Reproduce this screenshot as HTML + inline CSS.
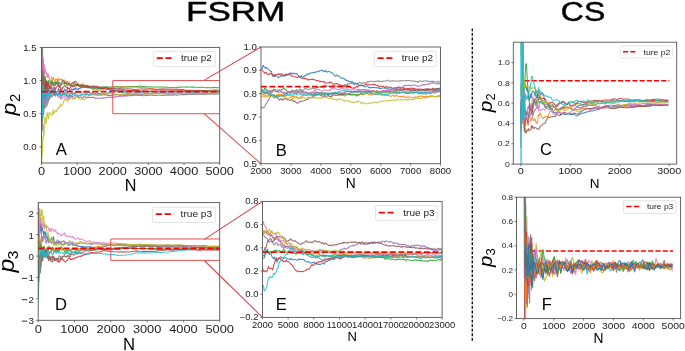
<!DOCTYPE html>
<html><head><meta charset="utf-8"><style>
html,body{margin:0;padding:0;background:#fff;width:685px;height:351px;overflow:hidden}
svg{display:block;will-change:transform}
</style></head><body>
<svg width="685" height="351" viewBox="0 0 685 351" font-family='"Liberation Sans", sans-serif'>
<rect width="685" height="351" fill="#fff"/>
<text transform="translate(235.60,21.00) scale(1.26,1)" font-size="27.8" text-anchor="middle" fill="#000" stroke="#000" stroke-width="0.45">FSRM</text>
<text transform="translate(583.00,21.00) scale(1.15,1)" font-size="27.8" text-anchor="middle" fill="#000" stroke="#000" stroke-width="0.45">CS</text>
<line x1="472.3" y1="28.5" x2="472.3" y2="341.8" stroke="#111" stroke-width="1.4" stroke-dasharray="2.8,1.75"/>
<clipPath id="cA"><rect x="41.5" y="47.4" width="178.2" height="115.6"/></clipPath>
<g clip-path="url(#cA)">
<polyline points="41.5,107.1 41.6,131.0 41.7,103.3 41.9,107.8 42.0,103.8 42.1,99.0 42.2,101.0 42.3,100.3 42.4,94.2 42.5,93.3 42.6,90.2 42.7,89.0 42.8,89.2 42.9,92.0 43.1,90.1 43.4,92.8 43.6,88.7 43.8,88.5 44.0,89.2 44.2,83.3 44.4,89.6 44.6,97.9 44.9,94.8 45.1,95.2 45.3,96.8 45.5,95.0 45.7,90.7 45.9,94.0 46.1,93.5 46.3,93.0 46.6,91.4 46.8,92.2 47.0,95.0 47.2,91.8 47.4,90.1 47.6,93.0 47.8,92.9 48.1,92.1 48.3,94.0 48.5,93.8 48.6,94.6 49.1,91.0 49.6,92.1 50.1,94.4 50.6,92.7 51.1,90.2 51.6,89.9 52.1,93.2 52.6,93.3 53.1,91.1 53.6,90.8 54.1,93.6 54.6,94.1 55.1,92.7 55.6,93.4 56.1,92.3 56.6,91.4 57.1,91.6 57.6,91.3 58.1,90.7 58.6,88.5 59.1,89.0 59.6,89.9 60.1,90.1 60.6,91.0 61.1,90.7 61.6,90.9 62.1,92.3 62.6,93.4 63.1,92.8 63.6,90.7 64.1,90.4 64.6,89.1 65.1,89.9 65.6,90.9 66.1,91.6 66.6,89.6 67.1,90.0 67.6,88.3 68.1,88.5 68.6,88.6 69.1,88.5 69.6,90.8 70.1,90.8 70.6,90.2 71.1,89.7 71.6,88.9 72.1,89.6 72.6,89.5 73.1,89.9 73.6,88.9 74.1,88.2 74.6,89.8 75.1,89.4 75.6,88.1 76.1,88.0 76.6,88.4 77.1,89.4 77.6,89.4 78.1,89.2 78.6,88.5 79.1,88.8 79.6,88.8 80.1,87.8 80.6,87.4 81.1,88.2 81.6,87.6 82.1,87.0 82.6,87.1 83.1,87.3 83.6,87.2 84.1,86.6 84.6,87.1 85.1,87.3 85.6,87.6 86.0,87.4 86.5,87.1 87.0,87.2 87.5,87.8 88.0,88.0 88.5,87.8 89.0,87.4 89.5,87.8 90.0,87.4 90.5,87.4 91.0,87.6 91.5,87.8 92.0,88.0 92.5,87.3 93.0,87.1 93.5,87.1 94.0,87.1 94.5,87.0 95.0,87.3 95.5,87.2 96.0,87.1 96.5,87.4 97.0,87.7 97.5,88.1 98.0,88.3 98.5,88.7 99.0,88.7 99.5,88.6 100.0,88.7 100.5,88.3 101.0,88.6 101.5,88.6 102.0,88.7 102.5,88.5 103.0,88.7 103.5,89.0 104.0,88.8 104.5,88.9 105.0,89.0 105.5,89.0 106.0,89.1 106.5,89.4 107.0,89.3 107.5,89.4 108.0,89.6 108.5,89.4 109.0,89.4 109.5,89.7 110.0,89.9 110.5,90.2 111.0,90.4 111.5,90.4 112.0,90.5 112.5,90.6 112.8,90.7 113.7,90.6 114.6,90.8 115.5,90.4 116.3,90.7 117.2,90.9 118.1,91.2 119.0,90.9 119.9,91.0 120.8,90.9 121.7,90.8 122.6,91.0 123.5,91.0 124.4,91.1 125.3,91.1 126.1,91.6 127.0,91.7 127.9,91.3 128.8,91.1 129.7,91.1 130.6,91.3 131.5,91.1 132.4,91.3 133.3,91.6 134.2,91.7 135.1,91.6 135.9,91.5 136.8,91.4 137.7,91.6 138.6,91.6 139.5,91.4 140.4,91.5 141.3,91.6 142.2,91.5 143.1,91.3 144.0,91.5 144.9,91.4 145.7,91.4 146.6,91.4 147.5,91.5 148.4,91.3 149.3,91.5 150.2,91.3 151.1,91.4 152.0,91.3 152.9,91.4 153.8,91.5 154.7,91.4 155.5,91.5 156.4,91.6 157.3,91.9 158.2,92.0 159.1,92.1 160.0,92.0 160.9,91.9 161.8,92.1 162.7,92.1 163.6,92.1 164.5,92.0 165.3,91.9 166.2,91.9 167.1,91.7 168.0,91.8 168.9,91.8 169.8,91.8 170.7,91.6 171.6,91.7 172.5,91.6 173.4,91.6 174.3,91.6 175.1,91.8 176.0,91.6 176.9,91.6 177.8,91.7 178.7,91.7 179.6,91.7 180.5,91.6 181.4,91.6 182.3,91.6 183.2,91.7 184.1,91.5 185.0,91.4 185.8,91.5 186.7,91.7 187.6,91.7 188.5,91.7 189.4,91.5 190.3,91.7 191.2,91.7 192.1,91.8 193.0,91.6 193.9,91.6 194.8,91.6 195.6,91.7 196.5,91.7 197.4,91.6 198.3,91.7 199.2,91.8 200.1,91.8 201.0,91.9 201.9,91.8 202.8,91.6 203.7,91.5 204.6,91.6 205.4,91.5 206.3,91.6 207.2,91.6 208.1,91.6 209.0,91.5 209.9,91.6 210.8,91.7 211.7,91.6 212.6,91.6 213.5,91.6 214.4,91.6 215.2,91.7 216.1,91.6 217.0,91.6 217.9,91.7 218.8,91.5 219.7,91.6" fill="none" stroke="#1f77b4" stroke-width="1.05" stroke-linejoin="round" stroke-opacity="0.85" />
<polyline points="41.5,87.2 41.6,83.2 41.7,85.7 41.9,57.9 42.0,80.5 42.1,72.2 42.2,64.0 42.3,78.8 42.4,79.1 42.5,66.5 42.6,61.5 42.7,65.7 42.8,82.4 42.9,71.9 43.1,69.7 43.4,76.0 43.6,78.5 43.8,82.7 44.0,86.8 44.2,81.4 44.4,83.1 44.6,87.6 44.9,88.3 45.1,89.3 45.3,87.7 45.5,88.9 45.7,85.7 45.9,82.6 46.1,79.9 46.3,82.6 46.6,88.1 46.8,87.8 47.0,89.9 47.2,87.5 47.4,82.5 47.6,82.3 47.8,83.1 48.1,84.8 48.3,85.9 48.5,84.3 48.6,85.1 49.1,83.4 49.6,83.9 50.1,81.4 50.6,83.2 51.1,80.0 51.6,76.9 52.1,79.2 52.6,78.7 53.1,79.1 53.6,77.4 54.1,79.9 54.6,81.2 55.1,81.0 55.6,79.1 56.1,79.1 56.6,80.1 57.1,79.0 57.6,80.0 58.1,80.1 58.6,78.3 59.1,80.3 59.6,79.3 60.1,79.4 60.6,79.1 61.1,79.6 61.6,79.6 62.1,79.4 62.6,81.4 63.1,80.8 63.6,81.2 64.1,80.9 64.6,79.9 65.1,82.2 65.6,81.4 66.1,81.7 66.6,81.9 67.1,81.5 67.6,81.7 68.1,82.4 68.6,82.5 69.1,81.8 69.6,83.5 70.1,84.2 70.6,85.1 71.1,85.6 71.6,84.0 72.1,83.6 72.6,83.7 73.1,84.6 73.6,83.3 74.1,83.4 74.6,83.0 75.1,83.4 75.6,84.2 76.1,84.4 76.6,84.4 77.1,83.7 77.6,84.2 78.1,84.4 78.6,85.7 79.1,85.9 79.6,86.3 80.1,86.1 80.6,86.0 81.1,85.8 81.6,85.6 82.1,84.1 82.6,83.8 83.1,84.3 83.6,84.9 84.1,85.1 84.6,85.4 85.1,85.3 85.6,85.3 86.0,85.8 86.5,85.6 87.0,86.0 87.5,86.1 88.0,85.7 88.5,86.4 89.0,86.7 89.5,86.2 90.0,86.8 90.5,87.5 91.0,88.1 91.5,88.0 92.0,88.6 92.5,89.3 93.0,89.5 93.5,89.5 94.0,88.9 94.5,88.7 95.0,89.0 95.5,88.9 96.0,89.5 96.5,89.4 97.0,89.4 97.5,90.0 98.0,90.1 98.5,90.5 99.0,90.1 99.5,89.8 100.0,90.2 100.5,90.2 101.0,89.5 101.5,89.3 102.0,89.1 102.5,89.2 103.0,89.2 103.5,88.8 104.0,89.0 104.5,88.8 105.0,88.8 105.5,88.8 106.0,88.5 106.5,88.4 107.0,88.7 107.5,88.3 108.0,88.3 108.5,88.5 109.0,88.3 109.5,88.2 110.0,88.2 110.5,88.1 111.0,87.9 111.5,87.7 112.0,87.3 112.5,87.4 112.8,87.2 113.7,87.1 114.6,87.0 115.5,87.0 116.3,87.1 117.2,87.0 118.1,86.8 119.0,86.9 119.9,86.8 120.8,86.5 121.7,86.6 122.6,86.9 123.5,86.7 124.4,86.7 125.3,86.8 126.1,86.8 127.0,86.8 127.9,86.7 128.8,86.8 129.7,87.0 130.6,86.9 131.5,86.7 132.4,86.8 133.3,86.7 134.2,86.8 135.1,86.7 135.9,86.9 136.8,87.0 137.7,87.1 138.6,87.4 139.5,87.5 140.4,87.5 141.3,87.6 142.2,87.7 143.1,87.6 144.0,87.7 144.9,87.8 145.7,87.9 146.6,88.0 147.5,88.1 148.4,88.3 149.3,88.4 150.2,88.4 151.1,88.6 152.0,88.6 152.9,88.8 153.8,88.9 154.7,88.9 155.5,89.3 156.4,89.3 157.3,89.4 158.2,89.5 159.1,89.5 160.0,89.5 160.9,89.4 161.8,89.3 162.7,89.4 163.6,89.5 164.5,89.4 165.3,89.5 166.2,89.6 167.1,89.7 168.0,89.8 168.9,89.7 169.8,89.7 170.7,89.9 171.6,89.8 172.5,89.9 173.4,89.8 174.3,89.8 175.1,89.9 176.0,89.9 176.9,90.0 177.8,89.9 178.7,89.9 179.6,90.1 180.5,90.3 181.4,90.4 182.3,90.2 183.2,90.3 184.1,90.3 185.0,90.5 185.8,90.4 186.7,90.5 187.6,90.5 188.5,90.4 189.4,90.4 190.3,90.3 191.2,90.3 192.1,90.4 193.0,90.3 193.9,90.4 194.8,90.3 195.6,90.4 196.5,90.3 197.4,90.3 198.3,90.4 199.2,90.2 200.1,90.2 201.0,90.3 201.9,90.4 202.8,90.6 203.7,90.5 204.6,90.6 205.4,90.6 206.3,90.7 207.2,90.8 208.1,90.9 209.0,91.0 209.9,91.0 210.8,91.0 211.7,91.1 212.6,91.2 213.5,91.2 214.4,91.0 215.2,91.0 216.1,90.9 217.0,90.9 217.9,91.0 218.8,91.1 219.7,91.2" fill="none" stroke="#ff7f0e" stroke-width="1.05" stroke-linejoin="round" stroke-opacity="0.85" />
<polyline points="41.5,47.4 41.6,38.1 41.7,77.0 41.9,27.2 42.0,51.1 42.1,38.2 42.2,45.4 42.3,40.6 42.4,53.0 42.5,54.4 42.6,49.3 42.7,61.3 42.8,57.2 42.9,57.3 43.1,57.6 43.4,63.3 43.6,73.4 43.8,70.7 44.0,72.5 44.2,73.0 44.4,77.2 44.6,80.4 44.9,81.3 45.1,80.5 45.3,81.7 45.5,77.0 45.7,80.3 45.9,82.8 46.1,87.7 46.3,87.0 46.6,80.8 46.8,86.0 47.0,85.9 47.2,85.6 47.4,85.5 47.6,83.5 47.8,82.0 48.1,83.7 48.3,82.8 48.5,81.2 48.6,80.3 49.1,85.0 49.6,88.1 50.1,86.6 50.6,81.7 51.1,86.8 51.6,80.8 52.1,80.4 52.6,81.1 53.1,84.4 53.6,82.6 54.1,85.3 54.6,82.7 55.1,81.9 55.6,84.3 56.1,81.9 56.6,84.0 57.1,83.3 57.6,80.6 58.1,82.4 58.6,82.0 59.1,83.8 59.6,82.4 60.1,84.0 60.6,84.5 61.1,84.4 61.6,84.7 62.1,84.2 62.6,84.1 63.1,82.8 63.6,83.8 64.1,83.4 64.6,84.2 65.1,83.6 65.6,82.7 66.1,83.8 66.6,85.0 67.1,85.4 67.6,84.4 68.1,84.7 68.6,84.5 69.1,84.9 69.6,85.6 70.1,85.4 70.6,85.4 71.1,85.5 71.6,85.8 72.1,85.2 72.6,85.4 73.1,85.4 73.6,85.3 74.1,85.2 74.6,84.0 75.1,85.0 75.6,84.3 76.1,85.1 76.6,86.0 77.1,84.6 77.6,83.9 78.1,84.6 78.6,85.2 79.1,85.6 79.6,85.9 80.1,86.7 80.6,86.5 81.1,86.5 81.6,86.7 82.1,87.0 82.6,87.2 83.1,86.8 83.6,86.4 84.1,86.7 84.6,87.0 85.1,86.6 85.6,87.0 86.0,87.5 86.5,86.8 87.0,86.4 87.5,86.9 88.0,87.4 88.5,87.1 89.0,86.9 89.5,87.1 90.0,87.5 90.5,88.0 91.0,88.4 91.5,88.2 92.0,88.2 92.5,88.1 93.0,87.8 93.5,88.1 94.0,88.6 94.5,88.8 95.0,88.6 95.5,88.1 96.0,88.1 96.5,88.1 97.0,88.3 97.5,88.1 98.0,88.4 98.5,88.2 99.0,88.0 99.5,88.0 100.0,88.0 100.5,87.8 101.0,87.3 101.5,86.9 102.0,87.1 102.5,87.3 103.0,86.7 103.5,86.7 104.0,86.7 104.5,86.8 105.0,86.9 105.5,87.1 106.0,87.0 106.5,86.8 107.0,87.0 107.5,87.0 108.0,87.1 108.5,86.9 109.0,87.0 109.5,87.1 110.0,87.0 110.5,87.0 111.0,86.9 111.5,86.8 112.0,86.8 112.5,86.7 112.8,86.7 113.7,86.9 114.6,87.0 115.5,87.0 116.3,86.9 117.2,86.6 118.1,86.6 119.0,86.9 119.9,87.2 120.8,87.1 121.7,87.3 122.6,87.3 123.5,87.3 124.4,87.1 125.3,87.0 126.1,86.9 127.0,86.9 127.9,86.7 128.8,86.7 129.7,86.7 130.6,86.8 131.5,86.8 132.4,87.0 133.3,86.8 134.2,86.8 135.1,86.7 135.9,86.6 136.8,86.6 137.7,86.4 138.6,86.3 139.5,86.1 140.4,86.1 141.3,86.2 142.2,86.3 143.1,86.5 144.0,86.6 144.9,86.7 145.7,86.6 146.6,86.7 147.5,86.9 148.4,87.0 149.3,86.9 150.2,86.8 151.1,86.9 152.0,87.0 152.9,87.0 153.8,87.1 154.7,87.2 155.5,87.0 156.4,87.1 157.3,86.9 158.2,86.9 159.1,86.9 160.0,87.0 160.9,87.1 161.8,86.8 162.7,87.1 163.6,87.2 164.5,87.1 165.3,87.1 166.2,87.2 167.1,87.2 168.0,87.2 168.9,87.3 169.8,87.4 170.7,87.4 171.6,87.4 172.5,87.4 173.4,87.5 174.3,87.7 175.1,87.6 176.0,87.4 176.9,87.4 177.8,87.4 178.7,87.1 179.6,87.1 180.5,87.1 181.4,87.2 182.3,87.1 183.2,87.0 184.1,87.1 185.0,87.0 185.8,87.1 186.7,87.1 187.6,87.1 188.5,87.0 189.4,87.1 190.3,87.2 191.2,87.2 192.1,87.1 193.0,87.1 193.9,87.1 194.8,87.2 195.6,87.3 196.5,87.3 197.4,87.3 198.3,87.3 199.2,87.4 200.1,87.4 201.0,87.3 201.9,87.3 202.8,87.3 203.7,87.4 204.6,87.6 205.4,87.7 206.3,87.7 207.2,87.6 208.1,87.6 209.0,87.7 209.9,87.7 210.8,87.7 211.7,87.7 212.6,87.6 213.5,87.6 214.4,87.6 215.2,87.5 216.1,87.6 217.0,87.6 217.9,87.7 218.8,87.7 219.7,87.6" fill="none" stroke="#2ca02c" stroke-width="1.05" stroke-linejoin="round" stroke-opacity="0.85" />
<polyline points="41.5,67.3 41.6,43.1 41.7,93.3 41.9,79.4 42.0,75.7 42.1,80.5 42.2,81.6 42.3,91.3 42.4,95.9 42.5,97.6 42.6,92.7 42.7,104.8 42.8,96.3 42.9,100.5 43.1,98.7 43.4,98.0 43.6,96.6 43.8,91.8 44.0,90.7 44.2,86.0 44.4,87.8 44.6,89.8 44.9,89.5 45.1,83.2 45.3,82.4 45.5,82.9 45.7,82.2 45.9,81.2 46.1,89.4 46.3,88.9 46.6,85.7 46.8,82.5 47.0,81.1 47.2,83.0 47.4,87.0 47.6,86.9 47.8,87.2 48.1,85.2 48.3,84.6 48.5,84.4 48.6,86.8 49.1,87.1 49.6,87.3 50.1,88.7 50.6,87.6 51.1,88.0 51.6,86.3 52.1,90.6 52.6,90.2 53.1,88.2 53.6,89.5 54.1,89.6 54.6,87.3 55.1,90.2 55.6,89.8 56.1,87.0 56.6,87.0 57.1,86.3 57.6,85.4 58.1,84.2 58.6,85.8 59.1,86.7 59.6,85.9 60.1,86.6 60.6,88.7 61.1,90.3 61.6,90.4 62.1,87.9 62.6,88.7 63.1,87.4 63.6,86.8 64.1,86.3 64.6,86.1 65.1,85.5 65.6,86.7 66.1,87.1 66.6,87.6 67.1,87.8 67.6,86.9 68.1,87.9 68.6,88.6 69.1,88.5 69.6,88.2 70.1,88.0 70.6,87.3 71.1,85.8 71.6,86.2 72.1,86.4 72.6,86.6 73.1,85.8 73.6,86.2 74.1,86.5 74.6,86.5 75.1,86.0 75.6,85.8 76.1,85.6 76.6,85.1 77.1,85.5 77.6,84.9 78.1,85.4 78.6,86.2 79.1,85.7 79.6,85.2 80.1,85.1 80.6,85.3 81.1,85.2 81.6,84.9 82.1,85.6 82.6,86.0 83.1,86.6 83.6,86.6 84.1,86.4 84.6,86.4 85.1,86.1 85.6,86.5 86.0,86.2 86.5,86.0 87.0,86.0 87.5,86.0 88.0,86.4 88.5,86.6 89.0,86.9 89.5,86.5 90.0,86.3 90.5,86.3 91.0,86.3 91.5,86.4 92.0,86.2 92.5,85.9 93.0,86.1 93.5,86.2 94.0,85.9 94.5,86.1 95.0,86.2 95.5,86.1 96.0,86.1 96.5,86.3 97.0,86.6 97.5,86.8 98.0,86.6 98.5,86.7 99.0,86.7 99.5,86.9 100.0,87.2 100.5,87.3 101.0,87.6 101.5,88.0 102.0,88.4 102.5,88.4 103.0,88.6 103.5,88.4 104.0,88.2 104.5,88.2 105.0,88.0 105.5,88.0 106.0,87.9 106.5,87.7 107.0,88.1 107.5,88.1 108.0,88.5 108.5,88.5 109.0,88.9 109.5,88.8 110.0,89.0 110.5,89.2 111.0,89.3 111.5,89.7 112.0,89.7 112.5,89.9 112.8,89.9 113.7,89.8 114.6,89.8 115.5,89.9 116.3,90.1 117.2,90.1 118.1,89.8 119.0,89.8 119.9,89.8 120.8,90.0 121.7,90.0 122.6,89.8 123.5,89.7 124.4,89.9 125.3,89.9 126.1,90.1 127.0,90.2 127.9,90.3 128.8,90.6 129.7,90.4 130.6,90.4 131.5,90.5 132.4,90.4 133.3,90.3 134.2,90.4 135.1,90.5 135.9,90.5 136.8,90.5 137.7,90.4 138.6,90.5 139.5,90.9 140.4,90.9 141.3,90.9 142.2,90.8 143.1,90.8 144.0,91.0 144.9,91.0 145.7,91.1 146.6,90.9 147.5,91.1 148.4,91.2 149.3,91.3 150.2,91.2 151.1,91.4 152.0,91.3 152.9,91.2 153.8,91.2 154.7,91.2 155.5,91.3 156.4,91.1 157.3,91.0 158.2,90.9 159.1,91.0 160.0,91.0 160.9,91.1 161.8,91.1 162.7,91.0 163.6,91.0 164.5,91.0 165.3,91.0 166.2,91.0 167.1,91.0 168.0,91.0 168.9,91.0 169.8,91.0 170.7,91.0 171.6,90.9 172.5,90.9 173.4,90.9 174.3,90.9 175.1,90.9 176.0,90.9 176.9,90.8 177.8,90.9 178.7,91.0 179.6,90.9 180.5,90.9 181.4,91.0 182.3,91.0 183.2,91.1 184.1,91.0 185.0,91.0 185.8,91.0 186.7,91.1 187.6,91.1 188.5,91.1 189.4,91.3 190.3,91.3 191.2,91.4 192.1,91.3 193.0,91.2 193.9,91.3 194.8,91.2 195.6,91.1 196.5,91.1 197.4,91.3 198.3,91.3 199.2,91.4 200.1,91.4 201.0,91.3 201.9,91.3 202.8,91.2 203.7,91.2 204.6,91.3 205.4,91.5 206.3,91.5 207.2,91.4 208.1,91.6 209.0,91.6 209.9,91.5 210.8,91.5 211.7,91.7 212.6,91.5 213.5,91.6 214.4,91.5 215.2,91.5 216.1,91.5 217.0,91.6 217.9,91.5 218.8,91.6 219.7,91.6" fill="none" stroke="#d62728" stroke-width="1.05" stroke-linejoin="round" stroke-opacity="0.85" />
<polyline points="41.5,140.3 41.6,83.3 41.7,123.4 41.9,128.7 42.0,123.4 42.1,116.7 42.2,129.9 42.3,119.1 42.4,114.1 42.5,105.0 42.6,102.9 42.7,106.4 42.8,110.2 42.9,100.1 43.1,106.8 43.4,108.0 43.6,107.2 43.8,103.7 44.0,96.2 44.2,105.7 44.4,95.4 44.6,95.7 44.9,103.0 45.1,103.6 45.3,96.2 45.5,97.8 45.7,99.7 45.9,100.5 46.1,94.8 46.3,92.3 46.6,94.8 46.8,95.4 47.0,97.4 47.2,96.1 47.4,93.3 47.6,93.8 47.8,96.8 48.1,92.9 48.3,93.6 48.5,92.5 48.6,92.7 49.1,98.3 49.6,95.5 50.1,96.7 50.6,96.2 51.1,91.8 51.6,92.8 52.1,92.6 52.6,93.2 53.1,93.3 53.6,94.3 54.1,95.8 54.6,93.5 55.1,95.5 55.6,94.7 56.1,92.5 56.6,92.2 57.1,94.2 57.6,95.4 58.1,94.9 58.6,94.1 59.1,93.1 59.6,94.9 60.1,95.3 60.6,98.4 61.1,97.1 61.6,96.7 62.1,94.9 62.6,95.1 63.1,94.8 63.6,94.6 64.1,94.3 64.6,93.4 65.1,95.9 65.6,95.9 66.1,96.3 66.6,95.4 67.1,95.9 67.6,97.2 68.1,95.4 68.6,96.5 69.1,97.7 69.6,95.6 70.1,95.1 70.6,95.5 71.1,96.6 71.6,95.9 72.1,96.0 72.6,96.8 73.1,96.6 73.6,96.0 74.1,96.0 74.6,95.0 75.1,94.6 75.6,95.6 76.1,96.0 76.6,96.1 77.1,96.8 77.6,96.4 78.1,96.7 78.6,97.4 79.1,97.5 79.6,97.3 80.1,97.1 80.6,97.2 81.1,97.2 81.6,97.3 82.1,97.6 82.6,97.9 83.1,98.2 83.6,97.4 84.1,96.3 84.6,95.9 85.1,96.2 85.6,97.3 86.0,97.4 86.5,98.2 87.0,97.6 87.5,97.6 88.0,97.6 88.5,97.4 89.0,97.7 89.5,97.4 90.0,97.6 90.5,97.5 91.0,97.2 91.5,97.7 92.0,97.5 92.5,97.5 93.0,97.1 93.5,97.2 94.0,97.7 94.5,97.4 95.0,98.2 95.5,98.5 96.0,98.3 96.5,98.2 97.0,98.3 97.5,98.0 98.0,98.4 98.5,98.2 99.0,98.3 99.5,98.3 100.0,98.3 100.5,98.6 101.0,98.4 101.5,98.2 102.0,98.1 102.5,98.0 103.0,97.6 103.5,98.1 104.0,97.9 104.5,98.0 105.0,98.0 105.5,97.9 106.0,97.8 106.5,97.5 107.0,97.4 107.5,97.1 108.0,97.3 108.5,97.4 109.0,97.4 109.5,97.3 110.0,97.3 110.5,97.4 111.0,97.3 111.5,97.4 112.0,97.8 112.5,98.0 112.8,97.6 113.7,97.3 114.6,97.2 115.5,97.1 116.3,96.8 117.2,96.6 118.1,96.1 119.0,96.1 119.9,96.1 120.8,95.8 121.7,96.0 122.6,95.9 123.5,95.7 124.4,95.5 125.3,95.7 126.1,95.4 127.0,95.6 127.9,95.6 128.8,95.8 129.7,95.6 130.6,95.6 131.5,95.6 132.4,95.3 133.3,95.2 134.2,95.2 135.1,95.1 135.9,95.0 136.8,95.1 137.7,95.1 138.6,94.9 139.5,94.8 140.4,94.7 141.3,94.6 142.2,94.5 143.1,94.3 144.0,94.2 144.9,94.0 145.7,94.0 146.6,93.9 147.5,94.0 148.4,93.7 149.3,93.6 150.2,93.6 151.1,93.8 152.0,93.8 152.9,93.7 153.8,93.8 154.7,93.7 155.5,93.5 156.4,93.7 157.3,93.6 158.2,93.5 159.1,93.5 160.0,93.5 160.9,93.5 161.8,93.6 162.7,93.5 163.6,93.8 164.5,93.9 165.3,94.0 166.2,93.8 167.1,94.0 168.0,94.1 168.9,94.1 169.8,94.1 170.7,94.0 171.6,94.0 172.5,94.0 173.4,94.0 174.3,93.9 175.1,93.9 176.0,93.8 176.9,93.7 177.8,93.7 178.7,93.7 179.6,93.8 180.5,93.8 181.4,94.0 182.3,94.0 183.2,94.0 184.1,94.0 185.0,93.9 185.8,93.9 186.7,94.1 187.6,94.1 188.5,94.0 189.4,93.8 190.3,94.0 191.2,93.9 192.1,94.0 193.0,94.0 193.9,93.8 194.8,93.9 195.6,94.0 196.5,94.1 197.4,93.9 198.3,93.7 199.2,93.8 200.1,93.7 201.0,93.6 201.9,93.6 202.8,93.4 203.7,93.4 204.6,93.3 205.4,93.3 206.3,93.3 207.2,93.4 208.1,93.3 209.0,93.3 209.9,93.3 210.8,93.4 211.7,93.3 212.6,93.4 213.5,93.4 214.4,93.4 215.2,93.5 216.1,93.4 217.0,93.3 217.9,93.2 218.8,93.1 219.7,93.0" fill="none" stroke="#9467bd" stroke-width="1.05" stroke-linejoin="round" stroke-opacity="0.85" />
<polyline points="41.5,113.7 41.6,87.9 41.7,121.5 41.9,108.1 42.0,100.8 42.1,92.1 42.2,106.6 42.3,82.2 42.4,73.6 42.5,78.9 42.6,77.3 42.7,63.9 42.8,75.5 42.9,77.1 43.1,71.2 43.4,84.5 43.6,81.3 43.8,79.1 44.0,86.8 44.2,78.6 44.4,85.5 44.6,87.5 44.9,89.6 45.1,91.6 45.3,85.0 45.5,93.6 45.7,92.0 45.9,92.8 46.1,91.9 46.3,90.9 46.6,81.2 46.8,83.9 47.0,87.7 47.2,91.8 47.4,88.7 47.6,86.6 47.8,88.6 48.1,88.9 48.3,87.9 48.5,89.3 48.6,91.0 49.1,91.4 49.6,86.4 50.1,88.5 50.6,86.5 51.1,88.0 51.6,84.4 52.1,82.4 52.6,83.3 53.1,85.7 53.6,85.9 54.1,85.6 54.6,85.9 55.1,85.4 55.6,84.9 56.1,82.2 56.6,83.2 57.1,82.9 57.6,83.9 58.1,84.2 58.6,83.8 59.1,87.8 59.6,87.0 60.1,86.1 60.6,84.8 61.1,83.1 61.6,83.2 62.1,81.7 62.6,79.8 63.1,81.0 63.6,80.7 64.1,81.6 64.6,83.5 65.1,82.7 65.6,82.7 66.1,82.8 66.6,82.7 67.1,83.7 67.6,83.4 68.1,83.0 68.6,84.0 69.1,83.7 69.6,84.1 70.1,84.1 70.6,84.1 71.1,84.0 71.6,83.4 72.1,83.5 72.6,83.0 73.1,81.9 73.6,82.6 74.1,82.8 74.6,82.0 75.1,81.2 75.6,81.2 76.1,82.1 76.6,82.2 77.1,82.8 77.6,83.9 78.1,84.7 78.6,84.3 79.1,84.8 79.6,85.1 80.1,85.6 80.6,85.1 81.1,85.1 81.6,85.6 82.1,86.0 82.6,85.7 83.1,84.8 83.6,85.1 84.1,85.5 84.6,85.8 85.1,85.7 85.6,85.8 86.0,85.7 86.5,85.6 87.0,85.8 87.5,85.6 88.0,86.0 88.5,86.1 89.0,86.7 89.5,86.7 90.0,86.9 90.5,86.8 91.0,86.9 91.5,86.6 92.0,86.4 92.5,86.7 93.0,86.8 93.5,87.1 94.0,87.0 94.5,87.1 95.0,87.3 95.5,87.5 96.0,87.3 96.5,87.5 97.0,87.7 97.5,88.0 98.0,87.7 98.5,87.6 99.0,87.5 99.5,87.7 100.0,87.7 100.5,88.1 101.0,88.3 101.5,87.7 102.0,87.8 102.5,87.9 103.0,87.9 103.5,87.7 104.0,87.5 104.5,87.5 105.0,87.3 105.5,87.6 106.0,87.7 106.5,87.7 107.0,87.6 107.5,87.9 108.0,88.0 108.5,87.9 109.0,88.0 109.5,88.1 110.0,88.5 110.5,88.4 111.0,88.3 111.5,88.5 112.0,88.4 112.5,88.4 112.8,88.5 113.7,88.4 114.6,88.4 115.5,88.5 116.3,88.8 117.2,88.8 118.1,88.8 119.0,88.5 119.9,88.4 120.8,88.6 121.7,88.9 122.6,88.8 123.5,88.7 124.4,88.9 125.3,89.0 126.1,88.9 127.0,88.8 127.9,88.8 128.8,88.7 129.7,89.1 130.6,88.9 131.5,89.2 132.4,89.1 133.3,89.3 134.2,89.5 135.1,89.4 135.9,89.2 136.8,89.2 137.7,89.4 138.6,89.2 139.5,89.1 140.4,89.0 141.3,88.9 142.2,88.9 143.1,88.9 144.0,89.0 144.9,89.2 145.7,89.1 146.6,89.2 147.5,89.1 148.4,89.0 149.3,88.9 150.2,89.1 151.1,89.2 152.0,89.1 152.9,89.1 153.8,89.3 154.7,89.4 155.5,89.5 156.4,89.6 157.3,89.5 158.2,89.2 159.1,89.1 160.0,89.1 160.9,89.1 161.8,89.0 162.7,88.8 163.6,89.0 164.5,89.0 165.3,88.9 166.2,88.9 167.1,89.0 168.0,89.0 168.9,89.1 169.8,89.0 170.7,88.9 171.6,89.0 172.5,89.2 173.4,89.2 174.3,89.2 175.1,89.2 176.0,89.1 176.9,89.1 177.8,89.2 178.7,89.3 179.6,89.4 180.5,89.4 181.4,89.5 182.3,89.6 183.2,89.8 184.1,89.8 185.0,90.2 185.8,90.2 186.7,90.2 187.6,90.2 188.5,90.2 189.4,90.2 190.3,90.4 191.2,90.4 192.1,90.4 193.0,90.4 193.9,90.5 194.8,90.6 195.6,90.5 196.5,90.7 197.4,90.6 198.3,90.4 199.2,90.4 200.1,90.5 201.0,90.5 201.9,90.6 202.8,90.6 203.7,90.5 204.6,90.5 205.4,90.6 206.3,90.6 207.2,90.6 208.1,90.5 209.0,90.5 209.9,90.4 210.8,90.3 211.7,90.2 212.6,90.2 213.5,90.2 214.4,90.1 215.2,90.1 216.1,90.1 217.0,90.1 217.9,90.2 218.8,90.3 219.7,90.3" fill="none" stroke="#8c564b" stroke-width="1.05" stroke-linejoin="round" stroke-opacity="0.85" />
<polyline points="41.5,54.0 41.6,80.0 41.7,45.8 41.9,60.6 42.0,61.7 42.1,61.0 42.2,61.2 42.3,58.8 42.4,55.1 42.5,68.0 42.6,57.9 42.7,69.3 42.8,67.1 42.9,62.8 43.1,66.5 43.4,66.9 43.6,63.7 43.8,72.7 44.0,74.3 44.2,68.0 44.4,64.5 44.6,68.8 44.9,68.0 45.1,71.3 45.3,73.4 45.5,69.2 45.7,71.7 45.9,72.3 46.1,71.3 46.3,71.9 46.6,76.8 46.8,73.9 47.0,75.0 47.2,77.4 47.4,73.8 47.6,77.0 47.8,76.4 48.1,73.2 48.3,74.5 48.5,76.3 48.6,77.8 49.1,76.6 49.6,81.2 50.1,85.8 50.6,83.6 51.1,85.6 51.6,86.7 52.1,88.4 52.6,88.5 53.1,87.6 53.6,87.5 54.1,90.4 54.6,90.6 55.1,91.3 55.6,91.0 56.1,92.7 56.6,92.1 57.1,93.8 57.6,94.5 58.1,96.9 58.6,97.7 59.1,97.1 59.6,95.2 60.1,95.8 60.6,95.0 61.1,96.9 61.6,98.9 62.1,99.3 62.6,98.3 63.1,97.3 63.6,97.3 64.1,96.4 64.6,96.8 65.1,98.1 65.6,98.7 66.1,98.2 66.6,98.5 67.1,98.4 67.6,99.0 68.1,98.0 68.6,97.5 69.1,97.5 69.6,98.1 70.1,98.4 70.6,97.4 71.1,97.5 71.6,96.8 72.1,97.2 72.6,98.5 73.1,98.6 73.6,99.1 74.1,98.8 74.6,98.3 75.1,98.6 75.6,98.2 76.1,96.5 76.6,96.4 77.1,95.8 77.6,95.6 78.1,95.2 78.6,95.3 79.1,95.8 79.6,95.5 80.1,95.9 80.6,96.1 81.1,95.7 81.6,95.6 82.1,96.0 82.6,95.6 83.1,94.7 83.6,94.4 84.1,94.7 84.6,94.8 85.1,94.9 85.6,95.3 86.0,94.6 86.5,94.9 87.0,95.0 87.5,94.5 88.0,94.6 88.5,94.6 89.0,94.7 89.5,94.7 90.0,94.6 90.5,94.4 91.0,94.3 91.5,94.4 92.0,94.5 92.5,94.2 93.0,93.9 93.5,94.0 94.0,94.2 94.5,94.3 95.0,94.8 95.5,94.7 96.0,94.9 96.5,94.2 97.0,94.7 97.5,94.4 98.0,94.1 98.5,94.0 99.0,93.7 99.5,93.4 100.0,93.7 100.5,93.8 101.0,94.0 101.5,94.2 102.0,94.5 102.5,94.7 103.0,94.8 103.5,94.7 104.0,94.7 104.5,94.7 105.0,94.7 105.5,94.9 106.0,95.0 106.5,95.1 107.0,95.4 107.5,95.1 108.0,95.3 108.5,95.1 109.0,95.2 109.5,95.2 110.0,95.5 110.5,95.9 111.0,95.8 111.5,95.7 112.0,95.5 112.5,95.8 112.8,95.8 113.7,96.0 114.6,96.1 115.5,96.0 116.3,96.4 117.2,96.5 118.1,96.5 119.0,96.6 119.9,96.4 120.8,96.2 121.7,96.2 122.6,96.2 123.5,96.1 124.4,96.4 125.3,96.1 126.1,96.1 127.0,96.0 127.9,95.5 128.8,95.4 129.7,95.4 130.6,95.2 131.5,95.1 132.4,94.9 133.3,94.7 134.2,94.3 135.1,94.1 135.9,94.1 136.8,94.0 137.7,94.2 138.6,94.1 139.5,94.0 140.4,94.1 141.3,94.0 142.2,94.0 143.1,93.9 144.0,93.8 144.9,93.8 145.7,93.6 146.6,93.6 147.5,93.7 148.4,93.6 149.3,93.6 150.2,93.5 151.1,93.3 152.0,93.2 152.9,93.3 153.8,93.3 154.7,93.4 155.5,93.2 156.4,93.4 157.3,93.3 158.2,93.3 159.1,93.4 160.0,93.5 160.9,93.4 161.8,93.4 162.7,93.3 163.6,93.4 164.5,93.3 165.3,93.2 166.2,93.2 167.1,93.2 168.0,93.4 168.9,93.4 169.8,93.4 170.7,93.5 171.6,93.4 172.5,93.3 173.4,93.3 174.3,93.3 175.1,93.2 176.0,93.3 176.9,93.2 177.8,93.1 178.7,93.0 179.6,92.9 180.5,93.0 181.4,93.1 182.3,93.0 183.2,93.2 184.1,93.2 185.0,93.3 185.8,93.4 186.7,93.4 187.6,93.2 188.5,93.1 189.4,93.3 190.3,93.3 191.2,93.2 192.1,93.3 193.0,93.3 193.9,93.3 194.8,93.3 195.6,93.1 196.5,93.0 197.4,93.0 198.3,93.0 199.2,92.8 200.1,93.0 201.0,93.0 201.9,93.0 202.8,93.1 203.7,93.0 204.6,93.0 205.4,93.1 206.3,93.2 207.2,93.1 208.1,93.0 209.0,93.0 209.9,93.1 210.8,93.1 211.7,93.1 212.6,93.1 213.5,93.2 214.4,93.1 215.2,93.2 216.1,93.2 217.0,93.2 217.9,93.3 218.8,93.3 219.7,93.4" fill="none" stroke="#e377c2" stroke-width="1.05" stroke-linejoin="round" stroke-opacity="0.85" />
<polyline points="41.5,133.6 41.6,122.9 41.7,133.1 41.9,130.3 42.0,123.4 42.1,118.9 42.2,122.1 42.3,120.0 42.4,122.4 42.5,119.4 42.6,121.3 42.7,98.2 42.8,101.7 42.9,118.9 43.1,103.5 43.4,110.2 43.6,106.3 43.8,114.8 44.0,105.5 44.2,106.5 44.4,108.2 44.6,105.2 44.9,106.0 45.1,108.1 45.3,108.1 45.5,103.7 45.7,99.9 45.9,98.5 46.1,95.5 46.3,100.8 46.6,101.7 46.8,106.8 47.0,105.3 47.2,105.8 47.4,103.7 47.6,99.5 47.8,97.7 48.1,101.3 48.3,102.4 48.5,101.0 48.6,99.2 49.1,97.5 49.6,99.5 50.1,96.2 50.6,93.9 51.1,96.5 51.6,97.1 52.1,96.5 52.6,95.6 53.1,94.5 53.6,94.2 54.1,94.0 54.6,92.9 55.1,95.6 55.6,94.8 56.1,93.3 56.6,94.9 57.1,94.5 57.6,93.6 58.1,94.2 58.6,93.8 59.1,93.5 59.6,93.8 60.1,93.8 60.6,92.2 61.1,94.5 61.6,94.5 62.1,95.0 62.6,94.8 63.1,94.6 63.6,93.3 64.1,92.6 64.6,92.9 65.1,93.5 65.6,92.8 66.1,94.7 66.6,93.2 67.1,92.7 67.6,92.7 68.1,93.0 68.6,93.2 69.1,93.7 69.6,94.9 70.1,94.4 70.6,93.8 71.1,93.9 71.6,92.7 72.1,92.9 72.6,93.7 73.1,94.1 73.6,93.8 74.1,93.2 74.6,92.7 75.1,92.4 75.6,92.3 76.1,92.9 76.6,92.5 77.1,92.4 77.6,92.3 78.1,91.8 78.6,92.6 79.1,92.6 79.6,93.4 80.1,93.1 80.6,93.2 81.1,92.4 81.6,92.9 82.1,92.7 82.6,92.4 83.1,91.6 83.6,91.6 84.1,92.1 84.6,92.5 85.1,92.6 85.6,93.5 86.0,94.0 86.5,93.4 87.0,93.2 87.5,93.1 88.0,92.6 88.5,92.2 89.0,92.6 89.5,92.8 90.0,93.1 90.5,93.3 91.0,92.9 91.5,93.1 92.0,92.7 92.5,92.6 93.0,93.4 93.5,93.7 94.0,94.2 94.5,94.2 95.0,94.3 95.5,94.2 96.0,94.1 96.5,94.1 97.0,94.0 97.5,93.8 98.0,94.1 98.5,93.9 99.0,94.1 99.5,94.4 100.0,94.9 100.5,94.8 101.0,94.8 101.5,95.0 102.0,94.9 102.5,94.6 103.0,94.5 103.5,94.1 104.0,94.3 104.5,94.7 105.0,94.7 105.5,94.8 106.0,94.8 106.5,94.7 107.0,94.8 107.5,95.0 108.0,95.3 108.5,95.4 109.0,95.3 109.5,95.4 110.0,95.5 110.5,95.3 111.0,95.6 111.5,95.3 112.0,95.1 112.5,95.1 112.8,94.9 113.7,94.6 114.6,94.4 115.5,94.6 116.3,94.6 117.2,94.7 118.1,94.8 119.0,94.8 119.9,94.9 120.8,95.0 121.7,94.9 122.6,94.8 123.5,94.8 124.4,94.5 125.3,94.8 126.1,94.5 127.0,94.4 127.9,94.3 128.8,94.5 129.7,94.6 130.6,94.8 131.5,94.8 132.4,94.8 133.3,94.9 134.2,94.8 135.1,94.9 135.9,95.0 136.8,95.0 137.7,95.2 138.6,95.3 139.5,95.4 140.4,95.4 141.3,95.5 142.2,95.6 143.1,95.8 144.0,95.7 144.9,95.5 145.7,95.6 146.6,95.6 147.5,95.5 148.4,95.5 149.3,95.3 150.2,95.2 151.1,95.3 152.0,95.3 152.9,95.5 153.8,95.4 154.7,95.4 155.5,95.4 156.4,95.4 157.3,95.3 158.2,95.3 159.1,95.2 160.0,95.2 160.9,95.4 161.8,95.6 162.7,95.4 163.6,95.4 164.5,95.2 165.3,95.2 166.2,95.1 167.1,95.2 168.0,95.3 168.9,95.3 169.8,95.3 170.7,95.3 171.6,95.2 172.5,95.1 173.4,95.2 174.3,95.0 175.1,94.9 176.0,95.1 176.9,95.1 177.8,95.1 178.7,94.9 179.6,94.8 180.5,94.7 181.4,94.7 182.3,94.6 183.2,94.6 184.1,94.7 185.0,94.8 185.8,94.6 186.7,94.6 187.6,94.4 188.5,94.3 189.4,94.3 190.3,94.2 191.2,94.4 192.1,94.4 193.0,94.4 193.9,94.3 194.8,94.3 195.6,94.3 196.5,94.3 197.4,94.3 198.3,94.2 199.2,94.2 200.1,94.2 201.0,94.3 201.9,94.2 202.8,94.4 203.7,94.4 204.6,94.5 205.4,94.4 206.3,94.3 207.2,94.2 208.1,94.2 209.0,94.2 209.9,94.2 210.8,94.3 211.7,94.3 212.6,94.2 213.5,94.2 214.4,94.1 215.2,94.1 216.1,93.9 217.0,93.9 217.9,93.9 218.8,93.9 219.7,93.8" fill="none" stroke="#7f7f7f" stroke-width="1.05" stroke-linejoin="round" stroke-opacity="0.85" />
<polyline points="41.5,166.8 41.6,193.0 41.7,163.5 41.9,156.8 42.0,153.5 42.1,141.4 42.2,155.1 42.3,139.0 42.4,153.1 42.5,140.7 42.6,150.4 42.7,142.8 42.8,139.9 42.9,140.7 43.1,135.9 43.4,137.7 43.6,124.0 43.8,130.8 44.0,136.3 44.2,128.0 44.4,122.2 44.6,122.6 44.9,116.7 45.1,118.8 45.3,121.1 45.5,120.2 45.7,119.1 45.9,123.0 46.1,124.0 46.3,122.8 46.6,120.7 46.8,116.7 47.0,113.0 47.2,112.6 47.4,113.9 47.6,115.4 47.8,114.6 48.1,117.2 48.3,118.7 48.5,117.6 48.6,118.5 49.1,112.5 49.6,112.7 50.1,112.9 50.6,114.5 51.1,114.2 51.6,114.6 52.1,115.5 52.6,112.4 53.1,109.7 53.6,113.6 54.1,113.4 54.6,112.7 55.1,111.1 55.6,110.4 56.1,110.7 56.6,111.7 57.1,109.6 57.6,108.6 58.1,108.1 58.6,108.3 59.1,106.7 59.6,107.4 60.1,105.9 60.6,104.0 61.1,106.1 61.6,105.7 62.1,105.4 62.6,104.8 63.1,103.2 63.6,102.0 64.1,100.0 64.6,100.2 65.1,99.5 65.6,99.6 66.1,99.8 66.6,100.0 67.1,101.4 67.6,100.2 68.1,98.7 68.6,99.0 69.1,99.9 69.6,98.5 70.1,97.9 70.6,97.5 71.1,97.5 71.6,97.6 72.1,97.6 72.6,98.5 73.1,98.8 73.6,98.9 74.1,98.4 74.6,97.8 75.1,97.7 75.6,97.0 76.1,96.1 76.6,96.2 77.1,96.9 77.6,97.0 78.1,98.0 78.6,98.8 79.1,98.6 79.6,98.9 80.1,99.0 80.6,99.4 81.1,99.5 81.6,99.1 82.1,99.2 82.6,98.8 83.1,99.1 83.6,99.4 84.1,99.5 84.6,99.2 85.1,98.6 85.6,98.3 86.0,98.0 86.5,97.5 87.0,97.2 87.5,96.9 88.0,96.5 88.5,95.9 89.0,95.7 89.5,95.7 90.0,95.3 90.5,95.7 91.0,95.7 91.5,95.0 92.0,94.7 92.5,94.6 93.0,95.0 93.5,95.0 94.0,94.9 94.5,94.9 95.0,95.0 95.5,95.1 96.0,95.1 96.5,95.3 97.0,95.5 97.5,95.4 98.0,95.6 98.5,95.6 99.0,95.3 99.5,95.5 100.0,95.6 100.5,95.3 101.0,95.3 101.5,95.2 102.0,94.8 102.5,94.8 103.0,94.6 103.5,94.7 104.0,94.8 104.5,94.7 105.0,94.5 105.5,94.2 106.0,94.0 106.5,94.2 107.0,94.2 107.5,94.2 108.0,93.8 108.5,94.0 109.0,93.4 109.5,93.3 110.0,93.3 110.5,93.2 111.0,93.2 111.5,93.4 112.0,93.7 112.5,93.5 112.8,94.1 113.7,94.0 114.6,94.0 115.5,94.1 116.3,94.2 117.2,94.2 118.1,94.4 119.0,94.5 119.9,94.4 120.8,94.4 121.7,94.3 122.6,94.0 123.5,94.1 124.4,94.2 125.3,94.3 126.1,94.0 127.0,93.8 127.9,93.9 128.8,94.1 129.7,94.1 130.6,94.1 131.5,94.0 132.4,93.7 133.3,93.9 134.2,93.7 135.1,93.8 135.9,93.7 136.8,93.8 137.7,93.8 138.6,94.0 139.5,93.8 140.4,93.7 141.3,93.7 142.2,93.9 143.1,94.1 144.0,94.2 144.9,94.1 145.7,94.2 146.6,94.1 147.5,93.9 148.4,94.0 149.3,94.1 150.2,94.1 151.1,93.9 152.0,94.0 152.9,93.9 153.8,93.9 154.7,93.8 155.5,93.5 156.4,93.7 157.3,93.7 158.2,93.7 159.1,93.9 160.0,93.8 160.9,93.8 161.8,93.9 162.7,93.7 163.6,93.7 164.5,93.7 165.3,93.8 166.2,93.8 167.1,93.6 168.0,93.6 168.9,93.6 169.8,93.5 170.7,93.4 171.6,93.6 172.5,93.6 173.4,93.6 174.3,93.5 175.1,93.5 176.0,93.7 176.9,93.5 177.8,93.4 178.7,93.5 179.6,93.6 180.5,93.6 181.4,93.4 182.3,93.6 183.2,93.4 184.1,93.5 185.0,93.4 185.8,93.4 186.7,93.3 187.6,93.2 188.5,93.2 189.4,93.2 190.3,93.1 191.2,93.1 192.1,93.1 193.0,93.1 193.9,93.1 194.8,93.2 195.6,93.0 196.5,92.9 197.4,93.0 198.3,93.2 199.2,93.3 200.1,93.1 201.0,93.2 201.9,93.1 202.8,93.2 203.7,93.1 204.6,93.0 205.4,93.0 206.3,93.0 207.2,92.9 208.1,92.8 209.0,92.9 209.9,93.0 210.8,92.9 211.7,93.0 212.6,93.1 213.5,93.1 214.4,93.1 215.2,93.0 216.1,93.0 217.0,92.9 217.9,92.9 218.8,93.1 219.7,93.0" fill="none" stroke="#bcbd22" stroke-width="1.05" stroke-linejoin="round" stroke-opacity="0.85" />
<polyline points="41.5,80.6 41.6,50.5 41.7,99.2 41.9,86.5 42.0,88.8 42.1,102.5 42.2,110.5 42.3,116.5 42.4,100.2 42.5,115.3 42.6,97.7 42.7,103.9 42.8,98.3 42.9,86.6 43.1,103.2 43.4,94.7 43.6,90.5 43.8,94.8 44.0,91.2 44.2,91.8 44.4,89.7 44.6,94.0 44.9,89.9 45.1,94.4 45.3,92.7 45.5,90.1 45.7,93.1 45.9,93.5 46.1,98.0 46.3,95.4 46.6,95.1 46.8,94.0 47.0,97.2 47.2,100.3 47.4,95.1 47.6,92.8 47.8,93.3 48.1,95.7 48.3,95.4 48.5,95.4 48.6,94.2 49.1,91.9 49.6,91.7 50.1,92.5 50.6,95.4 51.1,97.4 51.6,94.6 52.1,92.2 52.6,88.9 53.1,91.7 53.6,89.3 54.1,91.8 54.6,93.8 55.1,94.8 55.6,96.3 56.1,94.0 56.6,93.0 57.1,94.9 57.6,95.8 58.1,95.3 58.6,93.9 59.1,92.3 59.6,94.7 60.1,94.2 60.6,94.2 61.1,94.8 61.6,95.0 62.1,96.1 62.6,95.0 63.1,94.8 63.6,94.5 64.1,95.0 64.6,93.7 65.1,94.1 65.6,92.9 66.1,94.5 66.6,95.2 67.1,94.0 67.6,95.1 68.1,95.8 68.6,95.5 69.1,95.8 69.6,96.1 70.1,95.4 70.6,95.1 71.1,96.7 71.6,95.6 72.1,95.4 72.6,93.3 73.1,94.4 73.6,94.0 74.1,94.1 74.6,93.5 75.1,93.7 75.6,93.8 76.1,93.7 76.6,93.7 77.1,94.5 77.6,95.8 78.1,96.1 78.6,96.2 79.1,95.7 79.6,95.4 80.1,95.4 80.6,94.7 81.1,94.4 81.6,94.4 82.1,94.4 82.6,94.5 83.1,94.1 83.6,94.1 84.1,94.3 84.6,94.3 85.1,94.0 85.6,94.4 86.0,94.6 86.5,94.1 87.0,94.0 87.5,94.7 88.0,94.7 88.5,95.1 89.0,95.1 89.5,94.5 90.0,94.7 90.5,94.2 91.0,94.1 91.5,94.1 92.0,94.1 92.5,94.0 93.0,93.6 93.5,94.0 94.0,93.5 94.5,93.4 95.0,93.4 95.5,93.3 96.0,93.1 96.5,92.7 97.0,92.7 97.5,93.0 98.0,92.7 98.5,93.1 99.0,93.1 99.5,93.4 100.0,93.4 100.5,93.6 101.0,93.9 101.5,93.7 102.0,93.7 102.5,93.6 103.0,93.4 103.5,93.3 104.0,93.3 104.5,93.5 105.0,93.5 105.5,93.6 106.0,93.4 106.5,93.0 107.0,93.0 107.5,92.7 108.0,92.6 108.5,92.5 109.0,92.4 109.5,92.1 110.0,91.8 110.5,91.6 111.0,91.5 111.5,91.3 112.0,91.0 112.5,91.0 112.8,91.8 113.7,91.8 114.6,91.9 115.5,92.0 116.3,91.8 117.2,91.7 118.1,91.8 119.0,92.0 119.9,92.2 120.8,92.1 121.7,92.5 122.6,92.6 123.5,92.7 124.4,92.6 125.3,92.7 126.1,92.9 127.0,92.9 127.9,93.1 128.8,93.2 129.7,93.1 130.6,93.0 131.5,92.9 132.4,93.0 133.3,92.9 134.2,93.0 135.1,92.9 135.9,92.7 136.8,92.7 137.7,92.6 138.6,92.7 139.5,92.6 140.4,92.4 141.3,92.3 142.2,92.3 143.1,92.1 144.0,92.1 144.9,92.1 145.7,92.0 146.6,91.9 147.5,91.9 148.4,91.9 149.3,92.0 150.2,91.9 151.1,91.8 152.0,91.8 152.9,91.6 153.8,91.7 154.7,91.8 155.5,92.0 156.4,91.8 157.3,91.8 158.2,91.7 159.1,91.8 160.0,91.8 160.9,91.9 161.8,91.9 162.7,91.9 163.6,91.9 164.5,91.9 165.3,91.9 166.2,91.8 167.1,92.0 168.0,92.1 168.9,91.9 169.8,91.8 170.7,91.9 171.6,91.9 172.5,91.8 173.4,91.9 174.3,92.0 175.1,91.9 176.0,92.0 176.9,92.1 177.8,92.2 178.7,92.0 179.6,92.1 180.5,91.9 181.4,92.0 182.3,92.0 183.2,92.0 184.1,91.8 185.0,91.9 185.8,91.9 186.7,92.0 187.6,92.1 188.5,92.1 189.4,92.2 190.3,92.1 191.2,92.1 192.1,92.2 193.0,92.1 193.9,92.2 194.8,92.0 195.6,92.1 196.5,92.1 197.4,92.1 198.3,92.0 199.2,92.0 200.1,91.8 201.0,91.7 201.9,91.8 202.8,91.8 203.7,91.8 204.6,91.9 205.4,91.8 206.3,91.7 207.2,91.7 208.1,91.7 209.0,91.5 209.9,91.6 210.8,91.5 211.7,91.5 212.6,91.6 213.5,91.7 214.4,91.7 215.2,91.7 216.1,91.8 217.0,91.8 217.9,91.8 218.8,91.9 219.7,91.9" fill="none" stroke="#17becf" stroke-width="1.05" stroke-linejoin="round" stroke-opacity="0.85" />
</g>
<polyline points="41.5,91.6 219.7,91.6" fill="none" stroke="#f00" stroke-width="1.8" stroke-linejoin="round" stroke-dasharray="5.85,2.61"/>
<path d="M219.70,80.57 H112.78 V113.73 H219.70" fill="none" stroke="#e5484b" stroke-width="0.95"/>
<rect x="41.5" y="47.4" width="178.2" height="115.6" fill="none" stroke="#555" stroke-width="0.9"/>
<line x1="41.50" y1="163.0" x2="41.50" y2="165.0" stroke="#555" stroke-width="0.8"/>
<text transform="translate(41.50,174.90) scale(1.13,1)" font-size="11.3" text-anchor="middle" fill="#222" >0</text>
<line x1="77.14" y1="163.0" x2="77.14" y2="165.0" stroke="#555" stroke-width="0.8"/>
<text transform="translate(77.14,174.90) scale(1.13,1)" font-size="11.3" text-anchor="middle" fill="#222" >1000</text>
<line x1="112.78" y1="163.0" x2="112.78" y2="165.0" stroke="#555" stroke-width="0.8"/>
<text transform="translate(112.78,174.90) scale(1.13,1)" font-size="11.3" text-anchor="middle" fill="#222" >2000</text>
<line x1="148.42" y1="163.0" x2="148.42" y2="165.0" stroke="#555" stroke-width="0.8"/>
<text transform="translate(148.42,174.90) scale(1.13,1)" font-size="11.3" text-anchor="middle" fill="#222" >3000</text>
<line x1="184.06" y1="163.0" x2="184.06" y2="165.0" stroke="#555" stroke-width="0.8"/>
<text transform="translate(184.06,174.90) scale(1.13,1)" font-size="11.3" text-anchor="middle" fill="#222" >4000</text>
<line x1="219.70" y1="163.0" x2="219.70" y2="165.0" stroke="#555" stroke-width="0.8"/>
<text transform="translate(219.70,174.90) scale(1.13,1)" font-size="11.3" text-anchor="middle" fill="#222" >5000</text>
<line x1="39.5" y1="146.90" x2="41.5" y2="146.90" stroke="#555" stroke-width="0.8"/>
<text transform="translate(36.60,150.10) scale(0.98,1)" font-size="9.8" text-anchor="end" fill="#222" >0.0</text>
<line x1="39.5" y1="113.73" x2="41.5" y2="113.73" stroke="#555" stroke-width="0.8"/>
<text transform="translate(36.60,116.93) scale(0.98,1)" font-size="9.8" text-anchor="end" fill="#222" >0.5</text>
<line x1="39.5" y1="80.57" x2="41.5" y2="80.57" stroke="#555" stroke-width="0.8"/>
<text transform="translate(36.60,83.77) scale(0.98,1)" font-size="9.8" text-anchor="end" fill="#222" >1.0</text>
<line x1="39.5" y1="47.40" x2="41.5" y2="47.40" stroke="#555" stroke-width="0.8"/>
<text transform="translate(36.60,50.60) scale(0.98,1)" font-size="9.8" text-anchor="end" fill="#222" >1.5</text>
<rect x="153.4" y="51.4" width="62.0" height="15.199999999999996" rx="1.5" fill="#fff" fill-opacity="0.85" stroke="#ddd" stroke-width="0.8"/>
<line x1="156.7" y1="58.2" x2="171.6" y2="58.2" stroke="#f00" stroke-width="1.8" stroke-dasharray="6.11,2.68"/>
<text transform="translate(181.00,61.40) scale(1.15,1)" font-size="8.6" text-anchor="start" fill="#222" >true p2</text>
<text transform="translate(61.20,154.80) scale(1.05,1)" font-size="15.8" text-anchor="middle" fill="#000" >A</text>
<text transform="translate(130.60,191.30) scale(1.0,1)" font-size="16.2" text-anchor="middle" fill="#000" >N</text>
<text transform="translate(15.5,115.6) rotate(-90) scale(1.1,1)" font-size="21" fill="#000" font-style="italic">p</text>
<text transform="translate(19.6,102.1) rotate(-90)" font-size="14.8" fill="#000">2</text>
<clipPath id="cB"><rect x="261.0" y="47.0" width="179.5" height="116.69999999999999"/></clipPath>
<g clip-path="url(#cB)">
<polyline points="261.0,69.3 261.7,68.5 262.5,68.0 263.2,65.4 264.0,66.6 264.7,67.0 265.5,68.5 266.2,67.4 267.0,68.5 267.7,68.6 268.5,69.0 269.2,70.1 270.0,70.8 270.7,71.4 271.5,71.6 272.2,75.2 273.0,76.7 273.7,75.8 274.5,75.2 275.2,75.0 276.0,76.1 276.7,75.9 277.5,76.2 278.2,77.7 278.9,77.4 279.7,77.0 280.4,76.4 281.2,75.3 281.9,76.1 282.7,76.1 283.4,75.4 284.2,75.1 284.9,76.2 285.7,75.1 286.4,74.1 287.2,74.8 287.9,74.1 288.7,73.6 289.4,73.5 290.2,73.9 290.9,72.6 291.7,74.0 292.4,73.6 293.2,73.9 293.9,73.0 294.7,73.3 295.4,73.9 296.2,73.6 296.9,73.6 297.6,74.8 298.4,75.7 299.1,76.5 299.9,76.6 300.6,76.8 301.4,75.5 302.1,76.9 302.9,77.0 303.6,76.7 304.4,75.7 305.1,76.1 305.9,75.4 306.6,74.0 307.4,74.1 308.1,74.1 308.9,74.4 309.6,73.2 310.4,72.9 311.1,72.8 311.9,72.9 312.6,72.6 313.4,73.0 314.1,72.1 314.9,72.5 315.6,72.0 316.3,72.1 317.1,71.7 317.8,71.3 318.6,71.7 319.3,70.8 320.1,70.9 320.8,70.4 321.6,70.0 322.3,70.2 323.1,71.2 323.8,71.7 324.6,71.4 325.3,70.4 326.1,71.7 326.8,71.6 327.6,72.2 328.3,71.6 329.1,71.4 329.8,71.9 330.6,72.0 331.3,72.9 332.1,73.0 332.8,73.1 333.5,74.6 334.3,75.2 335.0,76.2 335.8,75.8 336.5,75.0 337.3,75.1 338.0,76.1 338.8,75.9 339.5,76.8 340.3,77.0 341.0,77.8 341.8,78.3 342.5,78.3 343.3,78.1 344.0,78.8 344.8,79.3 345.5,80.2 346.3,79.9 347.0,80.8 347.8,80.4 348.5,81.4 349.3,81.6 350.0,81.6 350.8,81.5 351.5,82.4 352.2,81.4 353.0,82.8 353.7,82.8 354.5,84.1 355.2,83.3 356.0,83.1 356.7,83.5 357.5,84.2 358.2,84.9 359.0,84.7 359.7,85.1 360.5,85.5 361.2,85.5 362.0,85.7 362.7,85.7 363.5,86.4 364.2,86.8 365.0,86.9 365.7,86.7 366.5,85.8 367.2,86.1 368.0,86.6 368.7,87.6 369.4,87.7 370.2,87.4 370.9,87.9 371.7,87.4 372.4,87.4 373.2,87.8 373.9,87.4 374.7,87.4 375.4,87.8 376.2,87.8 376.9,87.6 377.7,88.0 378.4,87.6 379.2,88.5 379.9,88.2 380.7,88.7 381.4,88.3 382.2,88.0 382.9,87.9 383.7,87.9 384.4,88.2 385.2,87.3 385.9,88.4 386.6,88.2 387.4,88.8 388.1,89.2 388.9,89.1 389.6,88.9 390.4,89.0 391.1,89.1 391.9,89.1 392.6,89.2 393.4,88.7 394.1,89.5 394.9,89.1 395.6,89.2 396.4,89.7 397.1,88.6 397.9,89.3 398.6,89.3 399.4,89.6 400.1,89.3 400.9,89.8 401.6,90.3 402.4,90.0 403.1,89.5 403.9,89.9 404.6,89.3 405.3,89.5 406.1,89.3 406.8,89.5 407.6,89.0 408.3,89.2 409.1,89.2 409.8,90.1 410.6,90.7 411.3,90.7 412.1,90.1 412.8,90.2 413.6,90.3 414.3,89.3 415.1,89.9 415.8,89.8 416.6,90.2 417.3,90.1 418.1,90.0 418.8,90.1 419.6,90.0 420.3,90.1 421.1,89.7 421.8,89.8 422.6,89.7 423.3,90.0 424.0,89.7 424.8,90.2 425.5,89.2 426.3,89.3 427.0,89.2 427.8,89.6 428.5,89.9 429.3,89.4 430.0,89.4 430.8,89.5 431.5,89.4 432.3,89.1 433.0,89.1 433.8,89.0 434.5,89.3 435.3,88.9 436.0,89.1 436.8,88.4 437.5,89.0 438.3,88.5 439.0,88.2 439.8,88.3 440.5,87.6" fill="none" stroke="#1f77b4" stroke-width="1.05" stroke-linejoin="round" stroke-opacity="0.85" />
<polyline points="261.0,97.2 261.7,96.7 262.5,96.0 263.2,95.6 264.0,96.6 264.7,96.2 265.5,95.6 266.2,96.2 267.0,95.6 267.7,94.7 268.5,94.8 269.2,96.4 270.0,95.4 270.7,95.3 271.5,95.3 272.2,95.5 273.0,96.0 273.7,95.1 274.5,95.2 275.2,96.4 276.0,95.8 276.7,94.6 277.5,95.3 278.2,94.3 278.9,94.6 279.7,94.4 280.4,94.8 281.2,94.8 281.9,94.3 282.7,95.5 283.4,95.5 284.2,96.4 284.9,96.1 285.7,96.1 286.4,95.3 287.2,95.2 287.9,95.7 288.7,95.7 289.4,95.3 290.2,95.8 290.9,96.0 291.7,96.5 292.4,96.1 293.2,96.9 293.9,96.1 294.7,96.8 295.4,96.9 296.2,97.2 296.9,98.1 297.6,97.7 298.4,97.9 299.1,98.2 299.9,97.8 300.6,96.8 301.4,96.9 302.1,95.7 302.9,95.5 303.6,95.8 304.4,95.3 305.1,95.5 305.9,95.5 306.6,95.1 307.4,95.5 308.1,94.8 308.9,94.5 309.6,95.4 310.4,95.0 311.1,95.5 311.9,94.9 312.6,94.3 313.4,94.6 314.1,94.4 314.9,94.9 315.6,93.9 316.3,93.4 317.1,94.2 317.8,94.9 318.6,94.7 319.3,94.5 320.1,94.4 320.8,94.2 321.6,94.4 322.3,94.8 323.1,94.5 323.8,94.3 324.6,94.6 325.3,93.6 326.1,93.7 326.8,93.7 327.6,94.0 328.3,93.5 329.1,94.1 329.8,93.3 330.6,93.6 331.3,93.6 332.1,93.1 332.8,93.4 333.5,92.5 334.3,92.2 335.0,92.6 335.8,92.8 336.5,93.6 337.3,93.6 338.0,94.1 338.8,94.2 339.5,94.5 340.3,94.8 341.0,95.3 341.8,94.9 342.5,95.2 343.3,94.8 344.0,95.0 344.8,96.2 345.5,95.3 346.3,94.7 347.0,95.1 347.8,94.3 348.5,94.0 349.3,94.5 350.0,94.7 350.8,95.3 351.5,95.3 352.2,95.4 353.0,94.3 353.7,95.1 354.5,95.3 355.2,94.9 356.0,94.4 356.7,95.0 357.5,95.5 358.2,94.7 359.0,94.9 359.7,94.2 360.5,94.1 361.2,93.7 362.0,94.0 362.7,94.4 363.5,94.3 364.2,94.2 365.0,94.1 365.7,94.0 366.5,93.8 367.2,93.2 368.0,94.0 368.7,94.8 369.4,94.5 370.2,94.7 370.9,94.6 371.7,94.8 372.4,94.3 373.2,94.2 373.9,94.9 374.7,93.7 375.4,93.7 376.2,94.3 376.9,94.2 377.7,94.2 378.4,94.7 379.2,93.9 379.9,94.3 380.7,94.4 381.4,95.1 382.2,95.7 382.9,94.8 383.7,94.9 384.4,95.4 385.2,95.5 385.9,95.1 386.6,95.2 387.4,95.7 388.1,95.3 388.9,95.2 389.6,95.9 390.4,96.3 391.1,96.4 391.9,95.6 392.6,95.5 393.4,95.6 394.1,96.5 394.9,95.7 395.6,96.0 396.4,95.1 397.1,96.1 397.9,96.2 398.6,96.2 399.4,96.6 400.1,96.9 400.9,96.2 401.6,96.4 402.4,96.7 403.1,96.4 403.9,96.1 404.6,97.3 405.3,96.9 406.1,97.1 406.8,97.8 407.6,96.8 408.3,97.0 409.1,96.8 409.8,97.2 410.6,97.6 411.3,97.9 412.1,97.4 412.8,97.6 413.6,98.2 414.3,97.2 415.1,96.8 415.8,97.2 416.6,97.5 417.3,96.8 418.1,96.3 418.8,96.7 419.6,96.2 420.3,96.0 421.1,96.0 421.8,96.4 422.6,96.2 423.3,96.5 424.0,96.3 424.8,96.7 425.5,96.1 426.3,97.1 427.0,96.6 427.8,96.3 428.5,96.7 429.3,96.0 430.0,96.6 430.8,95.8 431.5,96.0 432.3,95.7 433.0,96.0 433.8,96.3 434.5,96.3 435.3,96.6 436.0,96.6 436.8,96.4 437.5,96.1 438.3,95.5 439.0,96.2 439.8,95.3 440.5,95.3" fill="none" stroke="#ff7f0e" stroke-width="1.05" stroke-linejoin="round" stroke-opacity="0.85" />
<polyline points="261.0,88.9 261.7,89.7 262.5,90.0 263.2,90.0 264.0,90.0 264.7,88.2 265.5,88.2 266.2,89.3 267.0,90.9 267.7,90.6 268.5,91.6 269.2,91.6 270.0,91.6 270.7,90.9 271.5,90.4 272.2,90.3 273.0,90.0 273.7,89.1 274.5,89.8 275.2,89.6 276.0,90.0 276.7,90.0 277.5,90.8 278.2,90.1 278.9,90.4 279.7,90.3 280.4,90.1 281.2,90.1 281.9,89.3 282.7,89.4 283.4,87.8 284.2,88.4 284.9,89.4 285.7,89.4 286.4,90.5 287.2,91.1 287.9,91.9 288.7,91.4 289.4,91.9 290.2,93.2 290.9,92.6 291.7,92.8 292.4,92.2 293.2,92.9 293.9,93.4 294.7,92.9 295.4,93.2 296.2,93.9 296.9,92.7 297.6,92.4 298.4,92.2 299.1,92.2 299.9,91.9 300.6,92.6 301.4,92.6 302.1,91.4 302.9,91.7 303.6,92.4 304.4,92.2 305.1,92.1 305.9,92.6 306.6,92.7 307.4,92.6 308.1,93.2 308.9,94.1 309.6,93.6 310.4,93.5 311.1,94.1 311.9,94.5 312.6,95.9 313.4,94.7 314.1,93.8 314.9,93.6 315.6,94.2 316.3,92.7 317.1,93.0 317.8,93.0 318.6,92.8 319.3,92.7 320.1,92.6 320.8,93.3 321.6,92.9 322.3,93.0 323.1,92.9 323.8,93.6 324.6,92.8 325.3,93.1 326.1,93.2 326.8,93.6 327.6,92.9 328.3,93.4 329.1,93.1 329.8,93.8 330.6,93.1 331.3,93.1 332.1,92.8 332.8,93.7 333.5,93.5 334.3,93.5 335.0,92.9 335.8,92.8 336.5,93.4 337.3,92.9 338.0,94.3 338.8,95.1 339.5,94.5 340.3,94.0 341.0,94.6 341.8,94.6 342.5,95.1 343.3,94.6 344.0,94.8 344.8,94.6 345.5,93.9 346.3,94.0 347.0,94.1 347.8,94.4 348.5,94.5 349.3,94.6 350.0,94.3 350.8,94.7 351.5,94.0 352.2,94.5 353.0,94.6 353.7,94.4 354.5,94.3 355.2,95.0 356.0,95.0 356.7,96.3 357.5,94.5 358.2,94.7 359.0,95.0 359.7,94.7 360.5,93.7 361.2,93.1 362.0,93.9 362.7,94.7 363.5,94.3 364.2,93.6 365.0,92.9 365.7,92.3 366.5,92.4 367.2,93.3 368.0,92.2 368.7,92.7 369.4,92.7 370.2,92.4 370.9,91.9 371.7,92.0 372.4,91.7 373.2,91.4 373.9,91.7 374.7,91.7 375.4,91.9 376.2,91.6 376.9,92.6 377.7,92.2 378.4,92.5 379.2,93.0 379.9,92.6 380.7,93.2 381.4,93.2 382.2,92.6 382.9,92.7 383.7,92.4 384.4,92.8 385.2,93.1 385.9,91.9 386.6,91.3 387.4,92.1 388.1,92.0 388.9,91.6 389.6,92.3 390.4,92.0 391.1,92.2 391.9,91.7 392.6,92.4 393.4,92.0 394.1,92.4 394.9,92.3 395.6,91.8 396.4,92.7 397.1,92.0 397.9,92.3 398.6,92.9 399.4,92.0 400.1,92.5 400.9,92.3 401.6,92.3 402.4,92.7 403.1,91.8 403.9,92.0 404.6,91.6 405.3,92.6 406.1,92.6 406.8,92.6 407.6,92.8 408.3,92.1 409.1,92.2 409.8,92.3 410.6,92.0 411.3,92.4 412.1,92.6 412.8,92.0 413.6,92.7 414.3,92.6 415.1,92.9 415.8,92.2 416.6,92.5 417.3,92.5 418.1,93.0 418.8,93.8 419.6,93.4 420.3,93.3 421.1,93.1 421.8,93.2 422.6,94.3 423.3,93.5 424.0,93.1 424.8,93.4 425.5,94.1 426.3,94.0 427.0,93.7 427.8,93.4 428.5,92.8 429.3,92.6 430.0,93.6 430.8,93.8 431.5,92.9 432.3,92.7 433.0,92.5 433.8,92.9 434.5,93.0 435.3,92.8 436.0,91.8 436.8,92.0 437.5,92.0 438.3,91.3 439.0,91.4 439.8,91.5 440.5,91.7" fill="none" stroke="#2ca02c" stroke-width="1.05" stroke-linejoin="round" stroke-opacity="0.85" />
<polyline points="261.0,69.4 261.7,69.8 262.5,70.1 263.2,71.5 264.0,72.4 264.7,73.4 265.5,72.2 266.2,72.7 267.0,73.6 267.7,74.6 268.5,74.5 269.2,74.3 270.0,73.3 270.7,73.7 271.5,74.1 272.2,74.3 273.0,75.0 273.7,74.6 274.5,76.6 275.2,74.8 276.0,75.3 276.7,74.9 277.5,74.2 278.2,74.5 278.9,73.5 279.7,74.8 280.4,74.1 281.2,74.2 281.9,73.8 282.7,73.9 283.4,75.6 284.2,75.4 284.9,75.9 285.7,74.2 286.4,74.3 287.2,75.0 287.9,75.2 288.7,75.0 289.4,74.3 290.2,74.9 290.9,75.4 291.7,76.2 292.4,75.8 293.2,76.4 293.9,76.9 294.7,76.7 295.4,76.7 296.2,77.0 296.9,77.8 297.6,77.4 298.4,77.0 299.1,76.3 299.9,77.6 300.6,77.8 301.4,78.0 302.1,78.4 302.9,78.0 303.6,78.5 304.4,78.1 305.1,79.1 305.9,78.4 306.6,78.8 307.4,79.3 308.1,80.1 308.9,79.5 309.6,79.7 310.4,79.5 311.1,79.5 311.9,79.5 312.6,79.0 313.4,79.8 314.1,79.3 314.9,79.9 315.6,80.3 316.3,80.9 317.1,80.4 317.8,80.6 318.6,80.6 319.3,81.1 320.1,82.0 320.8,81.2 321.6,81.5 322.3,81.4 323.1,82.1 323.8,81.5 324.6,82.0 325.3,83.1 326.1,83.0 326.8,83.0 327.6,83.0 328.3,82.7 329.1,83.1 329.8,82.5 330.6,81.9 331.3,82.5 332.1,83.2 332.8,83.8 333.5,84.5 334.3,84.1 335.0,83.6 335.8,83.9 336.5,83.6 337.3,83.7 338.0,84.3 338.8,84.8 339.5,85.0 340.3,84.9 341.0,85.6 341.8,86.0 342.5,85.8 343.3,85.6 344.0,86.7 344.8,85.8 345.5,86.8 346.3,86.0 347.0,85.9 347.8,85.6 348.5,86.8 349.3,86.2 350.0,87.2 350.8,87.6 351.5,87.6 352.2,88.4 353.0,87.9 353.7,87.8 354.5,88.2 355.2,87.3 356.0,87.0 356.7,85.9 357.5,87.3 358.2,86.3 359.0,85.8 359.7,85.5 360.5,85.5 361.2,84.9 362.0,85.6 362.7,85.5 363.5,85.6 364.2,85.1 365.0,84.8 365.7,84.5 366.5,84.4 367.2,84.1 368.0,84.2 368.7,84.6 369.4,84.9 370.2,85.0 370.9,84.8 371.7,84.5 372.4,84.2 373.2,84.8 373.9,84.2 374.7,84.8 375.4,84.5 376.2,85.1 376.9,85.5 377.7,85.3 378.4,86.2 379.2,87.0 379.9,86.4 380.7,86.0 381.4,86.0 382.2,86.6 382.9,86.2 383.7,86.5 384.4,87.2 385.2,87.2 385.9,86.9 386.6,86.3 387.4,86.8 388.1,87.5 388.9,87.8 389.6,87.0 390.4,87.3 391.1,87.3 391.9,87.8 392.6,87.9 393.4,88.1 394.1,88.1 394.9,88.0 395.6,87.7 396.4,88.0 397.1,87.7 397.9,88.1 398.6,86.9 399.4,87.8 400.1,88.4 400.9,87.7 401.6,88.2 402.4,88.3 403.1,87.6 403.9,88.5 404.6,88.3 405.3,88.2 406.1,88.3 406.8,88.3 407.6,88.4 408.3,88.9 409.1,88.3 409.8,88.2 410.6,88.8 411.3,88.5 412.1,87.9 412.8,88.6 413.6,88.6 414.3,88.2 415.1,88.8 415.8,89.4 416.6,89.0 417.3,89.1 418.1,89.1 418.8,89.4 419.6,89.0 420.3,89.2 421.1,89.1 421.8,89.2 422.6,89.8 423.3,89.6 424.0,89.2 424.8,89.3 425.5,89.1 426.3,89.3 427.0,88.8 427.8,89.0 428.5,89.2 429.3,88.8 430.0,89.1 430.8,89.6 431.5,89.1 432.3,88.7 433.0,88.0 433.8,89.1 434.5,89.2 435.3,89.0 436.0,89.5 436.8,89.3 437.5,89.3 438.3,89.5 439.0,88.8 439.8,89.5 440.5,89.6" fill="none" stroke="#d62728" stroke-width="1.05" stroke-linejoin="round" stroke-opacity="0.85" />
<polyline points="261.0,108.9 261.7,107.1 262.5,108.0 263.2,107.9 264.0,107.1 264.7,107.2 265.5,104.3 266.2,103.7 267.0,103.1 267.7,100.5 268.5,100.4 269.2,98.6 270.0,97.1 270.7,95.5 271.5,95.9 272.2,95.3 273.0,96.8 273.7,97.0 274.5,98.0 275.2,97.5 276.0,97.4 276.7,97.5 277.5,96.5 278.2,96.1 278.9,95.8 279.7,96.1 280.4,95.6 281.2,95.8 281.9,95.9 282.7,95.6 283.4,95.2 284.2,94.2 284.9,94.8 285.7,94.5 286.4,93.4 287.2,93.1 287.9,92.4 288.7,92.8 289.4,92.2 290.2,92.9 290.9,91.8 291.7,91.3 292.4,91.4 293.2,92.0 293.9,91.6 294.7,91.3 295.4,92.4 296.2,91.1 296.9,90.7 297.6,91.7 298.4,91.5 299.1,91.0 299.9,90.7 300.6,90.3 301.4,91.1 302.1,91.1 302.9,91.6 303.6,92.0 304.4,92.8 305.1,93.0 305.9,92.3 306.6,93.2 307.4,93.4 308.1,93.6 308.9,93.1 309.6,93.4 310.4,93.1 311.1,93.1 311.9,93.1 312.6,92.6 313.4,92.7 314.1,92.9 314.9,91.7 315.6,92.0 316.3,92.3 317.1,91.9 317.8,92.4 318.6,93.5 319.3,93.3 320.1,93.4 320.8,93.2 321.6,92.6 322.3,93.2 323.1,94.1 323.8,94.1 324.6,93.6 325.3,92.8 326.1,94.0 326.8,93.8 327.6,94.4 328.3,94.3 329.1,93.6 329.8,93.6 330.6,94.0 331.3,95.3 332.1,94.7 332.8,93.9 333.5,94.1 334.3,94.0 335.0,93.5 335.8,93.7 336.5,92.7 337.3,92.5 338.0,92.9 338.8,92.2 339.5,92.7 340.3,93.3 341.0,92.9 341.8,93.9 342.5,93.6 343.3,93.7 344.0,93.6 344.8,93.8 345.5,93.6 346.3,94.1 347.0,94.3 347.8,94.1 348.5,93.3 349.3,93.7 350.0,93.3 350.8,92.7 351.5,91.8 352.2,92.5 353.0,92.2 353.7,91.1 354.5,91.3 355.2,91.5 356.0,91.7 356.7,91.3 357.5,90.4 358.2,90.5 359.0,90.0 359.7,90.3 360.5,90.5 361.2,89.6 362.0,89.7 362.7,90.0 363.5,89.9 364.2,89.5 365.0,89.8 365.7,90.1 366.5,90.2 367.2,89.9 368.0,90.5 368.7,90.4 369.4,90.6 370.2,90.8 370.9,90.8 371.7,91.6 372.4,91.5 373.2,90.9 373.9,91.5 374.7,91.8 375.4,91.7 376.2,91.0 376.9,91.5 377.7,91.1 378.4,91.4 379.2,91.8 379.9,91.5 380.7,91.4 381.4,91.7 382.2,91.7 382.9,90.6 383.7,90.9 384.4,91.0 385.2,90.4 385.9,90.6 386.6,90.8 387.4,90.7 388.1,90.4 388.9,90.1 389.6,90.1 390.4,90.2 391.1,89.7 391.9,89.1 392.6,88.8 393.4,88.5 394.1,88.3 394.9,87.9 395.6,88.0 396.4,88.0 397.1,87.4 397.9,86.9 398.6,87.0 399.4,87.6 400.1,87.5 400.9,87.3 401.6,87.5 402.4,87.1 403.1,86.5 403.9,86.3 404.6,85.2 405.3,85.8 406.1,85.4 406.8,85.6 407.6,85.3 408.3,85.1 409.1,85.3 409.8,85.8 410.6,85.8 411.3,85.5 412.1,85.3 412.8,85.0 413.6,85.0 414.3,84.9 415.1,85.4 415.8,85.6 416.6,86.0 417.3,85.7 418.1,86.1 418.8,86.4 419.6,85.9 420.3,85.8 421.1,85.5 421.8,85.6 422.6,84.3 423.3,84.6 424.0,85.0 424.8,85.2 425.5,84.5 426.3,84.7 427.0,84.0 427.8,83.7 428.5,84.4 429.3,84.2 430.0,83.8 430.8,82.9 431.5,83.1 432.3,83.2 433.0,82.4 433.8,83.2 434.5,83.1 435.3,83.9 436.0,84.0 436.8,83.8 437.5,83.8 438.3,83.3 439.0,84.2 439.8,83.1 440.5,83.2" fill="none" stroke="#9467bd" stroke-width="1.05" stroke-linejoin="round" stroke-opacity="0.85" />
<polyline points="261.0,91.6 261.7,90.8 262.5,90.9 263.2,92.3 264.0,93.0 264.7,93.3 265.5,93.9 266.2,92.1 267.0,92.0 267.7,92.7 268.5,94.0 269.2,94.1 270.0,93.2 270.7,94.8 271.5,95.0 272.2,94.8 273.0,95.2 273.7,95.0 274.5,94.9 275.2,96.7 276.0,96.2 276.7,97.6 277.5,97.8 278.2,98.6 278.9,99.8 279.7,100.1 280.4,98.7 281.2,99.1 281.9,100.3 282.7,99.3 283.4,99.6 284.2,98.2 284.9,98.6 285.7,98.9 286.4,98.8 287.2,99.7 287.9,99.8 288.7,99.7 289.4,100.4 290.2,100.3 290.9,100.1 291.7,99.5 292.4,100.6 293.2,100.4 293.9,101.4 294.7,101.3 295.4,101.7 296.2,102.5 296.9,103.1 297.6,102.9 298.4,103.0 299.1,102.0 299.9,101.4 300.6,101.8 301.4,101.6 302.1,101.3 302.9,101.3 303.6,100.9 304.4,100.4 305.1,100.2 305.9,99.8 306.6,99.6 307.4,99.5 308.1,99.0 308.9,98.3 309.6,97.6 310.4,97.5 311.1,97.7 311.9,97.1 312.6,97.3 313.4,96.8 314.1,95.6 314.9,95.7 315.6,95.4 316.3,95.0 317.1,94.9 317.8,94.6 318.6,94.6 319.3,94.2 320.1,95.3 320.8,94.7 321.6,96.3 322.3,95.9 323.1,96.1 323.8,96.6 324.6,95.2 325.3,95.9 326.1,96.2 326.8,96.3 327.6,95.7 328.3,95.1 329.1,96.5 329.8,96.3 330.6,96.4 331.3,97.2 332.1,96.2 332.8,95.3 333.5,95.0 334.3,94.8 335.0,94.9 335.8,95.5 336.5,95.5 337.3,95.0 338.0,94.5 338.8,94.7 339.5,95.0 340.3,94.2 341.0,93.9 341.8,94.4 342.5,93.1 343.3,92.9 344.0,92.8 344.8,92.2 345.5,92.0 346.3,91.0 347.0,91.9 347.8,91.1 348.5,91.3 349.3,91.5 350.0,91.7 350.8,91.8 351.5,91.6 352.2,91.9 353.0,91.7 353.7,91.4 354.5,91.5 355.2,91.6 356.0,91.6 356.7,91.8 357.5,92.2 358.2,91.5 359.0,91.8 359.7,91.6 360.5,91.6 361.2,91.8 362.0,92.7 362.7,92.0 363.5,91.2 364.2,92.2 365.0,91.5 365.7,91.2 366.5,91.8 367.2,91.5 368.0,91.6 368.7,91.0 369.4,91.2 370.2,91.8 370.9,92.5 371.7,91.6 372.4,91.7 373.2,91.0 373.9,91.0 374.7,91.4 375.4,92.1 376.2,91.1 376.9,91.8 377.7,91.5 378.4,91.4 379.2,91.4 379.9,91.5 380.7,91.5 381.4,91.8 382.2,91.5 382.9,91.3 383.7,91.1 384.4,90.9 385.2,91.3 385.9,91.8 386.6,91.7 387.4,91.7 388.1,92.1 388.9,91.3 389.6,91.9 390.4,91.8 391.1,91.1 391.9,91.0 392.6,91.3 393.4,91.0 394.1,91.4 394.9,90.4 395.6,90.3 396.4,90.3 397.1,91.1 397.9,90.3 398.6,89.7 399.4,90.4 400.1,90.3 400.9,90.3 401.6,90.6 402.4,89.9 403.1,89.4 403.9,89.8 404.6,89.2 405.3,89.5 406.1,89.9 406.8,90.2 407.6,89.7 408.3,89.1 409.1,90.1 409.8,90.5 410.6,89.6 411.3,90.2 412.1,89.8 412.8,90.1 413.6,90.4 414.3,90.4 415.1,90.4 415.8,90.5 416.6,90.8 417.3,91.0 418.1,91.2 418.8,90.4 419.6,90.7 420.3,90.8 421.1,91.1 421.8,90.9 422.6,90.5 423.3,90.8 424.0,90.9 424.8,90.5 425.5,91.1 426.3,90.9 427.0,90.2 427.8,90.7 428.5,90.3 429.3,90.3 430.0,90.0 430.8,90.0 431.5,90.1 432.3,90.3 433.0,90.7 433.8,90.4 434.5,91.0 435.3,89.7 436.0,90.9 436.8,90.3 437.5,91.1 438.3,90.9 439.0,90.7 439.8,90.5 440.5,91.0" fill="none" stroke="#8c564b" stroke-width="1.05" stroke-linejoin="round" stroke-opacity="0.85" />
<polyline points="261.0,90.2 261.7,90.7 262.5,91.1 263.2,90.6 264.0,92.0 264.7,92.0 265.5,92.2 266.2,92.2 267.0,91.7 267.7,90.0 268.5,90.1 269.2,90.4 270.0,90.1 270.7,90.9 271.5,90.7 272.2,92.0 273.0,91.3 273.7,89.9 274.5,89.9 275.2,90.8 276.0,91.4 276.7,91.2 277.5,91.0 278.2,90.7 278.9,89.8 279.7,89.7 280.4,90.7 281.2,90.5 281.9,92.4 282.7,92.4 283.4,92.0 284.2,92.9 284.9,92.2 285.7,92.8 286.4,92.6 287.2,92.4 287.9,91.9 288.7,92.0 289.4,92.3 290.2,92.7 290.9,92.6 291.7,93.1 292.4,91.9 293.2,91.5 293.9,91.4 294.7,91.6 295.4,92.1 296.2,92.7 296.9,91.2 297.6,92.0 298.4,92.0 299.1,92.5 299.9,92.8 300.6,92.9 301.4,93.1 302.1,92.9 302.9,92.8 303.6,93.7 304.4,91.9 305.1,92.0 305.9,92.2 306.6,92.1 307.4,93.2 308.1,93.0 308.9,92.9 309.6,93.0 310.4,92.3 311.1,92.1 311.9,91.7 312.6,92.1 313.4,91.7 314.1,90.9 314.9,90.4 315.6,90.7 316.3,89.9 317.1,89.6 317.8,89.2 318.6,89.8 319.3,89.3 320.1,90.5 320.8,90.7 321.6,90.7 322.3,91.7 323.1,91.0 323.8,89.8 324.6,89.9 325.3,89.9 326.1,90.6 326.8,90.1 327.6,90.5 328.3,90.5 329.1,90.1 329.8,90.6 330.6,89.0 331.3,89.8 332.1,88.4 332.8,88.9 333.5,88.3 334.3,88.9 335.0,88.7 335.8,88.7 336.5,89.5 337.3,89.1 338.0,89.4 338.8,89.4 339.5,89.9 340.3,88.7 341.0,89.0 341.8,88.7 342.5,88.5 343.3,88.6 344.0,88.8 344.8,89.1 345.5,89.6 346.3,88.9 347.0,89.3 347.8,89.1 348.5,89.3 349.3,89.5 350.0,89.7 350.8,90.5 351.5,89.8 352.2,89.5 353.0,89.1 353.7,88.4 354.5,89.8 355.2,88.9 356.0,89.8 356.7,89.9 357.5,89.6 358.2,90.2 359.0,88.9 359.7,90.2 360.5,89.9 361.2,89.7 362.0,89.6 362.7,89.8 363.5,89.9 364.2,89.8 365.0,89.9 365.7,90.2 366.5,90.3 367.2,90.2 368.0,89.9 368.7,90.2 369.4,90.0 370.2,90.8 370.9,90.8 371.7,91.1 372.4,90.9 373.2,91.2 373.9,91.0 374.7,91.3 375.4,91.7 376.2,91.6 376.9,91.0 377.7,90.8 378.4,91.5 379.2,91.5 379.9,91.1 380.7,90.9 381.4,91.3 382.2,91.5 382.9,90.8 383.7,90.4 384.4,90.6 385.2,91.3 385.9,91.1 386.6,90.4 387.4,90.8 388.1,90.9 388.9,91.3 389.6,90.5 390.4,90.9 391.1,91.3 391.9,91.4 392.6,90.7 393.4,91.4 394.1,91.7 394.9,91.4 395.6,91.4 396.4,91.4 397.1,92.1 397.9,92.1 398.6,91.8 399.4,92.1 400.1,92.3 400.9,92.2 401.6,92.6 402.4,92.4 403.1,92.9 403.9,92.3 404.6,90.6 405.3,91.8 406.1,91.8 406.8,92.0 407.6,91.6 408.3,91.3 409.1,91.3 409.8,92.0 410.6,91.7 411.3,91.6 412.1,92.1 412.8,92.0 413.6,91.6 414.3,91.8 415.1,91.8 415.8,92.2 416.6,91.9 417.3,92.3 418.1,92.2 418.8,92.0 419.6,92.2 420.3,92.8 421.1,92.2 421.8,93.1 422.6,93.2 423.3,92.5 424.0,92.9 424.8,92.2 425.5,92.7 426.3,93.0 427.0,92.5 427.8,92.1 428.5,92.8 429.3,92.8 430.0,92.4 430.8,92.2 431.5,92.3 432.3,92.2 433.0,91.9 433.8,91.6 434.5,92.3 435.3,92.0 436.0,92.5 436.8,92.3 437.5,91.4 438.3,91.8 439.0,92.1 439.8,91.9 440.5,92.4" fill="none" stroke="#e377c2" stroke-width="1.05" stroke-linejoin="round" stroke-opacity="0.85" />
<polyline points="261.0,94.2 261.7,92.9 262.5,91.8 263.2,92.7 264.0,92.2 264.7,92.9 265.5,92.8 266.2,92.9 267.0,93.6 267.7,93.5 268.5,93.5 269.2,93.6 270.0,92.6 270.7,91.6 271.5,92.9 272.2,92.1 273.0,91.1 273.7,90.4 274.5,91.1 275.2,91.3 276.0,91.9 276.7,92.0 277.5,91.5 278.2,92.5 278.9,91.7 279.7,92.2 280.4,92.0 281.2,91.7 281.9,92.2 282.7,93.0 283.4,93.4 284.2,93.0 284.9,93.0 285.7,93.1 286.4,93.7 287.2,93.4 287.9,91.6 288.7,92.6 289.4,92.3 290.2,91.7 290.9,91.3 291.7,90.7 292.4,90.2 293.2,90.7 293.9,90.2 294.7,91.3 295.4,91.0 296.2,89.8 296.9,91.0 297.6,90.3 298.4,89.9 299.1,89.9 299.9,89.9 300.6,89.0 301.4,90.2 302.1,91.1 302.9,90.4 303.6,90.0 304.4,88.9 305.1,88.6 305.9,88.8 306.6,89.0 307.4,89.4 308.1,89.6 308.9,89.3 309.6,89.2 310.4,88.8 311.1,89.2 311.9,88.6 312.6,88.2 313.4,87.9 314.1,88.8 314.9,89.1 315.6,88.5 316.3,87.4 317.1,87.9 317.8,87.1 318.6,87.7 319.3,87.1 320.1,86.4 320.8,87.0 321.6,87.4 322.3,87.0 323.1,86.7 323.8,85.8 324.6,85.6 325.3,85.6 326.1,85.4 326.8,86.1 327.6,86.2 328.3,86.3 329.1,86.3 329.8,86.2 330.6,86.4 331.3,86.5 332.1,86.2 332.8,85.5 333.5,85.6 334.3,86.0 335.0,85.6 335.8,86.0 336.5,86.2 337.3,86.8 338.0,86.5 338.8,86.4 339.5,85.8 340.3,84.7 341.0,85.4 341.8,85.6 342.5,85.5 343.3,85.4 344.0,85.6 344.8,84.4 345.5,85.4 346.3,84.5 347.0,84.6 347.8,83.3 348.5,83.7 349.3,84.0 350.0,83.4 350.8,83.1 351.5,83.4 352.2,83.7 353.0,83.5 353.7,84.7 354.5,83.9 355.2,84.0 356.0,83.9 356.7,83.5 357.5,83.7 358.2,83.2 359.0,82.4 359.7,82.4 360.5,83.2 361.2,83.2 362.0,82.9 362.7,83.7 363.5,82.6 364.2,82.7 365.0,82.7 365.7,83.4 366.5,82.3 367.2,82.1 368.0,81.1 368.7,81.9 369.4,82.0 370.2,81.0 370.9,81.2 371.7,81.4 372.4,81.5 373.2,81.1 373.9,81.6 374.7,81.7 375.4,81.2 376.2,81.3 376.9,81.1 377.7,81.4 378.4,80.6 379.2,81.3 379.9,81.7 380.7,81.3 381.4,81.2 382.2,81.7 382.9,81.2 383.7,81.0 384.4,81.0 385.2,81.0 385.9,81.1 386.6,80.8 387.4,80.2 388.1,80.2 388.9,80.9 389.6,81.1 390.4,81.6 391.1,81.0 391.9,80.6 392.6,80.9 393.4,80.7 394.1,80.9 394.9,81.3 395.6,81.0 396.4,80.9 397.1,81.2 397.9,81.2 398.6,81.0 399.4,80.7 400.1,80.9 400.9,80.3 401.6,80.9 402.4,80.8 403.1,80.8 403.9,80.8 404.6,80.8 405.3,80.7 406.1,81.1 406.8,80.5 407.6,80.6 408.3,80.5 409.1,80.6 409.8,80.4 410.6,80.7 411.3,80.8 412.1,81.1 412.8,81.3 413.6,81.1 414.3,81.1 415.1,81.2 415.8,81.5 416.6,81.6 417.3,81.6 418.1,82.5 418.8,81.4 419.6,80.8 420.3,81.0 421.1,81.1 421.8,81.2 422.6,81.6 423.3,81.0 424.0,81.2 424.8,80.9 425.5,80.6 426.3,81.0 427.0,81.4 427.8,80.8 428.5,81.3 429.3,81.7 430.0,81.5 430.8,81.3 431.5,81.5 432.3,81.4 433.0,81.0 433.8,81.8 434.5,81.9 435.3,81.7 436.0,81.7 436.8,82.0 437.5,82.2 438.3,81.1 439.0,81.7 439.8,82.0 440.5,82.1" fill="none" stroke="#7f7f7f" stroke-width="1.05" stroke-linejoin="round" stroke-opacity="0.85" />
<polyline points="261.0,94.6 261.7,94.1 262.5,94.4 263.2,94.2 264.0,94.5 264.7,95.5 265.5,95.9 266.2,97.2 267.0,96.3 267.7,97.0 268.5,95.7 269.2,94.9 270.0,96.2 270.7,96.8 271.5,96.7 272.2,96.1 273.0,95.1 273.7,95.1 274.5,96.4 275.2,96.7 276.0,96.7 276.7,96.6 277.5,95.3 278.2,96.0 278.9,95.3 279.7,95.9 280.4,95.3 281.2,95.8 281.9,95.9 282.7,97.2 283.4,96.6 284.2,95.8 284.9,96.0 285.7,97.9 286.4,98.0 287.2,98.8 287.9,98.2 288.7,98.4 289.4,97.9 290.2,97.6 290.9,97.2 291.7,98.1 292.4,98.8 293.2,97.6 293.9,97.7 294.7,97.9 295.4,97.4 296.2,97.0 296.9,96.6 297.6,97.1 298.4,97.2 299.1,98.1 299.9,98.0 300.6,97.7 301.4,97.4 302.1,98.4 302.9,98.0 303.6,97.3 304.4,97.8 305.1,98.3 305.9,98.2 306.6,97.7 307.4,97.6 308.1,97.5 308.9,97.0 309.6,97.4 310.4,97.6 311.1,97.7 311.9,98.0 312.6,97.7 313.4,97.4 314.1,98.2 314.9,97.6 315.6,97.5 316.3,97.5 317.1,98.5 317.8,98.1 318.6,98.1 319.3,98.1 320.1,97.9 320.8,98.4 321.6,98.1 322.3,97.9 323.1,97.8 323.8,97.7 324.6,97.9 325.3,97.4 326.1,97.2 326.8,97.5 327.6,97.7 328.3,98.2 329.1,98.2 329.8,98.6 330.6,97.9 331.3,97.6 332.1,98.1 332.8,99.4 333.5,99.4 334.3,98.8 335.0,99.2 335.8,99.4 336.5,100.3 337.3,99.5 338.0,98.9 338.8,99.2 339.5,99.4 340.3,99.5 341.0,98.9 341.8,99.1 342.5,99.9 343.3,100.4 344.0,100.5 344.8,101.3 345.5,100.8 346.3,100.9 347.0,100.8 347.8,100.7 348.5,100.6 349.3,101.1 350.0,102.3 350.8,101.7 351.5,101.9 352.2,102.2 353.0,101.9 353.7,102.2 354.5,102.5 355.2,102.1 356.0,101.8 356.7,101.4 357.5,102.2 358.2,101.2 359.0,101.3 359.7,101.5 360.5,101.9 361.2,103.8 362.0,103.7 362.7,102.8 363.5,102.8 364.2,103.1 365.0,103.3 365.7,103.8 366.5,104.0 367.2,103.6 368.0,103.5 368.7,103.2 369.4,103.0 370.2,102.8 370.9,103.5 371.7,103.2 372.4,102.9 373.2,102.6 373.9,102.1 374.7,102.2 375.4,102.3 376.2,102.9 376.9,102.7 377.7,102.2 378.4,101.9 379.2,102.1 379.9,102.0 380.7,101.1 381.4,101.1 382.2,101.7 382.9,100.9 383.7,101.2 384.4,101.0 385.2,101.1 385.9,101.3 386.6,101.1 387.4,100.5 388.1,100.7 388.9,100.3 389.6,100.3 390.4,100.6 391.1,100.5 391.9,100.2 392.6,100.4 393.4,100.0 394.1,99.8 394.9,100.2 395.6,100.1 396.4,100.3 397.1,99.9 397.9,99.5 398.6,99.9 399.4,99.9 400.1,100.0 400.9,100.0 401.6,99.2 402.4,99.9 403.1,99.9 403.9,99.7 404.6,99.4 405.3,99.1 406.1,99.8 406.8,100.2 407.6,99.9 408.3,98.8 409.1,99.9 409.8,99.7 410.6,99.7 411.3,99.5 412.1,99.4 412.8,99.7 413.6,99.3 414.3,99.0 415.1,99.0 415.8,98.6 416.6,98.5 417.3,97.8 418.1,97.9 418.8,98.7 419.6,98.3 420.3,98.4 421.1,98.4 421.8,98.1 422.6,98.0 423.3,97.6 424.0,98.0 424.8,97.7 425.5,98.1 426.3,97.2 427.0,97.6 427.8,97.4 428.5,97.2 429.3,96.3 430.0,96.1 430.8,97.2 431.5,96.0 432.3,96.7 433.0,96.4 433.8,96.6 434.5,97.0 435.3,96.3 436.0,96.3 436.8,97.0 437.5,96.9 438.3,96.8 439.0,96.6 439.8,97.0 440.5,96.1" fill="none" stroke="#bcbd22" stroke-width="1.05" stroke-linejoin="round" stroke-opacity="0.85" />
<polyline points="261.0,90.5 261.7,90.7 262.5,91.1 263.2,90.7 264.0,91.1 264.7,89.5 265.5,90.8 266.2,91.4 267.0,92.4 267.7,91.5 268.5,93.6 269.2,93.6 270.0,94.4 270.7,93.8 271.5,93.9 272.2,94.5 273.0,94.8 273.7,96.4 274.5,96.6 275.2,96.2 276.0,96.0 276.7,95.5 277.5,95.9 278.2,95.6 278.9,96.9 279.7,95.7 280.4,95.5 281.2,95.7 281.9,95.6 282.7,96.0 283.4,95.9 284.2,95.1 284.9,95.3 285.7,94.6 286.4,94.4 287.2,94.2 287.9,94.5 288.7,94.7 289.4,94.4 290.2,94.5 290.9,94.6 291.7,95.0 292.4,95.3 293.2,94.2 293.9,94.9 294.7,93.4 295.4,93.5 296.2,93.9 296.9,94.6 297.6,94.0 298.4,94.0 299.1,93.3 299.9,94.2 300.6,94.1 301.4,94.8 302.1,94.1 302.9,94.0 303.6,94.7 304.4,94.2 305.1,93.9 305.9,94.1 306.6,94.3 307.4,95.1 308.1,94.2 308.9,93.9 309.6,93.9 310.4,94.1 311.1,93.4 311.9,94.0 312.6,94.3 313.4,94.3 314.1,94.5 314.9,95.2 315.6,95.0 316.3,94.7 317.1,95.0 317.8,94.2 318.6,94.8 319.3,94.6 320.1,94.2 320.8,92.8 321.6,93.3 322.3,93.8 323.1,93.4 323.8,94.7 324.6,94.7 325.3,95.1 326.1,94.4 326.8,94.4 327.6,95.0 328.3,94.4 329.1,94.7 329.8,93.9 330.6,93.6 331.3,93.8 332.1,93.5 332.8,93.0 333.5,93.6 334.3,92.5 335.0,92.0 335.8,92.6 336.5,92.2 337.3,92.6 338.0,92.5 338.8,91.7 339.5,91.8 340.3,91.3 341.0,90.9 341.8,90.7 342.5,90.6 343.3,90.2 344.0,90.9 344.8,90.6 345.5,91.2 346.3,90.9 347.0,91.4 347.8,90.9 348.5,91.8 349.3,91.6 350.0,91.8 350.8,91.7 351.5,92.3 352.2,91.6 353.0,91.8 353.7,92.7 354.5,93.0 355.2,92.6 356.0,92.3 356.7,91.8 357.5,92.0 358.2,92.4 359.0,92.1 359.7,91.9 360.5,92.0 361.2,91.8 362.0,91.7 362.7,92.0 363.5,91.9 364.2,91.1 365.0,92.3 365.7,91.9 366.5,92.2 367.2,91.3 368.0,92.4 368.7,92.7 369.4,92.6 370.2,93.0 370.9,93.6 371.7,93.4 372.4,93.7 373.2,93.3 373.9,93.8 374.7,94.0 375.4,94.5 376.2,94.5 376.9,93.5 377.7,94.3 378.4,94.0 379.2,94.5 379.9,94.0 380.7,93.2 381.4,94.1 382.2,94.6 382.9,94.5 383.7,94.4 384.4,94.6 385.2,94.4 385.9,94.6 386.6,94.0 387.4,94.8 388.1,94.0 388.9,93.8 389.6,93.9 390.4,93.6 391.1,93.1 391.9,93.3 392.6,93.3 393.4,93.1 394.1,93.6 394.9,93.1 395.6,93.1 396.4,93.3 397.1,93.4 397.9,93.6 398.6,92.6 399.4,93.4 400.1,92.8 400.9,92.6 401.6,92.7 402.4,92.0 403.1,92.6 403.9,92.6 404.6,92.9 405.3,93.4 406.1,93.4 406.8,93.2 407.6,93.4 408.3,93.5 409.1,93.3 409.8,93.6 410.6,93.4 411.3,93.0 412.1,92.5 412.8,93.1 413.6,93.6 414.3,93.0 415.1,92.6 415.8,92.4 416.6,92.8 417.3,93.0 418.1,92.5 418.8,93.4 419.6,93.1 420.3,92.4 421.1,92.7 421.8,92.5 422.6,92.3 423.3,92.6 424.0,92.6 424.8,92.8 425.5,92.5 426.3,91.7 427.0,92.6 427.8,92.4 428.5,92.4 429.3,91.5 430.0,91.9 430.8,91.5 431.5,91.8 432.3,91.7 433.0,91.0 433.8,92.0 434.5,91.8 435.3,91.5 436.0,92.0 436.8,91.8 437.5,90.9 438.3,91.6 439.0,91.4 439.8,91.4 440.5,91.1" fill="none" stroke="#17becf" stroke-width="1.05" stroke-linejoin="round" stroke-opacity="0.85" />
</g>
<polyline points="261.0,86.7 350.8,86.7" fill="none" stroke="#f00" stroke-width="1.8" stroke-linejoin="round" stroke-dasharray="5.8,2.7"/>
<rect x="261.0" y="47.0" width="179.5" height="116.69999999999999" fill="none" stroke="#555" stroke-width="0.9"/>
<line x1="261.00" y1="163.7" x2="261.00" y2="165.7" stroke="#555" stroke-width="0.8"/>
<text transform="translate(261.00,173.80) scale(1.13,1)" font-size="8.5" text-anchor="middle" fill="#222" >2000</text>
<line x1="290.92" y1="163.7" x2="290.92" y2="165.7" stroke="#555" stroke-width="0.8"/>
<text transform="translate(290.92,173.80) scale(1.13,1)" font-size="8.5" text-anchor="middle" fill="#222" >3000</text>
<line x1="320.83" y1="163.7" x2="320.83" y2="165.7" stroke="#555" stroke-width="0.8"/>
<text transform="translate(320.83,173.80) scale(1.13,1)" font-size="8.5" text-anchor="middle" fill="#222" >4000</text>
<line x1="350.75" y1="163.7" x2="350.75" y2="165.7" stroke="#555" stroke-width="0.8"/>
<text transform="translate(350.75,173.80) scale(1.13,1)" font-size="8.5" text-anchor="middle" fill="#222" >5000</text>
<line x1="380.67" y1="163.7" x2="380.67" y2="165.7" stroke="#555" stroke-width="0.8"/>
<text transform="translate(380.67,173.80) scale(1.13,1)" font-size="8.5" text-anchor="middle" fill="#222" >6000</text>
<line x1="410.58" y1="163.7" x2="410.58" y2="165.7" stroke="#555" stroke-width="0.8"/>
<text transform="translate(410.58,173.80) scale(1.13,1)" font-size="8.5" text-anchor="middle" fill="#222" >7000</text>
<line x1="440.50" y1="163.7" x2="440.50" y2="165.7" stroke="#555" stroke-width="0.8"/>
<text transform="translate(440.50,173.80) scale(1.13,1)" font-size="8.5" text-anchor="middle" fill="#222" >8000</text>
<line x1="259.0" y1="163.70" x2="261.0" y2="163.70" stroke="#555" stroke-width="0.8"/>
<text transform="translate(256.90,166.80) scale(1.13,1)" font-size="8.6" text-anchor="end" fill="#222" >0.5</text>
<line x1="259.0" y1="140.36" x2="261.0" y2="140.36" stroke="#555" stroke-width="0.8"/>
<text transform="translate(256.90,143.46) scale(1.13,1)" font-size="8.6" text-anchor="end" fill="#222" >0.6</text>
<line x1="259.0" y1="117.02" x2="261.0" y2="117.02" stroke="#555" stroke-width="0.8"/>
<text transform="translate(256.90,120.12) scale(1.13,1)" font-size="8.6" text-anchor="end" fill="#222" >0.7</text>
<line x1="259.0" y1="93.68" x2="261.0" y2="93.68" stroke="#555" stroke-width="0.8"/>
<text transform="translate(256.90,96.78) scale(1.13,1)" font-size="8.6" text-anchor="end" fill="#222" >0.8</text>
<line x1="259.0" y1="70.34" x2="261.0" y2="70.34" stroke="#555" stroke-width="0.8"/>
<text transform="translate(256.90,73.44) scale(1.13,1)" font-size="8.6" text-anchor="end" fill="#222" >0.9</text>
<line x1="259.0" y1="47.00" x2="261.0" y2="47.00" stroke="#555" stroke-width="0.8"/>
<text transform="translate(256.90,50.10) scale(1.13,1)" font-size="8.6" text-anchor="end" fill="#222" >1.0</text>
<rect x="374.3" y="51.4" width="61.89999999999998" height="15.199999999999996" rx="1.5" fill="#fff" fill-opacity="0.85" stroke="#ddd" stroke-width="0.8"/>
<line x1="377.6" y1="58.2" x2="392.4" y2="58.2" stroke="#f00" stroke-width="1.8" stroke-dasharray="6.07,2.66"/>
<text transform="translate(401.80,61.40) scale(1.17,1)" font-size="8.6" text-anchor="start" fill="#222" >true p2</text>
<text transform="translate(281.20,156.40) scale(1.05,1)" font-size="15.8" text-anchor="middle" fill="#000" >B</text>
<text transform="translate(350.70,187.80) scale(1.0,1)" font-size="13.8" text-anchor="middle" fill="#000" >N</text>
<line x1="204.1" y1="80.4" x2="260.9" y2="47.0" stroke="#e0464b" stroke-width="1.1"/>
<line x1="204.1" y1="113.6" x2="260.9" y2="163.7" stroke="#e0464b" stroke-width="1.1"/>
<clipPath id="cC"><rect x="513.3" y="42.2" width="163.4000000000001" height="121.89999999999999"/></clipPath>
<polyline points="524.4,80.8 669.3,80.8" fill="none" stroke="#f00" stroke-width="1.5" stroke-linejoin="round" stroke-dasharray="5.1,2.1"/>
<g clip-path="url(#cC)">
<polyline points="520.8,32.0 520.9,32.0 521.1,32.0 521.2,32.0 521.4,32.0 521.5,32.0 521.7,32.0 521.8,32.0 522.0,32.0 522.1,32.0 522.3,32.0 522.4,32.0 522.6,32.0 522.7,32.0 522.9,32.0 523.0,88.1 523.2,83.8 523.3,84.7 523.5,83.2 523.6,84.6 523.7,84.7 523.9,84.5 524.0,86.3 524.2,88.8 524.3,85.8 524.5,87.5 524.6,87.7 524.8,85.8 524.9,83.1 525.1,84.7 525.2,85.3 525.4,85.2 525.5,87.2 525.7,86.0 526.3,86.5 526.9,91.0 527.5,88.0 528.1,94.0 528.6,97.0 529.2,100.5 529.8,98.0 530.4,93.9 531.0,98.2 531.6,95.4 532.2,91.4 532.8,91.2 533.4,91.4 534.0,92.0 534.6,94.3 535.2,96.2 535.8,90.0 536.4,91.2 537.0,93.3 537.6,96.1 538.2,93.2 538.8,91.5 539.3,92.0 539.9,93.6 540.5,94.6 542.0,92.6 543.5,94.6 545.0,102.0 546.5,103.1 548.0,103.4 549.4,105.4 550.9,108.5 552.4,109.4 553.9,112.9 555.4,112.4 556.9,112.4 558.4,112.1 559.8,112.9 561.3,115.0 562.8,113.0 564.3,114.4 565.8,114.4 567.3,114.0 568.8,113.9 570.2,114.5 571.7,114.5 573.2,113.9 574.7,114.5 576.2,116.0 577.7,115.7 579.2,114.5 580.6,114.0 582.1,112.9 583.6,113.3 585.1,112.6 586.6,112.0 588.1,111.7 589.6,111.6 591.0,111.0 592.5,110.9 594.0,110.6 595.5,110.1 597.0,109.7 598.5,109.6 600.0,108.8 601.4,108.0 602.9,107.7 604.4,107.6 605.9,107.9 607.4,107.0 608.9,106.6 610.3,107.2 611.8,106.9 613.3,106.4 614.8,106.7 616.3,107.1 617.8,106.6 619.3,106.1 620.7,106.2 622.2,105.7 623.7,105.3 625.2,105.0 626.7,104.9 628.2,104.7 629.7,104.8 631.1,105.5 632.6,104.7 634.1,105.1 635.6,105.3 637.1,105.3 638.6,105.2 640.1,105.2 641.5,105.7 643.0,105.7 644.5,105.7 646.0,105.6 647.5,105.2 649.0,105.2 650.5,105.1 651.9,105.1 653.4,104.9 654.9,105.2 656.4,105.2 657.9,105.3 659.4,104.9 660.9,105.3 662.3,104.9 663.8,104.8 665.3,104.7 666.8,104.4 668.3,104.3" fill="none" stroke="#1f77b4" stroke-width="1.05" stroke-linejoin="round" stroke-opacity="0.85" />
<polyline points="520.8,84.1 520.9,96.4 521.1,88.2 521.2,86.0 521.4,87.4 521.5,89.4 521.7,80.0 521.8,79.7 522.0,84.4 522.1,96.8 522.3,95.8 522.4,100.8 522.6,99.2 522.7,105.4 522.9,111.7 523.0,115.6 523.2,112.9 523.3,112.8 523.5,116.2 523.6,119.5 523.7,119.6 523.9,121.9 524.0,127.7 524.2,127.9 524.3,131.6 524.5,129.9 524.6,121.4 524.8,121.3 524.9,124.9 525.1,123.0 525.2,123.8 525.4,121.3 525.5,126.5 525.7,125.6 526.3,118.4 526.9,114.1 527.5,113.0 528.1,114.6 528.6,115.5 529.2,116.9 529.8,116.4 530.4,119.1 531.0,121.5 531.6,119.0 532.2,116.8 532.8,117.9 533.4,120.3 534.0,120.7 534.6,119.6 535.2,119.0 535.8,122.1 536.4,122.1 537.0,123.7 537.6,121.7 538.2,115.4 538.8,114.5 539.3,115.6 539.9,112.8 540.5,113.7 542.0,117.1 543.5,118.5 545.0,116.6 546.5,116.5 548.0,116.8 549.4,112.3 550.9,110.9 552.4,112.1 553.9,110.8 555.4,108.9 556.9,110.0 558.4,109.5 559.8,109.3 561.3,107.2 562.8,106.6 564.3,108.9 565.8,108.0 567.3,107.7 568.8,107.0 570.2,106.1 571.7,107.9 573.2,110.4 574.7,110.1 576.2,109.5 577.7,109.3 579.2,108.9 580.6,108.0 582.1,107.6 583.6,108.1 585.1,108.5 586.6,108.0 588.1,108.9 589.6,109.1 591.0,109.1 592.5,108.2 594.0,107.4 595.5,107.6 597.0,107.2 598.5,107.4 600.0,108.2 601.4,108.1 602.9,107.6 604.4,107.5 605.9,107.8 607.4,107.7 608.9,108.0 610.3,108.6 611.8,108.3 613.3,108.5 614.8,108.5 616.3,108.0 617.8,107.8 619.3,107.4 620.7,107.0 622.2,106.7 623.7,106.4 625.2,106.4 626.7,106.3 628.2,106.1 629.7,105.8 631.1,106.4 632.6,106.3 634.1,107.0 635.6,106.8 637.1,106.4 638.6,106.8 640.1,106.2 641.5,106.5 643.0,106.6 644.5,106.4 646.0,105.8 647.5,105.0 649.0,105.4 650.5,104.8 651.9,105.2 653.4,104.9 654.9,105.3 656.4,105.3 657.9,104.8 659.4,104.9 660.9,104.7 662.3,104.6 663.8,104.4 665.3,104.7 666.8,105.2 668.3,105.6" fill="none" stroke="#ff7f0e" stroke-width="1.05" stroke-linejoin="round" stroke-opacity="0.85" />
<polyline points="520.8,123.7 520.9,107.4 521.1,115.0 521.2,123.6 521.4,121.5 521.5,107.9 521.7,112.8 521.8,109.6 522.0,110.8 522.1,102.7 522.3,99.8 522.4,101.3 522.6,103.0 522.7,106.2 522.9,105.3 523.0,99.7 523.2,101.0 523.3,97.8 523.5,96.8 523.6,90.3 523.7,96.2 523.9,97.8 524.0,94.6 524.2,89.9 524.3,88.4 524.5,85.7 524.6,85.0 524.8,83.7 524.9,79.7 525.1,79.5 525.2,73.1 525.4,71.5 525.5,68.4 525.7,64.6 526.3,63.6 526.9,71.5 527.5,83.3 528.1,90.8 528.6,95.0 529.2,101.9 529.8,104.1 530.4,109.8 531.0,110.1 531.6,111.8 532.2,114.5 532.8,110.2 533.4,106.0 534.0,103.7 534.6,101.8 535.2,102.2 535.8,101.6 536.4,103.8 537.0,99.0 537.6,99.1 538.2,99.7 538.8,97.2 539.3,99.0 539.9,99.0 540.5,99.3 542.0,101.8 543.5,103.5 545.0,106.6 546.5,107.9 548.0,104.6 549.4,107.8 550.9,106.2 552.4,104.7 553.9,106.3 555.4,107.5 556.9,109.8 558.4,110.2 559.8,109.8 561.3,108.0 562.8,107.8 564.3,106.3 565.8,104.6 567.3,104.0 568.8,102.0 570.2,101.9 571.7,102.1 573.2,101.8 574.7,103.3 576.2,103.9 577.7,103.6 579.2,104.0 580.6,103.8 582.1,104.6 583.6,104.6 585.1,104.1 586.6,103.9 588.1,102.6 589.6,101.1 591.0,102.4 592.5,102.8 594.0,102.7 595.5,102.0 597.0,101.8 598.5,101.8 600.0,101.5 601.4,101.2 602.9,101.6 604.4,101.8 605.9,101.3 607.4,101.2 608.9,101.9 610.3,101.8 611.8,100.8 613.3,101.3 614.8,101.1 616.3,101.0 617.8,100.9 619.3,100.9 620.7,100.7 622.2,100.5 623.7,101.1 625.2,101.1 626.7,101.1 628.2,101.3 629.7,101.7 631.1,101.8 632.6,101.8 634.1,101.8 635.6,101.2 637.1,100.8 638.6,100.6 640.1,100.2 641.5,100.5 643.0,100.8 644.5,100.6 646.0,100.4 647.5,100.3 649.0,99.9 650.5,99.8 651.9,99.4 653.4,99.2 654.9,99.4 656.4,98.8 657.9,99.4 659.4,99.1 660.9,99.5 662.3,99.6 663.8,99.9 665.3,100.1 666.8,100.0 668.3,100.3" fill="none" stroke="#2ca02c" stroke-width="1.05" stroke-linejoin="round" stroke-opacity="0.85" />
<polyline points="520.8,118.7 520.9,100.3 521.1,99.5 521.2,124.1 521.4,109.5 521.5,110.1 521.7,107.6 521.8,107.1 522.0,108.6 522.1,104.6 522.3,111.7 522.4,104.9 522.6,104.9 522.7,105.5 522.9,104.6 523.0,99.2 523.2,98.0 523.3,101.4 523.5,99.8 523.6,97.3 523.7,101.4 523.9,105.9 524.0,106.0 524.2,113.3 524.3,116.7 524.5,119.7 524.6,118.5 524.8,120.1 524.9,122.5 525.1,124.3 525.2,120.8 525.4,121.8 525.5,118.7 525.7,118.6 526.3,114.7 526.9,117.8 527.5,120.7 528.1,125.1 528.6,117.0 529.2,113.5 529.8,103.8 530.4,110.2 531.0,109.7 531.6,112.8 532.2,110.9 532.8,104.2 533.4,103.5 534.0,101.3 534.6,100.0 535.2,98.7 535.8,98.7 536.4,97.9 537.0,95.4 537.6,97.5 538.2,94.3 538.8,95.4 539.3,96.2 539.9,99.0 540.5,97.0 542.0,98.6 543.5,98.2 545.0,98.7 546.5,101.3 548.0,103.0 549.4,103.7 550.9,102.3 552.4,102.2 553.9,103.7 555.4,105.2 556.9,106.9 558.4,103.6 559.8,102.4 561.3,103.2 562.8,102.2 564.3,101.7 565.8,104.3 567.3,104.6 568.8,103.1 570.2,105.3 571.7,105.9 573.2,105.0 574.7,104.7 576.2,103.6 577.7,101.9 579.2,101.2 580.6,101.2 582.1,101.5 583.6,102.6 585.1,103.1 586.6,102.4 588.1,102.0 589.6,101.7 591.0,101.0 592.5,101.1 594.0,100.5 595.5,100.2 597.0,100.8 598.5,100.4 600.0,101.2 601.4,100.7 602.9,100.2 604.4,100.0 605.9,100.0 607.4,99.9 608.9,100.3 610.3,99.8 611.8,99.7 613.3,98.8 614.8,98.9 616.3,99.3 617.8,99.6 619.3,98.4 620.7,98.6 622.2,98.9 623.7,99.2 625.2,99.1 626.7,99.0 628.2,99.1 629.7,99.5 631.1,99.9 632.6,99.9 634.1,100.3 635.6,99.8 637.1,99.9 638.6,99.7 640.1,100.1 641.5,100.6 643.0,100.6 644.5,100.3 646.0,100.0 647.5,99.8 649.0,100.2 650.5,100.5 651.9,100.2 653.4,100.5 654.9,100.6 656.4,100.7 657.9,100.5 659.4,100.6 660.9,100.7 662.3,100.7 663.8,100.7 665.3,100.5 666.8,100.4 668.3,100.4" fill="none" stroke="#d62728" stroke-width="1.05" stroke-linejoin="round" stroke-opacity="0.85" />
<polyline points="520.8,32.0 520.9,32.0 521.1,32.0 521.2,32.0 521.4,32.0 521.5,32.0 521.7,32.0 521.8,32.0 522.0,32.0 522.1,32.0 522.3,32.0 522.4,32.0 522.6,32.0 522.7,32.0 522.9,32.0 523.0,72.2 523.2,74.8 523.3,81.1 523.5,84.1 523.6,88.1 523.7,89.4 523.9,91.5 524.0,93.2 524.2,93.8 524.3,93.1 524.5,97.4 524.6,98.5 524.8,97.4 524.9,103.6 525.1,104.8 525.2,107.9 525.4,110.5 525.5,112.2 525.7,110.3 526.3,118.4 526.9,112.1 527.5,110.7 528.1,106.6 528.6,108.5 529.2,104.7 529.8,107.0 530.4,107.5 531.0,110.3 531.6,112.1 532.2,115.3 532.8,116.0 533.4,114.3 534.0,110.3 534.6,110.9 535.2,109.9 535.8,108.7 536.4,107.9 537.0,108.5 537.6,106.6 538.2,107.6 538.8,109.4 539.3,104.5 539.9,101.7 540.5,102.4 542.0,103.7 543.5,103.5 545.0,104.6 546.5,104.9 548.0,103.9 549.4,104.8 550.9,107.0 552.4,104.9 553.9,107.0 555.4,108.5 556.9,109.5 558.4,109.1 559.8,109.3 561.3,108.4 562.8,108.8 564.3,107.5 565.8,107.3 567.3,107.1 568.8,108.3 570.2,108.2 571.7,109.0 573.2,109.9 574.7,108.5 576.2,107.8 577.7,107.0 579.2,107.2 580.6,108.3 582.1,106.9 583.6,106.5 585.1,106.4 586.6,105.6 588.1,105.1 589.6,105.2 591.0,105.5 592.5,105.4 594.0,105.6 595.5,105.8 597.0,106.3 598.5,106.3 600.0,106.9 601.4,107.2 602.9,106.8 604.4,106.7 605.9,105.8 607.4,105.6 608.9,105.3 610.3,105.2 611.8,105.3 613.3,105.4 614.8,105.6 616.3,105.5 617.8,104.8 619.3,104.8 620.7,105.5 622.2,105.7 623.7,105.6 625.2,105.4 626.7,105.7 628.2,105.9 629.7,106.3 631.1,106.5 632.6,106.6 634.1,106.1 635.6,106.2 637.1,106.0 638.6,106.0 640.1,106.1 641.5,105.5 643.0,105.3 644.5,104.9 646.0,104.7 647.5,104.6 649.0,104.6 650.5,104.7 651.9,104.6 653.4,104.7 654.9,104.9 656.4,104.8 657.9,104.7 659.4,104.4 660.9,104.7 662.3,104.9 663.8,105.0 665.3,105.1 666.8,105.2 668.3,105.0" fill="none" stroke="#9467bd" stroke-width="1.05" stroke-linejoin="round" stroke-opacity="0.85" />
<polyline points="520.8,110.2 520.9,130.7 521.1,102.5 521.2,108.9 521.4,109.9 521.5,108.2 521.7,107.2 521.8,116.8 522.0,106.2 522.1,114.4 522.3,111.4 522.4,105.7 522.6,104.6 522.7,110.8 522.9,117.3 523.0,115.9 523.2,116.9 523.3,115.3 523.5,121.0 523.6,120.7 523.7,122.2 523.9,124.1 524.0,124.6 524.2,126.0 524.3,128.1 524.5,130.8 524.6,126.3 524.8,127.9 524.9,131.9 525.1,130.0 525.2,128.6 525.4,132.3 525.5,133.0 525.7,132.9 526.3,132.7 526.9,129.9 527.5,130.3 528.1,131.1 528.6,128.6 529.2,129.9 529.8,130.3 530.4,130.3 531.0,129.1 531.6,125.3 532.2,128.3 532.8,126.3 533.4,128.2 534.0,127.9 534.6,128.2 535.2,127.5 535.8,127.4 536.4,128.5 537.0,128.4 537.6,128.8 538.2,129.0 538.8,129.5 539.3,128.5 539.9,127.0 540.5,125.9 542.0,125.2 543.5,123.5 545.0,123.2 546.5,119.9 548.0,117.2 549.4,117.8 550.9,116.7 552.4,116.7 553.9,116.3 555.4,116.7 556.9,113.4 558.4,115.0 559.8,115.7 561.3,113.4 562.8,113.0 564.3,112.3 565.8,112.9 567.3,113.5 568.8,113.0 570.2,113.3 571.7,114.4 573.2,113.3 574.7,112.9 576.2,113.9 577.7,114.1 579.2,113.2 580.6,111.8 582.1,111.1 583.6,110.1 585.1,109.4 586.6,108.9 588.1,108.6 589.6,108.4 591.0,108.6 592.5,108.4 594.0,108.1 595.5,108.1 597.0,108.5 598.5,108.2 600.0,107.9 601.4,107.9 602.9,107.0 604.4,106.4 605.9,106.0 607.4,106.7 608.9,107.1 610.3,107.9 611.8,108.3 613.3,108.5 614.8,108.6 616.3,108.0 617.8,107.7 619.3,106.9 620.7,106.9 622.2,107.4 623.7,107.4 625.2,107.8 626.7,107.6 628.2,107.8 629.7,107.4 631.1,107.5 632.6,107.5 634.1,107.0 635.6,107.0 637.1,106.5 638.6,106.3 640.1,106.3 641.5,106.6 643.0,106.4 644.5,106.5 646.0,106.4 647.5,106.4 649.0,106.1 650.5,106.2 651.9,105.2 653.4,104.8 654.9,104.8 656.4,105.0 657.9,105.5 659.4,105.8 660.9,105.4 662.3,105.3 663.8,105.2 665.3,105.1 666.8,104.7 668.3,104.7" fill="none" stroke="#8c564b" stroke-width="1.05" stroke-linejoin="round" stroke-opacity="0.85" />
<polyline points="520.8,32.0 520.9,32.0 521.1,32.0 521.2,32.0 521.4,32.0 521.5,32.0 521.7,32.0 521.8,32.0 522.0,32.0 522.1,32.0 522.3,32.0 522.4,32.0 522.6,32.0 522.7,32.0 522.9,32.0 523.0,113.3 523.2,115.5 523.3,113.0 523.5,112.9 523.6,117.0 523.7,116.5 523.9,122.3 524.0,123.1 524.2,118.9 524.3,117.4 524.5,114.7 524.6,114.4 524.8,116.2 524.9,112.9 525.1,109.3 525.2,108.6 525.4,111.8 525.5,114.7 525.7,115.7 526.3,117.9 526.9,116.2 527.5,117.5 528.1,117.5 528.6,120.2 529.2,113.1 529.8,115.8 530.4,115.7 531.0,108.1 531.6,103.7 532.2,101.3 532.8,96.1 533.4,98.9 534.0,100.3 534.6,99.1 535.2,99.4 535.8,104.6 536.4,106.6 537.0,106.4 537.6,104.8 538.2,106.7 538.8,111.0 539.3,110.5 539.9,110.5 540.5,110.5 542.0,109.2 543.5,109.0 545.0,110.1 546.5,107.2 548.0,109.8 549.4,109.5 550.9,109.9 552.4,112.7 553.9,113.9 555.4,114.5 556.9,111.4 558.4,112.2 559.8,111.3 561.3,113.8 562.8,113.9 564.3,113.3 565.8,113.4 567.3,113.7 568.8,113.7 570.2,112.8 571.7,111.1 573.2,109.8 574.7,109.4 576.2,110.1 577.7,109.9 579.2,109.3 580.6,108.8 582.1,108.8 583.6,109.3 585.1,109.0 586.6,108.4 588.1,108.7 589.6,110.4 591.0,110.0 592.5,109.3 594.0,109.0 595.5,108.6 597.0,107.9 598.5,108.1 600.0,107.8 601.4,108.0 602.9,108.3 604.4,108.1 605.9,107.1 607.4,107.4 608.9,108.0 610.3,107.9 611.8,107.8 613.3,107.8 614.8,107.3 616.3,106.6 617.8,105.7 619.3,105.9 620.7,105.4 622.2,105.2 623.7,105.1 625.2,104.7 626.7,104.9 628.2,104.2 629.7,104.1 631.1,104.5 632.6,104.5 634.1,104.6 635.6,104.2 637.1,104.4 638.6,104.3 640.1,104.5 641.5,103.9 643.0,103.6 644.5,103.5 646.0,103.4 647.5,103.5 649.0,103.6 650.5,103.5 651.9,103.8 653.4,104.2 654.9,103.8 656.4,103.9 657.9,103.8 659.4,104.1 660.9,104.1 662.3,104.0 663.8,104.0 665.3,104.1 666.8,104.4 668.3,104.0" fill="none" stroke="#e377c2" stroke-width="1.05" stroke-linejoin="round" stroke-opacity="0.85" />
<polyline points="520.8,109.6 520.9,147.5 521.1,119.2 521.2,134.3 521.4,123.9 521.5,121.7 521.7,111.4 521.8,116.5 522.0,121.8 522.1,121.3 522.3,123.5 522.4,119.0 522.6,113.0 522.7,111.8 522.9,117.5 523.0,119.2 523.2,114.5 523.3,115.0 523.5,110.4 523.6,111.6 523.7,114.6 523.9,109.8 524.0,110.3 524.2,105.4 524.3,107.8 524.5,108.5 524.6,108.7 524.8,109.9 524.9,109.4 525.1,113.0 525.2,113.9 525.4,111.5 525.5,114.4 525.7,113.8 526.3,114.7 526.9,111.7 527.5,112.9 528.1,113.4 528.6,118.9 529.2,111.5 529.8,110.1 530.4,109.1 531.0,110.4 531.6,106.0 532.2,106.1 532.8,104.6 533.4,100.6 534.0,99.0 534.6,99.7 535.2,104.7 535.8,105.1 536.4,104.9 537.0,105.3 537.6,102.6 538.2,99.7 538.8,102.2 539.3,101.6 539.9,102.5 540.5,102.1 542.0,99.7 543.5,103.1 545.0,107.6 546.5,106.5 548.0,107.0 549.4,108.4 550.9,109.5 552.4,107.8 553.9,106.7 555.4,106.5 556.9,104.5 558.4,105.3 559.8,103.1 561.3,102.0 562.8,101.2 564.3,103.1 565.8,104.3 567.3,103.8 568.8,103.2 570.2,105.5 571.7,105.8 573.2,106.1 574.7,105.5 576.2,105.9 577.7,106.5 579.2,105.4 580.6,105.3 582.1,105.3 583.6,104.9 585.1,104.7 586.6,104.9 588.1,104.3 589.6,103.8 591.0,103.5 592.5,104.1 594.0,103.9 595.5,104.4 597.0,103.8 598.5,103.2 600.0,103.9 601.4,103.0 602.9,103.2 604.4,104.0 605.9,103.6 607.4,102.8 608.9,102.8 610.3,101.6 611.8,100.9 613.3,100.7 614.8,101.2 616.3,101.1 617.8,100.3 619.3,101.1 620.7,100.5 622.2,100.9 623.7,101.2 625.2,101.5 626.7,101.4 628.2,101.7 629.7,101.9 631.1,100.9 632.6,100.8 634.1,100.3 635.6,99.9 637.1,100.6 638.6,101.3 640.1,101.4 641.5,101.2 643.0,101.6 644.5,101.5 646.0,101.5 647.5,101.9 649.0,101.9 650.5,101.7 651.9,101.6 653.4,101.6 654.9,101.9 656.4,102.1 657.9,102.0 659.4,101.8 660.9,102.0 662.3,101.8 663.8,101.7 665.3,101.5 666.8,101.5 668.3,101.4" fill="none" stroke="#7f7f7f" stroke-width="1.05" stroke-linejoin="round" stroke-opacity="0.85" />
<polyline points="520.8,55.5 520.9,43.2 521.1,49.4 521.2,47.1 521.4,52.2 521.5,60.2 521.7,64.0 521.8,69.1 522.0,70.5 522.1,76.3 522.3,80.0 522.4,81.9 522.6,88.8 522.7,89.7 522.9,94.2 523.0,87.3 523.2,89.3 523.3,79.2 523.5,74.8 523.6,75.2 523.7,77.0 523.9,77.7 524.0,78.9 524.2,83.6 524.3,85.1 524.5,86.6 524.6,87.9 524.8,89.1 524.9,88.1 525.1,88.3 525.2,83.7 525.4,83.7 525.5,84.7 525.7,85.2 526.3,86.6 526.9,85.9 527.5,85.9 528.1,86.4 528.6,86.6 529.2,86.4 529.8,88.2 530.4,87.4 531.0,88.4 531.6,88.7 532.2,87.3 532.8,88.7 533.4,87.9 534.0,87.7 534.6,87.4 535.2,88.4 535.8,89.4 536.4,90.0 537.0,91.9 537.6,90.8 538.2,91.2 538.8,91.8 539.3,96.5 539.9,95.8 540.5,95.6 542.0,100.3 543.5,100.2 545.0,104.1 546.5,101.7 548.0,103.6 549.4,101.9 550.9,104.9 552.4,108.1 553.9,107.5 555.4,106.9 556.9,108.4 558.4,110.5 559.8,110.3 561.3,109.6 562.8,110.0 564.3,110.5 565.8,110.5 567.3,109.4 568.8,108.3 570.2,108.3 571.7,109.6 573.2,109.8 574.7,109.4 576.2,110.3 577.7,111.8 579.2,111.3 580.6,110.8 582.1,108.8 583.6,108.6 585.1,108.4 586.6,107.2 588.1,105.6 589.6,105.3 591.0,104.8 592.5,104.0 594.0,104.3 595.5,104.0 597.0,104.0 598.5,103.3 600.0,103.1 601.4,102.6 602.9,102.9 604.4,102.2 605.9,102.3 607.4,102.1 608.9,102.3 610.3,102.4 611.8,102.9 613.3,103.5 614.8,103.7 616.3,104.1 617.8,104.5 619.3,105.1 620.7,105.2 622.2,105.5 623.7,104.8 625.2,104.6 626.7,104.4 628.2,103.8 629.7,103.5 631.1,103.4 632.6,103.7 634.1,103.6 635.6,103.3 637.1,103.0 638.6,102.8 640.1,103.0 641.5,103.1 643.0,103.1 644.5,103.2 646.0,103.0 647.5,103.0 649.0,103.2 650.5,103.2 651.9,103.0 653.4,102.8 654.9,103.2 656.4,102.9 657.9,102.3 659.4,102.5 660.9,102.3 662.3,102.3 663.8,102.2 665.3,102.2 666.8,102.0 668.3,102.5" fill="none" stroke="#bcbd22" stroke-width="1.05" stroke-linejoin="round" stroke-opacity="0.85" />
<polyline points="520.8,32.0 520.9,174.3 521.1,32.0 521.2,174.3 521.4,32.0 521.5,118.4 521.7,32.0 521.8,118.4 522.0,32.0 522.1,118.4 522.3,32.0 522.4,118.4 522.6,32.0 522.7,118.4 522.9,32.0 523.0,118.4 523.2,32.0 523.3,118.0 523.5,112.1 523.6,114.1 523.7,118.6 523.9,120.4 524.0,119.1 524.2,115.3 524.3,113.1 524.5,106.4 524.6,105.1 524.8,101.5 524.9,102.7 525.1,101.4 525.2,99.8 525.4,95.1 525.5,93.5 525.7,98.4 526.3,99.6 526.9,95.3 527.5,99.0 528.1,95.6 528.6,94.8 529.2,92.2 529.8,91.6 530.4,85.2 531.0,82.3 531.6,76.4 532.2,76.5 532.8,78.6 533.4,81.0 534.0,83.8 534.6,85.9 535.2,88.0 535.8,95.8 536.4,96.9 537.0,95.2 537.6,93.2 538.2,89.4 538.8,87.1 539.3,91.7 539.9,90.7 540.5,91.4 542.0,94.9 543.5,95.2 545.0,95.2 546.5,96.6 548.0,96.1 549.4,97.4 550.9,97.3 552.4,100.3 553.9,100.3 555.4,100.0 556.9,99.6 558.4,100.7 559.8,101.9 561.3,103.8 562.8,104.5 564.3,105.3 565.8,104.8 567.3,103.6 568.8,102.3 570.2,102.0 571.7,102.1 573.2,102.1 574.7,101.9 576.2,100.1 577.7,100.8 579.2,101.8 580.6,102.3 582.1,102.1 583.6,100.7 585.1,102.0 586.6,101.2 588.1,99.8 589.6,101.2 591.0,101.6 592.5,101.3 594.0,100.9 595.5,101.2 597.0,102.0 598.5,101.9 600.0,100.9 601.4,101.2 602.9,102.3 604.4,102.0 605.9,102.4 607.4,102.8 608.9,102.8 610.3,103.0 611.8,103.0 613.3,102.9 614.8,102.6 616.3,101.6 617.8,102.4 619.3,102.0 620.7,101.1 622.2,100.9 623.7,100.1 625.2,100.9 626.7,100.6 628.2,100.5 629.7,100.5 631.1,100.6 632.6,100.5 634.1,100.3 635.6,100.2 637.1,100.6 638.6,100.3 640.1,100.5 641.5,100.6 643.0,101.1 644.5,100.7 646.0,101.0 647.5,101.4 649.0,101.7 650.5,101.3 651.9,101.4 653.4,101.5 654.9,101.6 656.4,100.8 657.9,100.6 659.4,100.9 660.9,101.1 662.3,101.0 663.8,101.6 665.3,101.9 666.8,101.9 668.3,101.8" fill="none" stroke="#17becf" stroke-width="1.05" stroke-linejoin="round" stroke-opacity="0.85" />
</g>
<rect x="513.3" y="42.2" width="163.4000000000001" height="121.89999999999999" fill="none" stroke="#555" stroke-width="0.9"/>
<line x1="520.73" y1="164.1" x2="520.73" y2="166.1" stroke="#555" stroke-width="0.8"/>
<text transform="translate(520.73,174.00) scale(1.13,1)" font-size="9.6" text-anchor="middle" fill="#222" >0</text>
<line x1="570.24" y1="164.1" x2="570.24" y2="166.1" stroke="#555" stroke-width="0.8"/>
<text transform="translate(570.24,174.00) scale(1.13,1)" font-size="9.6" text-anchor="middle" fill="#222" >1000</text>
<line x1="619.76" y1="164.1" x2="619.76" y2="166.1" stroke="#555" stroke-width="0.8"/>
<text transform="translate(619.76,174.00) scale(1.13,1)" font-size="9.6" text-anchor="middle" fill="#222" >2000</text>
<line x1="669.27" y1="164.1" x2="669.27" y2="166.1" stroke="#555" stroke-width="0.8"/>
<text transform="translate(669.27,174.00) scale(1.13,1)" font-size="9.6" text-anchor="middle" fill="#222" >3000</text>
<line x1="511.29999999999995" y1="164.10" x2="513.3" y2="164.10" stroke="#555" stroke-width="0.8"/>
<text transform="translate(509.90,166.80) scale(1.13,1)" font-size="7.7" text-anchor="end" fill="#222" >0</text>
<line x1="511.29999999999995" y1="143.78" x2="513.3" y2="143.78" stroke="#555" stroke-width="0.8"/>
<text transform="translate(509.90,146.48) scale(1.13,1)" font-size="7.7" text-anchor="end" fill="#222" >0.2</text>
<line x1="511.29999999999995" y1="123.47" x2="513.3" y2="123.47" stroke="#555" stroke-width="0.8"/>
<text transform="translate(509.90,126.17) scale(1.13,1)" font-size="7.7" text-anchor="end" fill="#222" >0.4</text>
<line x1="511.29999999999995" y1="103.15" x2="513.3" y2="103.15" stroke="#555" stroke-width="0.8"/>
<text transform="translate(509.90,105.85) scale(1.13,1)" font-size="7.7" text-anchor="end" fill="#222" >0.6</text>
<line x1="511.29999999999995" y1="82.83" x2="513.3" y2="82.83" stroke="#555" stroke-width="0.8"/>
<text transform="translate(509.90,85.53) scale(1.13,1)" font-size="7.7" text-anchor="end" fill="#222" >0.8</text>
<line x1="511.29999999999995" y1="62.52" x2="513.3" y2="62.52" stroke="#555" stroke-width="0.8"/>
<text transform="translate(509.90,65.22) scale(1.13,1)" font-size="7.7" text-anchor="end" fill="#222" >1.0</text>
<rect x="620.3" y="46" width="52.0" height="12.100000000000001" rx="1.5" fill="#fff" fill-opacity="0.85" stroke="#ddd" stroke-width="0.8"/>
<line x1="623.1" y1="51.8" x2="635.4" y2="51.8" stroke="#f00" stroke-width="1.5" stroke-dasharray="5.04,2.21"/>
<text transform="translate(643.50,54.80) scale(1.23,1)" font-size="7.0" text-anchor="start" fill="#222" >ture p2</text>
<text transform="translate(545.90,155.00) scale(1.05,1)" font-size="15.8" text-anchor="middle" fill="#000" >C</text>
<text transform="translate(594.70,187.90) scale(1.0,1)" font-size="13.5" text-anchor="middle" fill="#000" >N</text>
<text transform="translate(491.7,112.2) rotate(-90) scale(1.1,1)" font-size="18.9" fill="#000" font-style="italic">p</text>
<text transform="translate(495.1,100.4) rotate(-90)" font-size="12.7" fill="#000">2</text>
<clipPath id="cD"><rect x="38.2" y="202.6" width="181.5" height="117.70000000000002"/></clipPath>
<g clip-path="url(#cD)">
<polyline points="38.2,245.4 38.3,212.0 38.5,253.8 38.6,237.8 38.7,250.4 38.8,234.3 38.9,240.1 39.0,229.8 39.1,238.6 39.2,225.7 39.3,225.1 39.4,236.7 39.5,231.8 39.7,232.0 39.9,225.1 40.1,223.8 40.3,226.4 40.5,228.8 40.7,224.8 41.0,230.2 41.2,232.0 41.4,225.6 41.6,226.4 41.8,224.5 42.0,230.5 42.3,227.9 42.5,227.7 42.7,230.7 42.9,230.1 43.1,233.0 43.4,233.1 43.6,234.2 43.8,234.7 44.0,231.6 44.2,231.4 44.4,232.6 44.7,232.2 44.9,233.7 45.1,234.9 45.3,233.7 45.5,231.9 46.0,234.5 46.5,237.2 47.0,238.6 47.5,239.0 48.0,236.2 48.5,239.0 49.0,241.6 49.5,240.3 50.0,240.0 50.5,239.1 51.1,240.3 51.6,237.4 52.1,238.7 52.6,238.5 53.1,240.4 53.6,236.6 54.1,240.8 54.6,242.5 55.1,242.0 55.6,243.0 56.1,242.1 56.6,242.5 57.1,242.9 57.7,242.4 58.2,242.7 58.7,242.2 59.2,241.2 59.7,241.6 60.2,242.7 60.7,242.9 61.2,243.7 61.7,244.0 62.2,245.0 62.7,244.8 63.2,245.2 63.8,244.5 64.3,243.5 64.8,243.0 65.3,244.0 65.8,243.4 66.3,243.0 66.8,243.1 67.3,243.9 67.8,245.0 68.3,245.5 68.8,245.0 69.3,244.8 69.9,245.0 70.4,244.3 70.9,243.2 71.4,244.1 71.9,243.0 72.4,244.4 72.9,244.6 73.4,244.5 73.9,245.6 74.4,244.7 74.9,245.2 75.4,245.7 76.0,246.0 76.5,245.5 77.0,245.6 77.5,245.4 78.0,246.2 78.5,246.6 79.0,246.2 79.5,246.1 80.0,246.4 80.5,246.2 81.0,246.4 81.5,246.9 82.1,246.8 82.6,246.4 83.1,246.4 83.6,246.9 84.1,247.4 84.6,246.8 85.1,247.0 85.6,247.0 86.1,246.9 86.6,246.8 87.1,246.8 87.6,246.8 88.1,246.9 88.7,246.7 89.2,246.8 89.7,246.9 90.2,246.8 90.7,246.7 91.2,246.9 91.7,247.1 92.2,247.2 92.7,247.3 93.2,247.6 93.7,248.2 94.2,248.3 94.8,248.1 95.3,248.0 95.8,248.0 96.3,248.2 96.8,248.0 97.3,248.1 97.8,248.1 98.3,248.2 98.8,248.3 99.3,247.9 99.8,248.2 100.3,248.1 100.9,248.4 101.4,248.4 101.9,248.4 102.4,248.3 102.9,248.4 103.4,248.3 103.9,248.3 104.4,248.2 104.9,248.3 105.4,248.3 105.9,248.7 106.4,248.7 107.0,248.6 107.5,248.6 108.0,248.5 108.5,248.7 109.0,248.7 109.5,248.6 110.0,248.7 110.5,248.6 110.8,248.8 114.4,248.9 118.1,249.2 121.7,248.6 125.3,247.9 128.9,248.2 132.6,248.1 136.2,248.4 139.8,248.8 143.5,248.5 147.1,248.7 150.7,249.2 154.4,249.3 158.0,249.6 161.6,249.2 165.2,249.8 168.9,249.8 172.5,250.2 176.1,249.7 179.8,249.6 183.4,249.5 187.0,249.2 190.7,249.2 194.3,249.4 197.9,249.4 201.6,249.5 205.2,249.4 208.8,249.4 212.4,249.5 216.1,249.6 219.7,249.6" fill="none" stroke="#1f77b4" stroke-width="1.05" stroke-linejoin="round" stroke-opacity="0.85" />
<polyline points="38.2,224.0 38.3,244.9 38.5,225.9 38.6,229.0 38.7,214.4 38.8,217.6 38.9,230.3 39.0,247.3 39.1,232.0 39.2,212.1 39.3,242.7 39.4,229.1 39.5,239.5 39.7,241.4 39.9,236.7 40.1,243.2 40.3,239.1 40.5,247.6 40.7,244.4 41.0,246.3 41.2,240.7 41.4,241.9 41.6,249.5 41.8,250.1 42.0,246.0 42.3,247.3 42.5,251.7 42.7,253.0 42.9,250.8 43.1,247.3 43.4,250.0 43.6,246.3 43.8,246.5 44.0,249.4 44.2,246.1 44.4,246.5 44.7,248.4 44.9,250.7 45.1,248.2 45.3,249.0 45.5,250.3 46.0,251.7 46.5,252.7 47.0,249.1 47.5,246.9 48.0,250.5 48.5,251.4 49.0,251.4 49.5,253.5 50.0,253.8 50.5,251.6 51.1,251.2 51.6,252.4 52.1,250.9 52.6,249.4 53.1,249.4 53.6,248.7 54.1,248.5 54.6,251.1 55.1,252.1 55.6,250.6 56.1,251.1 56.6,250.3 57.1,250.9 57.7,250.9 58.2,249.4 58.7,249.5 59.2,248.9 59.7,247.6 60.2,247.4 60.7,249.3 61.2,248.7 61.7,250.5 62.2,250.3 62.7,250.5 63.2,249.1 63.8,248.5 64.3,248.6 64.8,248.3 65.3,248.9 65.8,249.9 66.3,250.8 66.8,250.5 67.3,249.5 67.8,249.1 68.3,248.9 68.8,249.3 69.3,249.8 69.9,251.4 70.4,251.4 70.9,250.7 71.4,249.7 71.9,249.6 72.4,249.0 72.9,248.6 73.4,248.3 73.9,249.1 74.4,249.3 74.9,249.5 75.4,249.8 76.0,250.7 76.5,250.1 77.0,250.1 77.5,249.6 78.0,249.1 78.5,248.7 79.0,248.4 79.5,249.0 80.0,248.5 80.5,248.1 81.0,247.8 81.5,247.5 82.1,247.6 82.6,247.5 83.1,248.2 83.6,249.1 84.1,248.6 84.6,248.3 85.1,248.0 85.6,247.8 86.1,248.1 86.6,247.6 87.1,247.9 87.6,247.6 88.1,248.0 88.7,248.3 89.2,247.8 89.7,247.8 90.2,247.8 90.7,247.8 91.2,247.6 91.7,247.6 92.2,247.4 92.7,247.4 93.2,247.5 93.7,247.3 94.2,247.0 94.8,247.0 95.3,247.0 95.8,246.9 96.3,246.9 96.8,246.9 97.3,246.6 97.8,246.6 98.3,246.3 98.8,246.4 99.3,246.3 99.8,246.0 100.3,245.9 100.9,245.8 101.4,246.3 101.9,246.2 102.4,246.2 102.9,246.3 103.4,246.2 103.9,246.1 104.4,246.1 104.9,246.0 105.4,245.7 105.9,245.5 106.4,245.3 107.0,245.3 107.5,245.2 108.0,245.1 108.5,244.8 109.0,244.6 109.5,244.6 110.0,244.6 110.5,244.7 110.8,244.6 114.4,244.9 118.1,244.3 121.7,244.8 125.3,244.8 128.9,244.4 132.6,244.5 136.2,244.6 139.8,244.9 143.5,245.1 147.1,245.1 150.7,245.3 154.4,245.4 158.0,245.6 161.6,245.8 165.2,245.6 168.9,245.5 172.5,245.6 176.1,245.7 179.8,245.8 183.4,246.2 187.0,246.4 190.7,246.6 194.3,246.7 197.9,247.0 201.6,247.0 205.2,247.1 208.8,247.2 212.4,247.4 216.1,247.3 219.7,247.1" fill="none" stroke="#ff7f0e" stroke-width="1.05" stroke-linejoin="round" stroke-opacity="0.85" />
<polyline points="38.2,262.5 38.3,299.1 38.5,280.6 38.6,263.2 38.7,272.9 38.8,251.7 38.9,241.6 39.0,262.4 39.1,242.4 39.2,247.5 39.3,248.9 39.4,242.9 39.5,241.1 39.7,241.2 39.9,246.0 40.1,249.8 40.3,250.5 40.5,244.2 40.7,248.6 41.0,245.0 41.2,257.7 41.4,253.2 41.6,256.0 41.8,260.4 42.0,253.2 42.3,254.2 42.5,251.5 42.7,255.3 42.9,258.7 43.1,257.8 43.4,252.8 43.6,254.6 43.8,251.7 44.0,253.8 44.2,250.2 44.4,246.9 44.7,253.3 44.9,253.4 45.1,252.2 45.3,252.4 45.5,252.1 46.0,251.9 46.5,252.2 47.0,249.8 47.5,251.0 48.0,250.9 48.5,249.5 49.0,245.7 49.5,248.4 50.0,248.2 50.5,248.1 51.1,249.1 51.6,250.7 52.1,248.7 52.6,247.1 53.1,247.1 53.6,249.5 54.1,251.6 54.6,251.8 55.1,250.7 55.6,249.2 56.1,251.0 56.6,248.5 57.1,250.2 57.7,250.7 58.2,251.7 58.7,250.0 59.2,250.6 59.7,250.2 60.2,247.5 60.7,247.0 61.2,246.7 61.7,246.9 62.2,247.8 62.7,249.3 63.2,249.0 63.8,250.1 64.3,250.4 64.8,250.4 65.3,251.1 65.8,251.3 66.3,250.6 66.8,249.6 67.3,251.6 67.8,251.1 68.3,250.8 68.8,249.9 69.3,250.5 69.9,250.2 70.4,250.6 70.9,249.8 71.4,249.4 71.9,248.7 72.4,249.5 72.9,249.2 73.4,249.3 73.9,249.4 74.4,249.4 74.9,249.5 75.4,249.4 76.0,250.2 76.5,250.1 77.0,250.0 77.5,250.0 78.0,249.5 78.5,250.3 79.0,250.4 79.5,250.2 80.0,250.3 80.5,250.1 81.0,249.5 81.5,249.6 82.1,249.2 82.6,248.6 83.1,248.5 83.6,248.7 84.1,249.1 84.6,249.1 85.1,249.2 85.6,249.2 86.1,248.9 86.6,248.7 87.1,248.8 87.6,249.2 88.1,249.3 88.7,249.7 89.2,249.5 89.7,249.5 90.2,249.5 90.7,249.7 91.2,249.7 91.7,249.7 92.2,250.0 92.7,250.2 93.2,250.1 93.7,250.1 94.2,249.8 94.8,249.4 95.3,250.1 95.8,249.9 96.3,249.8 96.8,249.6 97.3,249.9 97.8,249.7 98.3,249.4 98.8,249.3 99.3,249.2 99.8,249.2 100.3,249.1 100.9,249.2 101.4,249.3 101.9,249.3 102.4,249.1 102.9,249.3 103.4,249.3 103.9,249.3 104.4,249.6 104.9,249.4 105.4,249.4 105.9,249.5 106.4,249.4 107.0,249.7 107.5,249.6 108.0,249.3 108.5,249.4 109.0,249.4 109.5,249.3 110.0,249.3 110.5,249.5 110.8,249.5 114.4,249.5 118.1,249.4 121.7,248.7 125.3,248.3 128.9,248.4 132.6,247.9 136.2,248.4 139.8,248.4 143.5,248.2 147.1,248.4 150.7,248.4 154.4,248.4 158.0,248.1 161.6,248.0 165.2,248.2 168.9,248.0 172.5,248.0 176.1,248.2 179.8,248.2 183.4,248.0 187.0,248.2 190.7,248.4 194.3,248.2 197.9,247.9 201.6,247.9 205.2,248.1 208.8,248.3 212.4,248.4 216.1,248.5 219.7,248.1" fill="none" stroke="#2ca02c" stroke-width="1.05" stroke-linejoin="round" stroke-opacity="0.85" />
<polyline points="38.2,277.5 38.3,262.9 38.5,258.6 38.6,257.6 38.7,270.2 38.8,273.0 38.9,281.4 39.0,263.1 39.1,278.0 39.2,267.1 39.3,274.2 39.4,255.5 39.5,266.5 39.7,272.7 39.9,270.8 40.1,270.8 40.3,267.9 40.5,265.9 40.7,264.7 41.0,266.5 41.2,262.9 41.4,261.2 41.6,260.6 41.8,257.5 42.0,253.0 42.3,260.7 42.5,255.3 42.7,254.0 42.9,254.6 43.1,256.0 43.4,252.3 43.6,251.9 43.8,254.2 44.0,251.4 44.2,250.8 44.4,254.0 44.7,252.5 44.9,255.8 45.1,255.7 45.3,251.4 45.5,250.1 46.0,249.5 46.5,252.9 47.0,255.0 47.5,258.2 48.0,257.3 48.5,254.8 49.0,257.3 49.5,259.6 50.0,257.4 50.5,258.1 51.1,256.9 51.6,258.3 52.1,256.7 52.6,256.1 53.1,257.8 53.6,259.5 54.1,260.9 54.6,260.1 55.1,258.8 55.6,259.9 56.1,259.7 56.6,258.6 57.1,260.1 57.7,261.2 58.2,262.2 58.7,260.3 59.2,261.3 59.7,261.9 60.2,260.2 60.7,259.9 61.2,259.1 61.7,259.4 62.2,258.4 62.7,259.8 63.2,259.6 63.8,261.0 64.3,261.1 64.8,261.8 65.3,262.0 65.8,262.1 66.3,261.0 66.8,260.7 67.3,260.6 67.8,259.8 68.3,258.4 68.8,258.1 69.3,258.0 69.9,258.6 70.4,259.6 70.9,259.3 71.4,259.6 71.9,259.2 72.4,258.7 72.9,258.9 73.4,258.6 73.9,259.0 74.4,258.7 74.9,258.6 75.4,257.8 76.0,257.5 76.5,257.6 77.0,257.1 77.5,256.9 78.0,256.8 78.5,256.8 79.0,256.7 79.5,256.3 80.0,256.0 80.5,256.5 81.0,256.0 81.5,256.3 82.1,255.6 82.6,255.7 83.1,255.4 83.6,255.1 84.1,254.9 84.6,254.0 85.1,254.6 85.6,254.9 86.1,254.6 86.6,254.7 87.1,254.0 87.6,253.7 88.1,253.4 88.7,253.1 89.2,253.3 89.7,253.1 90.2,252.9 90.7,252.6 91.2,252.6 91.7,252.6 92.2,252.5 92.7,252.7 93.2,252.9 93.7,252.9 94.2,253.1 94.8,252.5 95.3,252.5 95.8,252.0 96.3,252.0 96.8,252.2 97.3,252.2 97.8,252.0 98.3,252.1 98.8,251.9 99.3,252.0 99.8,252.1 100.3,252.0 100.9,251.8 101.4,251.7 101.9,251.3 102.4,251.1 102.9,250.7 103.4,250.5 103.9,250.5 104.4,250.6 104.9,250.7 105.4,250.7 105.9,250.9 106.4,250.9 107.0,251.1 107.5,250.9 108.0,251.2 108.5,251.0 109.0,251.2 109.5,251.0 110.0,251.2 110.5,251.2 110.8,251.3 114.4,251.8 118.1,251.9 121.7,251.8 125.3,251.9 128.9,252.0 132.6,251.5 136.2,251.0 139.8,251.3 143.5,251.4 147.1,251.3 150.7,251.4 154.4,251.6 158.0,250.7 161.6,250.4 165.2,249.9 168.9,249.4 172.5,249.8 176.1,249.6 179.8,249.4 183.4,249.4 187.0,249.6 190.7,249.7 194.3,249.7 197.9,250.1 201.6,250.1 205.2,250.0 208.8,250.1 212.4,249.9 216.1,250.0 219.7,250.1" fill="none" stroke="#d62728" stroke-width="1.05" stroke-linejoin="round" stroke-opacity="0.85" />
<polyline points="38.2,213.3 38.3,196.5 38.5,231.3 38.6,217.1 38.7,219.2 38.8,222.7 38.9,226.3 39.0,224.2 39.1,228.9 39.2,226.1 39.3,215.2 39.4,231.2 39.5,220.8 39.7,219.0 39.9,228.8 40.1,224.1 40.3,222.4 40.5,230.0 40.7,229.8 41.0,233.9 41.2,226.8 41.4,233.4 41.6,239.6 41.8,241.8 42.0,239.0 42.3,237.6 42.5,236.5 42.7,241.7 42.9,241.1 43.1,240.5 43.4,236.9 43.6,235.3 43.8,236.2 44.0,237.0 44.2,236.8 44.4,236.4 44.7,238.0 44.9,238.8 45.1,237.7 45.3,235.4 45.5,239.2 46.0,242.9 46.5,243.0 47.0,240.0 47.5,238.7 48.0,241.3 48.5,242.6 49.0,241.8 49.5,242.0 50.0,241.7 50.5,241.2 51.1,243.0 51.6,243.5 52.1,241.4 52.6,242.0 53.1,242.1 53.6,244.4 54.1,243.1 54.6,245.3 55.1,243.3 55.6,242.5 56.1,244.0 56.6,241.6 57.1,240.3 57.7,239.9 58.2,240.5 58.7,242.3 59.2,242.1 59.7,242.8 60.2,244.4 60.7,243.5 61.2,241.2 61.7,241.2 62.2,242.0 62.7,241.9 63.2,241.2 63.8,240.5 64.3,242.0 64.8,242.3 65.3,243.2 65.8,241.9 66.3,242.8 66.8,242.9 67.3,242.8 67.8,243.4 68.3,242.6 68.8,242.0 69.3,241.7 69.9,240.9 70.4,242.0 70.9,242.9 71.4,243.3 71.9,243.0 72.4,242.4 72.9,242.0 73.4,242.7 73.9,243.1 74.4,243.8 74.9,243.7 75.4,243.7 76.0,243.9 76.5,244.6 77.0,243.9 77.5,243.6 78.0,243.8 78.5,243.5 79.0,243.2 79.5,243.5 80.0,243.1 80.5,242.9 81.0,243.0 81.5,243.1 82.1,242.9 82.6,243.0 83.1,242.7 83.6,243.1 84.1,243.0 84.6,243.1 85.1,243.0 85.6,243.3 86.1,243.5 86.6,243.8 87.1,243.4 87.6,243.5 88.1,243.7 88.7,243.3 89.2,243.6 89.7,243.9 90.2,244.1 90.7,244.5 91.2,244.3 91.7,244.1 92.2,244.1 92.7,243.6 93.2,243.6 93.7,243.7 94.2,243.4 94.8,243.3 95.3,243.2 95.8,243.2 96.3,243.3 96.8,243.4 97.3,243.6 97.8,243.8 98.3,243.8 98.8,243.7 99.3,243.8 99.8,244.0 100.3,243.9 100.9,244.0 101.4,244.2 101.9,244.4 102.4,244.4 102.9,244.5 103.4,244.7 103.9,244.9 104.4,244.5 104.9,244.5 105.4,244.6 105.9,244.7 106.4,244.7 107.0,244.8 107.5,244.9 108.0,245.0 108.5,245.1 109.0,245.2 109.5,245.0 110.0,245.0 110.5,245.1 110.8,244.7 114.4,244.5 118.1,244.8 121.7,244.8 125.3,244.5 128.9,244.9 132.6,245.1 136.2,245.1 139.8,245.0 143.5,245.4 147.1,245.2 150.7,245.3 154.4,245.7 158.0,245.9 161.6,246.0 165.2,246.0 168.9,245.9 172.5,245.9 176.1,246.1 179.8,246.3 183.4,246.2 187.0,246.4 190.7,246.8 194.3,247.0 197.9,247.2 201.6,247.3 205.2,247.2 208.8,247.3 212.4,247.3 216.1,247.3 219.7,247.4" fill="none" stroke="#9467bd" stroke-width="1.05" stroke-linejoin="round" stroke-opacity="0.85" />
<polyline points="38.2,256.1 38.3,273.4 38.5,258.2 38.6,268.3 38.7,259.3 38.8,261.6 38.9,263.7 39.0,260.8 39.1,269.4 39.2,273.1 39.3,266.0 39.4,267.8 39.5,273.0 39.7,262.5 39.9,273.2 40.1,269.0 40.3,263.4 40.5,260.0 40.7,258.9 41.0,251.3 41.2,254.4 41.4,254.4 41.6,254.1 41.8,253.6 42.0,250.9 42.3,249.5 42.5,251.5 42.7,251.0 42.9,252.0 43.1,254.1 43.4,248.0 43.6,247.2 43.8,252.4 44.0,255.6 44.2,252.6 44.4,252.1 44.7,251.9 44.9,253.8 45.1,256.9 45.3,253.1 45.5,253.4 46.0,257.5 46.5,255.2 47.0,252.3 47.5,257.6 48.0,257.7 48.5,260.6 49.0,257.7 49.5,256.2 50.0,256.9 50.5,260.9 51.1,260.9 51.6,261.5 52.1,262.1 52.6,260.7 53.1,258.3 53.6,256.7 54.1,257.2 54.6,258.3 55.1,259.6 55.6,258.9 56.1,260.2 56.6,258.5 57.1,258.8 57.7,259.4 58.2,258.7 58.7,258.8 59.2,259.1 59.7,258.7 60.2,258.4 60.7,259.2 61.2,258.0 61.7,257.6 62.2,257.2 62.7,256.9 63.2,256.4 63.8,256.7 64.3,255.8 64.8,256.4 65.3,256.2 65.8,256.5 66.3,257.2 66.8,256.7 67.3,255.6 67.8,255.2 68.3,256.8 68.8,256.2 69.3,256.0 69.9,256.9 70.4,256.5 70.9,254.9 71.4,254.1 71.9,254.0 72.4,254.3 72.9,254.5 73.4,255.0 73.9,255.3 74.4,254.6 74.9,254.1 75.4,253.4 76.0,253.9 76.5,253.4 77.0,253.2 77.5,254.0 78.0,253.5 78.5,253.5 79.0,253.1 79.5,253.0 80.0,252.3 80.5,252.2 81.0,252.4 81.5,252.7 82.1,252.7 82.6,252.4 83.1,252.1 83.6,251.9 84.1,251.7 84.6,250.9 85.1,250.8 85.6,250.4 86.1,250.6 86.6,250.9 87.1,251.0 87.6,250.5 88.1,250.8 88.7,251.0 89.2,251.1 89.7,250.7 90.2,250.5 90.7,250.4 91.2,250.3 91.7,250.3 92.2,250.1 92.7,250.0 93.2,249.7 93.7,249.6 94.2,249.9 94.8,249.8 95.3,249.6 95.8,249.2 96.3,248.9 96.8,248.7 97.3,248.5 97.8,248.5 98.3,248.6 98.8,248.8 99.3,249.0 99.8,249.0 100.3,249.0 100.9,249.3 101.4,249.5 101.9,249.5 102.4,249.2 102.9,249.5 103.4,249.3 103.9,249.3 104.4,249.1 104.9,249.5 105.4,249.7 105.9,249.8 106.4,249.8 107.0,249.7 107.5,249.6 108.0,249.3 108.5,249.3 109.0,249.2 109.5,249.3 110.0,249.1 110.5,249.0 110.8,248.4 114.4,248.2 118.1,248.0 121.7,247.5 125.3,247.6 128.9,246.9 132.6,246.2 136.2,246.4 139.8,245.9 143.5,245.9 147.1,245.9 150.7,246.2 154.4,246.5 158.0,246.2 161.6,246.1 165.2,245.6 168.9,245.6 172.5,245.4 176.1,245.6 179.8,245.5 183.4,245.5 187.0,245.5 190.7,245.5 194.3,245.4 197.9,245.6 201.6,245.7 205.2,245.8 208.8,246.2 212.4,246.3 216.1,246.3 219.7,246.2" fill="none" stroke="#8c564b" stroke-width="1.05" stroke-linejoin="round" stroke-opacity="0.85" />
<polyline points="38.2,234.7 38.3,238.6 38.5,245.0 38.6,222.9 38.7,230.0 38.8,222.5 38.9,216.3 39.0,229.3 39.1,219.3 39.2,208.3 39.3,216.8 39.4,221.4 39.5,221.4 39.7,218.8 39.9,222.2 40.1,218.5 40.3,215.3 40.5,222.0 40.7,224.3 41.0,218.3 41.2,218.6 41.4,218.2 41.6,226.9 41.8,223.8 42.0,221.9 42.3,222.7 42.5,225.6 42.7,223.8 42.9,225.2 43.1,224.8 43.4,226.8 43.6,224.6 43.8,222.8 44.0,225.2 44.2,227.0 44.4,228.9 44.7,225.1 44.9,227.6 45.1,227.8 45.3,227.1 45.5,226.9 46.0,226.3 46.5,228.5 47.0,226.0 47.5,226.7 48.0,227.4 48.5,227.7 49.0,231.1 49.5,231.2 50.0,228.1 50.5,230.7 51.1,231.6 51.6,229.8 52.1,228.7 52.6,229.3 53.1,229.1 53.6,230.6 54.1,231.7 54.6,230.8 55.1,230.6 55.6,229.4 56.1,232.0 56.6,232.3 57.1,233.3 57.7,234.5 58.2,232.9 58.7,233.5 59.2,233.8 59.7,234.0 60.2,234.8 60.7,235.3 61.2,236.1 61.7,235.2 62.2,234.1 62.7,234.6 63.2,234.2 63.8,234.2 64.3,233.4 64.8,232.8 65.3,235.4 65.8,235.4 66.3,236.6 66.8,236.2 67.3,236.3 67.8,236.3 68.3,236.0 68.8,236.6 69.3,236.6 69.9,236.5 70.4,236.3 70.9,236.8 71.4,237.0 71.9,237.5 72.4,236.5 72.9,237.7 73.4,237.7 73.9,238.0 74.4,238.0 74.9,239.0 75.4,238.6 76.0,239.0 76.5,238.9 77.0,239.0 77.5,238.5 78.0,238.3 78.5,237.7 79.0,238.5 79.5,239.6 80.0,239.6 80.5,239.1 81.0,239.2 81.5,238.9 82.1,238.9 82.6,239.0 83.1,239.6 83.6,240.0 84.1,240.5 84.6,240.6 85.1,240.8 85.6,240.9 86.1,241.4 86.6,241.5 87.1,241.6 87.6,241.3 88.1,240.9 88.7,240.7 89.2,240.7 89.7,241.1 90.2,241.3 90.7,241.5 91.2,241.9 91.7,241.9 92.2,242.5 92.7,242.4 93.2,242.0 93.7,241.9 94.2,241.8 94.8,242.3 95.3,242.5 95.8,242.6 96.3,242.5 96.8,242.4 97.3,242.6 97.8,242.7 98.3,242.6 98.8,242.7 99.3,242.5 99.8,242.9 100.3,243.0 100.9,243.0 101.4,242.8 101.9,242.9 102.4,243.0 102.9,242.8 103.4,242.7 103.9,242.6 104.4,242.8 104.9,243.1 105.4,243.1 105.9,243.2 106.4,243.3 107.0,243.3 107.5,243.2 108.0,243.3 108.5,243.1 109.0,243.1 109.5,243.0 110.0,243.0 110.5,243.1 110.8,243.4 114.4,242.7 118.1,243.4 121.7,243.6 125.3,243.7 128.9,244.6 132.6,244.8 136.2,244.9 139.8,245.0 143.5,244.8 147.1,244.5 150.7,244.4 154.4,244.9 158.0,245.0 161.6,244.9 165.2,245.0 168.9,245.1 172.5,245.7 176.1,245.7 179.8,245.9 183.4,246.1 187.0,246.2 190.7,246.2 194.3,246.2 197.9,246.3 201.6,246.5 205.2,246.4 208.8,246.4 212.4,246.8 216.1,246.9 219.7,246.6" fill="none" stroke="#e377c2" stroke-width="1.05" stroke-linejoin="round" stroke-opacity="0.85" />
<polyline points="38.2,249.7 38.3,235.3 38.5,245.3 38.6,254.6 38.7,248.8 38.8,251.4 38.9,263.9 39.0,259.8 39.1,257.0 39.2,267.6 39.3,258.0 39.4,270.1 39.5,260.1 39.7,270.8 39.9,270.5 40.1,273.0 40.3,261.9 40.5,270.9 40.7,271.2 41.0,257.0 41.2,258.4 41.4,259.7 41.6,260.4 41.8,258.1 42.0,260.4 42.3,258.4 42.5,253.0 42.7,257.8 42.9,261.0 43.1,254.2 43.4,250.2 43.6,253.0 43.8,249.7 44.0,248.4 44.2,251.4 44.4,254.4 44.7,256.0 44.9,257.6 45.1,254.7 45.3,254.7 45.5,254.8 46.0,250.2 46.5,254.8 47.0,251.8 47.5,253.6 48.0,255.9 48.5,253.5 49.0,256.5 49.5,258.2 50.0,259.7 50.5,259.1 51.1,259.3 51.6,259.6 52.1,259.3 52.6,258.5 53.1,256.1 53.6,258.2 54.1,259.0 54.6,259.5 55.1,258.3 55.6,260.0 56.1,259.0 56.6,258.4 57.1,258.0 57.7,258.6 58.2,259.2 58.7,256.4 59.2,255.7 59.7,256.2 60.2,256.3 60.7,257.5 61.2,257.3 61.7,256.5 62.2,257.0 62.7,256.7 63.2,256.3 63.8,255.9 64.3,255.7 64.8,253.7 65.3,253.3 65.8,253.5 66.3,253.1 66.8,252.4 67.3,253.1 67.8,253.3 68.3,253.7 68.8,254.0 69.3,255.0 69.9,254.3 70.4,254.5 70.9,253.5 71.4,252.2 71.9,251.3 72.4,252.2 72.9,252.8 73.4,252.5 73.9,252.3 74.4,252.8 74.9,251.6 75.4,252.3 76.0,252.7 76.5,252.4 77.0,252.3 77.5,251.6 78.0,251.0 78.5,251.2 79.0,251.5 79.5,250.8 80.0,250.7 80.5,250.2 81.0,249.9 81.5,250.4 82.1,250.2 82.6,250.2 83.1,249.7 83.6,250.1 84.1,250.4 84.6,249.4 85.1,249.4 85.6,249.4 86.1,249.1 86.6,249.1 87.1,249.1 87.6,249.2 88.1,249.2 88.7,249.3 89.2,249.6 89.7,249.6 90.2,249.5 90.7,249.3 91.2,249.4 91.7,248.9 92.2,248.6 92.7,248.7 93.2,248.3 93.7,248.2 94.2,248.2 94.8,247.8 95.3,248.4 95.8,248.6 96.3,248.0 96.8,247.9 97.3,247.7 97.8,247.6 98.3,247.6 98.8,247.6 99.3,247.7 99.8,247.8 100.3,247.7 100.9,247.8 101.4,247.6 101.9,247.3 102.4,247.0 102.9,246.9 103.4,246.9 103.9,246.6 104.4,246.4 104.9,246.4 105.4,246.3 105.9,246.0 106.4,245.9 107.0,245.7 107.5,245.6 108.0,245.4 108.5,245.2 109.0,245.0 109.5,244.9 110.0,245.0 110.5,244.6 110.8,244.9 114.4,245.2 118.1,245.3 121.7,245.7 125.3,245.6 128.9,245.9 132.6,245.9 136.2,246.2 139.8,246.5 143.5,246.4 147.1,246.3 150.7,246.4 154.4,246.6 158.0,246.9 161.6,247.0 165.2,246.6 168.9,246.7 172.5,246.6 176.1,247.1 179.8,247.0 183.4,246.9 187.0,246.9 190.7,247.3 194.3,247.4 197.9,247.5 201.6,247.7 205.2,247.4 208.8,247.5 212.4,247.6 216.1,247.6 219.7,247.6" fill="none" stroke="#7f7f7f" stroke-width="1.05" stroke-linejoin="round" stroke-opacity="0.85" />
<polyline points="38.2,266.8 38.3,253.6 38.5,236.8 38.6,240.8 38.7,253.5 38.8,240.2 38.9,234.4 39.0,224.8 39.1,232.8 39.2,235.0 39.3,209.7 39.4,224.6 39.5,224.0 39.7,222.8 39.9,217.4 40.1,219.3 40.3,213.8 40.5,217.2 40.7,214.6 41.0,209.0 41.2,213.7 41.4,215.8 41.6,213.9 41.8,212.4 42.0,210.0 42.3,210.5 42.5,214.5 42.7,216.9 42.9,219.8 43.1,221.9 43.4,217.3 43.6,217.4 43.8,215.7 44.0,219.6 44.2,221.3 44.4,223.8 44.7,225.7 44.9,224.2 45.1,226.6 45.3,225.4 45.5,225.3 46.0,224.8 46.5,230.0 47.0,231.3 47.5,236.2 48.0,234.9 48.5,233.0 49.0,239.1 49.5,241.5 50.0,239.6 50.5,240.6 51.1,238.1 51.6,237.6 52.1,237.2 52.6,242.4 53.1,243.4 53.6,240.9 54.1,243.3 54.6,244.3 55.1,243.4 55.6,245.0 56.1,243.5 56.6,245.6 57.1,244.1 57.7,243.5 58.2,243.8 58.7,245.5 59.2,243.5 59.7,243.5 60.2,243.1 60.7,243.5 61.2,242.8 61.7,243.4 62.2,244.4 62.7,245.0 63.2,243.7 63.8,244.6 64.3,244.3 64.8,244.1 65.3,243.1 65.8,242.6 66.3,243.6 66.8,242.5 67.3,242.6 67.8,243.9 68.3,243.8 68.8,243.2 69.3,243.6 69.9,242.9 70.4,243.4 70.9,243.0 71.4,243.9 71.9,244.6 72.4,245.1 72.9,245.7 73.4,245.5 73.9,245.0 74.4,244.6 74.9,243.7 75.4,243.3 76.0,242.5 76.5,243.2 77.0,243.7 77.5,242.8 78.0,242.9 78.5,242.9 79.0,243.1 79.5,242.6 80.0,241.6 80.5,242.2 81.0,241.5 81.5,241.7 82.1,242.0 82.6,242.2 83.1,243.2 83.6,242.9 84.1,243.0 84.6,243.5 85.1,243.7 85.6,243.1 86.1,243.1 86.6,243.5 87.1,243.7 87.6,243.3 88.1,243.2 88.7,243.3 89.2,243.3 89.7,242.9 90.2,242.6 90.7,242.8 91.2,243.6 91.7,243.5 92.2,243.6 92.7,243.7 93.2,243.7 93.7,243.9 94.2,243.7 94.8,243.7 95.3,243.8 95.8,243.9 96.3,244.0 96.8,244.0 97.3,243.9 97.8,243.7 98.3,243.3 98.8,243.7 99.3,243.5 99.8,243.3 100.3,243.4 100.9,243.6 101.4,243.6 101.9,243.7 102.4,244.0 102.9,244.0 103.4,244.0 103.9,244.1 104.4,243.8 104.9,243.9 105.4,244.0 105.9,243.7 106.4,243.8 107.0,244.0 107.5,244.1 108.0,244.3 108.5,244.3 109.0,244.3 109.5,244.5 110.0,244.2 110.5,244.2 110.8,244.3 114.4,244.4 118.1,244.9 121.7,244.7 125.3,244.7 128.9,244.3 132.6,244.4 136.2,244.5 139.8,244.1 143.5,244.4 147.1,244.8 150.7,244.6 154.4,244.8 158.0,244.9 161.6,245.0 165.2,244.9 168.9,244.7 172.5,244.9 176.1,244.7 179.8,244.7 183.4,245.1 187.0,245.3 190.7,245.4 194.3,245.9 197.9,245.6 201.6,246.1 205.2,246.8 208.8,246.6 212.4,246.6 216.1,246.7 219.7,246.7" fill="none" stroke="#bcbd22" stroke-width="1.05" stroke-linejoin="round" stroke-opacity="0.85" />
<polyline points="38.2,288.2 38.3,297.6 38.5,281.0 38.6,266.0 38.7,287.6 38.8,281.3 38.9,273.4 39.0,277.5 39.1,269.1 39.2,276.5 39.3,277.0 39.4,270.7 39.5,271.2 39.7,263.1 39.9,258.0 40.1,252.7 40.3,252.1 40.5,249.5 40.7,250.8 41.0,254.3 41.2,246.7 41.4,249.9 41.6,248.0 41.8,251.3 42.0,250.3 42.3,251.3 42.5,255.7 42.7,249.2 42.9,250.5 43.1,255.2 43.4,256.9 43.6,253.9 43.8,248.4 44.0,248.2 44.2,250.5 44.4,251.8 44.7,256.5 44.9,256.9 45.1,253.2 45.3,254.9 45.5,254.7 46.0,256.1 46.5,253.3 47.0,256.3 47.5,255.4 48.0,252.9 48.5,251.1 49.0,251.6 49.5,253.8 50.0,252.6 50.5,251.7 51.1,250.6 51.6,252.8 52.1,254.4 52.6,254.9 53.1,254.4 53.6,252.4 54.1,250.9 54.6,252.3 55.1,251.6 55.6,251.3 56.1,253.7 56.6,251.3 57.1,250.9 57.7,252.2 58.2,253.3 58.7,252.0 59.2,250.9 59.7,252.3 60.2,253.3 60.7,252.6 61.2,252.3 61.7,252.7 62.2,252.8 62.7,252.7 63.2,253.5 63.8,253.8 64.3,252.0 64.8,251.3 65.3,251.9 65.8,252.9 66.3,252.0 66.8,251.6 67.3,252.1 67.8,252.0 68.3,252.6 68.8,252.7 69.3,252.9 69.9,253.2 70.4,252.9 70.9,253.1 71.4,252.5 71.9,252.3 72.4,252.9 72.9,252.3 73.4,252.1 73.9,252.8 74.4,252.0 74.9,251.2 75.4,251.6 76.0,252.1 76.5,252.5 77.0,252.6 77.5,252.9 78.0,252.5 78.5,252.6 79.0,252.6 79.5,253.0 80.0,252.9 80.5,253.2 81.0,253.4 81.5,253.4 82.1,253.9 82.6,254.0 83.1,254.1 83.6,254.2 84.1,254.1 84.6,253.7 85.1,253.8 85.6,253.9 86.1,253.8 86.6,254.0 87.1,253.8 87.6,253.8 88.1,254.5 88.7,253.9 89.2,254.0 89.7,253.4 90.2,253.5 90.7,253.8 91.2,253.6 91.7,253.4 92.2,253.6 92.7,253.8 93.2,253.7 93.7,253.5 94.2,253.3 94.8,253.3 95.3,253.5 95.8,253.5 96.3,253.7 96.8,253.3 97.3,253.2 97.8,253.2 98.3,253.4 98.8,253.3 99.3,253.3 99.8,253.6 100.3,253.6 100.9,253.5 101.4,253.5 101.9,253.7 102.4,253.7 102.9,253.8 103.4,253.9 103.9,253.7 104.4,253.9 104.9,253.9 105.4,254.1 105.9,254.0 106.4,254.1 107.0,254.1 107.5,254.3 108.0,254.3 108.5,254.5 109.0,254.5 109.5,254.6 110.0,254.6 110.5,254.8 110.8,254.7 114.4,254.5 118.1,255.5 121.7,255.3 125.3,255.1 128.9,254.7 132.6,253.8 136.2,253.1 139.8,253.0 143.5,252.8 147.1,253.0 150.7,253.0 154.4,252.8 158.0,252.2 161.6,252.4 165.2,252.2 168.9,252.0 172.5,251.4 176.1,251.3 179.8,250.6 183.4,250.2 187.0,250.0 190.7,249.8 194.3,249.8 197.9,249.6 201.6,249.3 205.2,249.0 208.8,248.8 212.4,248.7 216.1,248.7 219.7,248.2" fill="none" stroke="#17becf" stroke-width="1.05" stroke-linejoin="round" stroke-opacity="0.85" />
</g>
<polyline points="38.2,248.3 219.7,248.3" fill="none" stroke="#f00" stroke-width="1.8" stroke-linejoin="round" stroke-dasharray="5.85,2.61"/>
<path d="M219.70,238.98 H110.80 V260.38 H219.70" fill="none" stroke="#e5484b" stroke-width="0.95"/>
<rect x="38.2" y="202.6" width="181.5" height="117.70000000000002" fill="none" stroke="#555" stroke-width="0.9"/>
<line x1="38.20" y1="320.3" x2="38.20" y2="322.3" stroke="#555" stroke-width="0.8"/>
<text transform="translate(38.20,332.90) scale(1.13,1)" font-size="11.3" text-anchor="middle" fill="#222" >0</text>
<line x1="74.50" y1="320.3" x2="74.50" y2="322.3" stroke="#555" stroke-width="0.8"/>
<text transform="translate(74.50,332.90) scale(1.13,1)" font-size="11.3" text-anchor="middle" fill="#222" >1000</text>
<line x1="110.80" y1="320.3" x2="110.80" y2="322.3" stroke="#555" stroke-width="0.8"/>
<text transform="translate(110.80,332.90) scale(1.13,1)" font-size="11.3" text-anchor="middle" fill="#222" >2000</text>
<line x1="147.10" y1="320.3" x2="147.10" y2="322.3" stroke="#555" stroke-width="0.8"/>
<text transform="translate(147.10,332.90) scale(1.13,1)" font-size="11.3" text-anchor="middle" fill="#222" >3000</text>
<line x1="183.40" y1="320.3" x2="183.40" y2="322.3" stroke="#555" stroke-width="0.8"/>
<text transform="translate(183.40,332.90) scale(1.13,1)" font-size="11.3" text-anchor="middle" fill="#222" >4000</text>
<line x1="219.70" y1="320.3" x2="219.70" y2="322.3" stroke="#555" stroke-width="0.8"/>
<text transform="translate(219.70,332.90) scale(1.13,1)" font-size="11.3" text-anchor="middle" fill="#222" >5000</text>
<line x1="36.2" y1="320.30" x2="38.2" y2="320.30" stroke="#555" stroke-width="0.8"/>
<text transform="translate(34.00,324.20) scale(1.13,1)" font-size="8.6" text-anchor="end" fill="#222" >3</text>
<line x1="36.2" y1="298.90" x2="38.2" y2="298.90" stroke="#555" stroke-width="0.8"/>
<text transform="translate(34.00,302.80) scale(1.13,1)" font-size="8.6" text-anchor="end" fill="#222" >2</text>
<line x1="36.2" y1="277.50" x2="38.2" y2="277.50" stroke="#555" stroke-width="0.8"/>
<text transform="translate(34.00,281.40) scale(1.13,1)" font-size="8.6" text-anchor="end" fill="#222" >1</text>
<line x1="36.2" y1="256.10" x2="38.2" y2="256.10" stroke="#555" stroke-width="0.8"/>
<text transform="translate(34.00,260.00) scale(1.13,1)" font-size="8.6" text-anchor="end" fill="#222" >0</text>
<line x1="36.2" y1="234.70" x2="38.2" y2="234.70" stroke="#555" stroke-width="0.8"/>
<text transform="translate(34.00,238.60) scale(1.13,1)" font-size="8.6" text-anchor="end" fill="#222" >1</text>
<line x1="36.2" y1="213.30" x2="38.2" y2="213.30" stroke="#555" stroke-width="0.8"/>
<text transform="translate(34.00,217.20) scale(1.13,1)" font-size="8.6" text-anchor="end" fill="#222" >2</text>
<rect x="21.9" y="320.65" width="5.3" height="0.95" fill="#222"/>
<rect x="21.9" y="299.25" width="5.3" height="0.95" fill="#222"/>
<rect x="21.9" y="277.85" width="5.3" height="0.95" fill="#222"/>
<rect x="152.6" y="207.3" width="63.099999999999994" height="15.199999999999989" rx="1.5" fill="#fff" fill-opacity="0.85" stroke="#ddd" stroke-width="0.8"/>
<line x1="155.7" y1="214.1" x2="170.9" y2="214.1" stroke="#f00" stroke-width="1.8" stroke-dasharray="6.23,2.74"/>
<text transform="translate(180.60,216.90) scale(1.18,1)" font-size="8.6" text-anchor="start" fill="#222" >true p3</text>
<text transform="translate(61.00,309.70) scale(1.05,1)" font-size="15.8" text-anchor="middle" fill="#000" >D</text>
<text transform="translate(129.00,349.60) scale(1.0,1)" font-size="16.7" text-anchor="middle" fill="#000" >N</text>
<text transform="translate(13.7,272.6) rotate(-90) scale(1.1,1)" font-size="22.5" fill="#000" font-style="italic">p</text>
<text transform="translate(17.6,259.2) rotate(-90)" font-size="15.5" fill="#000">3</text>
<clipPath id="cE"><rect x="262.5" y="201.4" width="179.60000000000002" height="115.99999999999997"/></clipPath>
<g clip-path="url(#cE)">
<polyline points="262.5,254.9 263.4,254.9 264.2,256.6 265.1,253.3 265.9,249.6 266.8,251.2 267.6,250.7 268.5,252.6 269.3,254.5 270.2,252.7 271.1,253.9 271.9,256.7 272.8,257.6 273.6,258.8 274.5,257.0 275.3,260.1 276.2,260.1 277.0,262.3 277.9,259.6 278.7,259.2 279.6,258.3 280.5,257.1 281.3,257.0 282.2,257.8 283.0,258.1 283.9,258.4 284.7,257.8 285.6,258.1 286.4,258.2 287.3,259.1 288.2,258.9 289.0,259.3 289.9,259.9 290.7,258.6 291.6,258.7 292.4,259.7 293.3,259.7 294.1,259.5 295.0,259.4 295.9,259.8 296.7,259.9 297.6,260.2 298.4,259.1 299.3,259.4 300.1,258.8 301.0,259.8 301.8,259.5 302.7,259.3 303.6,259.5 304.4,260.0 305.3,261.4 306.1,261.8 307.0,261.9 307.8,261.5 308.7,262.3 309.5,262.2 310.4,263.0 311.2,262.9 312.1,262.9 313.0,262.3 313.8,262.2 314.7,262.2 315.5,263.1 316.4,263.8 317.2,264.0 318.1,264.5 318.9,264.0 319.8,264.7 320.7,264.4 321.5,263.9 322.4,263.2 323.2,263.1 324.1,264.3 324.9,263.0 325.8,261.5 326.6,261.5 327.5,261.4 328.4,260.1 329.2,260.5 330.1,259.9 330.9,259.8 331.8,258.5 332.6,259.0 333.5,259.6 334.3,258.6 335.2,257.6 336.1,257.5 336.9,257.6 337.8,256.7 338.6,256.9 339.5,255.7 340.3,256.9 341.2,255.9 342.0,255.9 342.9,255.7 343.7,256.3 344.6,256.9 345.5,255.7 346.3,255.4 347.2,256.6 348.0,256.1 348.9,256.7 349.7,256.7 350.6,255.7 351.4,257.3 352.3,257.7 353.2,257.5 354.0,257.3 354.9,257.5 355.7,256.7 356.6,257.1 357.4,256.9 358.3,256.8 359.1,256.3 360.0,256.0 360.9,256.2 361.7,256.8 362.6,256.5 363.4,256.9 364.3,256.0 365.1,256.3 366.0,256.6 366.8,256.4 367.7,256.1 368.5,256.1 369.4,257.2 370.3,257.2 371.1,256.5 372.0,256.7 372.8,257.4 373.7,257.1 374.5,257.9 375.4,257.4 376.2,257.3 377.1,257.4 378.0,257.6 378.8,257.5 379.7,256.8 380.5,257.3 381.4,257.5 382.2,257.3 383.1,257.2 383.9,257.1 384.8,256.7 385.7,257.3 386.5,257.6 387.4,256.8 388.2,256.6 389.1,257.2 389.9,256.6 390.8,256.4 391.6,257.2 392.5,256.1 393.4,256.5 394.2,255.6 395.1,256.3 395.9,256.6 396.8,255.9 397.6,256.6 398.5,256.2 399.3,256.4 400.2,255.1 401.0,255.7 401.9,255.7 402.8,256.1 403.6,256.5 404.5,255.5 405.3,255.6 406.2,256.5 407.0,256.5 407.9,256.8 408.7,256.2 409.6,256.8 410.5,257.1 411.3,256.5 412.2,257.0 413.0,256.6 413.9,256.9 414.7,257.4 415.6,257.4 416.4,256.8 417.3,257.4 418.2,256.6 419.0,258.0 419.9,257.1 420.7,256.9 421.6,256.3 422.4,256.6 423.3,257.0 424.1,256.6 425.0,257.4 425.9,258.0 426.7,257.2 427.6,257.0 428.4,257.5 429.3,257.2 430.1,257.5 431.0,257.5 431.8,257.3 432.7,256.9 433.5,257.8 434.4,257.4 435.3,258.1 436.1,257.5 437.0,257.3 437.8,258.0 438.7,257.2 439.5,257.4 440.4,257.9 441.2,257.6 442.1,258.1" fill="none" stroke="#1f77b4" stroke-width="1.05" stroke-linejoin="round" stroke-opacity="0.85" />
<polyline points="262.5,232.1 263.4,233.4 264.2,230.3 265.1,232.8 265.9,232.8 266.8,230.7 267.6,231.6 268.5,231.9 269.3,233.4 270.2,234.3 271.1,234.6 271.9,235.8 272.8,236.0 273.6,237.5 274.5,238.6 275.3,237.3 276.2,236.9 277.0,237.1 277.9,237.7 278.7,238.3 279.6,240.4 280.5,241.7 281.3,242.8 282.2,243.1 283.0,244.8 283.9,244.7 284.7,245.5 285.6,246.2 286.4,246.9 287.3,246.7 288.2,245.7 289.0,245.7 289.9,245.9 290.7,246.3 291.6,247.2 292.4,248.3 293.3,248.3 294.1,248.9 295.0,248.6 295.9,248.7 296.7,250.0 297.6,249.1 298.4,249.8 299.3,250.1 300.1,250.7 301.0,251.8 301.8,252.0 302.7,250.9 303.6,251.6 304.4,251.5 305.3,252.1 306.1,252.1 307.0,252.2 307.8,252.0 308.7,252.1 309.5,252.9 310.4,251.8 311.2,253.8 312.1,254.1 313.0,253.5 313.8,254.4 314.7,253.2 315.5,253.1 316.4,253.7 317.2,253.7 318.1,254.6 318.9,253.2 319.8,254.9 320.7,255.4 321.5,255.2 322.4,255.8 323.2,254.9 324.1,255.9 324.9,256.2 325.8,255.5 326.6,256.4 327.5,255.9 328.4,255.9 329.2,256.1 330.1,256.3 330.9,256.8 331.8,256.8 332.6,257.3 333.5,256.9 334.3,256.4 335.2,256.3 336.1,256.2 336.9,255.6 337.8,254.9 338.6,254.7 339.5,255.5 340.3,256.1 341.2,254.4 342.0,255.4 342.9,254.2 343.7,254.5 344.6,254.3 345.5,255.4 346.3,254.5 347.2,255.3 348.0,254.7 348.9,254.9 349.7,255.4 350.6,255.1 351.4,255.7 352.3,256.4 353.2,256.2 354.0,256.2 354.9,256.7 355.7,256.3 356.6,256.3 357.4,256.4 358.3,256.6 359.1,256.2 360.0,256.5 360.9,256.8 361.7,256.6 362.6,257.0 363.4,258.2 364.3,257.6 365.1,257.3 366.0,258.3 366.8,257.7 367.7,257.9 368.5,258.3 369.4,258.2 370.3,257.7 371.1,257.6 372.0,258.3 372.8,257.2 373.7,257.7 374.5,257.5 375.4,257.7 376.2,257.4 377.1,257.1 378.0,256.0 378.8,256.5 379.7,256.6 380.5,256.3 381.4,256.5 382.2,255.9 383.1,257.0 383.9,257.1 384.8,257.2 385.7,256.9 386.5,256.9 387.4,256.6 388.2,256.6 389.1,257.3 389.9,257.2 390.8,257.2 391.6,256.6 392.5,256.9 393.4,256.8 394.2,256.0 395.1,255.4 395.9,257.1 396.8,256.3 397.6,256.8 398.5,256.2 399.3,256.4 400.2,256.1 401.0,255.4 401.9,256.2 402.8,257.0 403.6,257.9 404.5,256.9 405.3,257.1 406.2,257.0 407.0,257.5 407.9,257.2 408.7,256.8 409.6,256.7 410.5,256.9 411.3,256.3 412.2,256.1 413.0,256.8 413.9,256.7 414.7,257.3 415.6,256.6 416.4,257.2 417.3,256.1 418.2,256.4 419.0,256.6 419.9,256.7 420.7,257.0 421.6,256.6 422.4,257.2 423.3,257.3 424.1,256.6 425.0,256.2 425.9,256.8 426.7,257.0 427.6,257.3 428.4,256.8 429.3,256.6 430.1,256.9 431.0,256.8 431.8,256.4 432.7,256.3 433.5,256.4 434.4,255.8 435.3,255.6 436.1,256.9 437.0,256.3 437.8,256.1 438.7,256.1 439.5,255.9 440.4,255.7 441.2,256.3 442.1,256.8" fill="none" stroke="#ff7f0e" stroke-width="1.05" stroke-linejoin="round" stroke-opacity="0.85" />
<polyline points="262.5,258.6 263.4,258.2 264.2,258.1 265.1,254.4 265.9,251.9 266.8,252.3 267.6,249.5 268.5,252.5 269.3,252.5 270.2,251.3 271.1,252.4 271.9,252.7 272.8,252.7 273.6,250.8 274.5,250.3 275.3,251.2 276.2,250.2 277.0,250.0 277.9,251.6 278.7,251.6 279.6,250.5 280.5,251.4 281.3,252.4 282.2,251.5 283.0,249.9 283.9,249.6 284.7,250.7 285.6,251.8 286.4,252.4 287.3,252.8 288.2,250.9 289.0,251.8 289.9,253.2 290.7,252.4 291.6,252.1 292.4,253.7 293.3,252.8 294.1,253.4 295.0,253.5 295.9,254.3 296.7,253.4 297.6,253.7 298.4,253.1 299.3,252.6 300.1,253.1 301.0,253.1 301.8,253.2 302.7,253.1 303.6,253.8 304.4,252.7 305.3,253.9 306.1,253.7 307.0,254.5 307.8,254.4 308.7,254.7 309.5,254.1 310.4,254.1 311.2,254.3 312.1,254.7 313.0,255.5 313.8,255.7 314.7,256.1 315.5,256.4 316.4,255.8 317.2,256.1 318.1,256.1 318.9,256.6 319.8,255.6 320.7,255.5 321.5,255.9 322.4,256.0 323.2,254.9 324.1,255.6 324.9,255.7 325.8,255.2 326.6,255.2 327.5,255.4 328.4,255.8 329.2,255.7 330.1,255.6 330.9,255.9 331.8,255.6 332.6,254.9 333.5,255.3 334.3,254.0 335.2,253.7 336.1,255.3 336.9,255.1 337.8,255.1 338.6,255.7 339.5,254.5 340.3,255.6 341.2,255.4 342.0,255.3 342.9,254.4 343.7,255.6 344.6,254.7 345.5,255.5 346.3,256.1 347.2,255.2 348.0,255.7 348.9,256.6 349.7,255.7 350.6,255.9 351.4,256.5 352.3,256.3 353.2,256.6 354.0,256.3 354.9,255.9 355.7,255.9 356.6,256.9 357.4,257.2 358.3,256.4 359.1,256.4 360.0,256.8 360.9,256.1 361.7,255.9 362.6,254.9 363.4,255.2 364.3,255.4 365.1,255.7 366.0,255.1 366.8,255.3 367.7,255.3 368.5,256.0 369.4,256.1 370.3,256.1 371.1,255.6 372.0,256.1 372.8,256.3 373.7,256.4 374.5,256.6 375.4,256.6 376.2,256.9 377.1,256.4 378.0,256.3 378.8,257.1 379.7,256.4 380.5,256.3 381.4,257.2 382.2,257.5 383.1,256.9 383.9,258.0 384.8,259.3 385.7,258.8 386.5,258.3 387.4,259.0 388.2,258.5 389.1,259.0 389.9,259.1 390.8,258.7 391.6,259.8 392.5,259.5 393.4,259.1 394.2,259.6 395.1,260.0 395.9,259.7 396.8,259.5 397.6,259.5 398.5,258.7 399.3,259.4 400.2,259.0 401.0,259.4 401.9,259.3 402.8,259.7 403.6,259.6 404.5,259.6 405.3,260.0 406.2,260.8 407.0,259.5 407.9,259.6 408.7,259.9 409.6,260.4 410.5,260.7 411.3,260.6 412.2,260.5 413.0,260.0 413.9,260.5 414.7,260.3 415.6,259.7 416.4,260.6 417.3,259.9 418.2,259.9 419.0,260.9 419.9,260.6 420.7,260.6 421.6,261.0 422.4,260.8 423.3,261.0 424.1,261.0 425.0,261.3 425.9,261.1 426.7,261.4 427.6,260.7 428.4,261.5 429.3,260.7 430.1,259.9 431.0,260.8 431.8,260.4 432.7,260.0 433.5,260.6 434.4,260.5 435.3,260.3 436.1,260.2 437.0,260.4 437.8,259.8 438.7,259.2 439.5,260.0 440.4,260.5 441.2,259.5 442.1,260.2" fill="none" stroke="#2ca02c" stroke-width="1.05" stroke-linejoin="round" stroke-opacity="0.85" />
<polyline points="262.5,268.0 263.4,271.0 264.2,271.6 265.1,270.6 265.9,271.2 266.8,271.9 267.6,269.3 268.5,266.6 269.3,268.1 270.2,268.9 271.1,268.1 271.9,268.7 272.8,269.9 273.6,264.9 274.5,263.3 275.3,260.6 276.2,257.8 277.0,259.8 277.9,259.1 278.7,257.8 279.6,257.8 280.5,258.8 281.3,259.7 282.2,259.7 283.0,261.6 283.9,261.6 284.7,261.0 285.6,261.6 286.4,260.4 287.3,261.4 288.2,261.7 289.0,262.0 289.9,263.0 290.7,264.1 291.6,264.5 292.4,265.4 293.3,266.6 294.1,268.2 295.0,269.7 295.9,270.4 296.7,271.2 297.6,271.1 298.4,271.4 299.3,271.6 300.1,271.7 301.0,271.4 301.8,271.3 302.7,271.7 303.6,271.3 304.4,270.9 305.3,270.4 306.1,270.3 307.0,268.9 307.8,269.1 308.7,269.4 309.5,268.5 310.4,267.3 311.2,266.0 312.1,264.5 313.0,265.6 313.8,264.8 314.7,263.4 315.5,264.1 316.4,263.6 317.2,262.0 318.1,262.5 318.9,261.7 319.8,261.6 320.7,262.1 321.5,261.5 322.4,261.2 323.2,260.7 324.1,261.0 324.9,260.1 325.8,258.9 326.6,258.8 327.5,259.1 328.4,258.8 329.2,258.6 330.1,258.4 330.9,258.4 331.8,257.7 332.6,257.8 333.5,257.9 334.3,257.3 335.2,257.1 336.1,257.1 336.9,257.9 337.8,257.5 338.6,258.3 339.5,258.8 340.3,258.6 341.2,258.9 342.0,257.1 342.9,257.8 343.7,256.7 344.6,256.5 345.5,256.0 346.3,256.4 347.2,256.3 348.0,256.0 348.9,256.4 349.7,256.6 350.6,257.1 351.4,256.0 352.3,255.9 353.2,255.7 354.0,255.8 354.9,255.8 355.7,255.4 356.6,256.1 357.4,255.9 358.3,256.2 359.1,255.8 360.0,256.6 360.9,255.0 361.7,255.8 362.6,255.6 363.4,255.7 364.3,255.7 365.1,255.8 366.0,255.5 366.8,255.6 367.7,255.8 368.5,256.1 369.4,256.1 370.3,256.5 371.1,255.7 372.0,256.5 372.8,255.1 373.7,255.8 374.5,255.4 375.4,255.0 376.2,255.1 377.1,254.9 378.0,255.1 378.8,254.9 379.7,255.1 380.5,255.1 381.4,254.9 382.2,255.8 383.1,255.6 383.9,255.6 384.8,256.0 385.7,255.5 386.5,255.6 387.4,255.9 388.2,255.4 389.1,255.2 389.9,254.7 390.8,254.2 391.6,255.2 392.5,255.0 393.4,255.4 394.2,254.4 395.1,254.7 395.9,255.3 396.8,255.3 397.6,255.3 398.5,255.4 399.3,255.3 400.2,254.2 401.0,254.5 401.9,254.9 402.8,255.2 403.6,254.6 404.5,255.1 405.3,255.5 406.2,254.9 407.0,255.1 407.9,254.2 408.7,254.2 409.6,253.7 410.5,253.7 411.3,253.9 412.2,253.7 413.0,254.1 413.9,253.9 414.7,253.5 415.6,253.1 416.4,253.4 417.3,253.0 418.2,253.0 419.0,253.1 419.9,253.2 420.7,252.9 421.6,253.7 422.4,253.2 423.3,252.5 424.1,253.8 425.0,252.8 425.9,253.1 426.7,253.6 427.6,254.1 428.4,254.1 429.3,253.3 430.1,253.6 431.0,252.6 431.8,252.9 432.7,253.0 433.5,253.5 434.4,252.7 435.3,253.8 436.1,253.6 437.0,253.7 437.8,253.1 438.7,253.4 439.5,253.7 440.4,253.2 441.2,253.0 442.1,252.8" fill="none" stroke="#d62728" stroke-width="1.05" stroke-linejoin="round" stroke-opacity="0.85" />
<polyline points="262.5,232.2 263.4,231.5 264.2,232.7 265.1,232.8 265.9,231.4 266.8,233.7 267.6,234.8 268.5,234.6 269.3,234.2 270.2,236.4 271.1,235.1 271.9,235.9 272.8,238.0 273.6,239.1 274.5,239.2 275.3,239.5 276.2,239.0 277.0,238.9 277.9,240.0 278.7,241.3 279.6,240.5 280.5,241.4 281.3,243.7 282.2,244.6 283.0,246.0 283.9,246.4 284.7,245.9 285.6,246.4 286.4,246.4 287.3,246.3 288.2,246.8 289.0,247.5 289.9,246.9 290.7,246.0 291.6,246.2 292.4,247.6 293.3,248.7 294.1,246.0 295.0,246.9 295.9,247.0 296.7,247.6 297.6,247.7 298.4,249.7 299.3,249.8 300.1,249.2 301.0,250.7 301.8,249.7 302.7,251.1 303.6,251.7 304.4,252.8 305.3,253.0 306.1,252.6 307.0,252.4 307.8,252.5 308.7,252.1 309.5,251.4 310.4,251.7 311.2,251.1 312.1,250.8 313.0,251.3 313.8,251.0 314.7,251.9 315.5,253.0 316.4,252.2 317.2,252.1 318.1,251.9 318.9,251.0 319.8,250.7 320.7,250.5 321.5,250.4 322.4,250.6 323.2,250.6 324.1,250.8 324.9,250.8 325.8,251.3 326.6,251.7 327.5,250.9 328.4,251.6 329.2,251.0 330.1,251.8 330.9,252.2 331.8,251.9 332.6,251.1 333.5,251.7 334.3,251.5 335.2,251.6 336.1,251.3 336.9,252.0 337.8,252.0 338.6,251.4 339.5,250.7 340.3,249.9 341.2,250.0 342.0,249.1 342.9,249.0 343.7,249.1 344.6,248.1 345.5,249.3 346.3,248.8 347.2,248.4 348.0,247.6 348.9,247.0 349.7,247.1 350.6,246.1 351.4,245.6 352.3,245.5 353.2,246.1 354.0,245.1 354.9,245.2 355.7,245.0 356.6,244.8 357.4,243.9 358.3,243.9 359.1,243.4 360.0,242.9 360.9,244.2 361.7,243.7 362.6,244.1 363.4,243.3 364.3,243.9 365.1,244.1 366.0,244.4 366.8,244.0 367.7,243.3 368.5,242.7 369.4,243.8 370.3,242.3 371.1,243.2 372.0,241.9 372.8,242.6 373.7,243.3 374.5,242.8 375.4,242.4 376.2,242.6 377.1,242.5 378.0,241.9 378.8,241.9 379.7,242.3 380.5,242.1 381.4,242.2 382.2,241.0 383.1,241.6 383.9,241.8 384.8,242.3 385.7,240.9 386.5,241.2 387.4,241.3 388.2,241.9 389.1,241.8 389.9,242.2 390.8,241.4 391.6,242.0 392.5,242.4 393.4,243.7 394.2,242.8 395.1,243.1 395.9,243.5 396.8,243.1 397.6,243.3 398.5,244.5 399.3,244.3 400.2,244.4 401.0,244.3 401.9,244.5 402.8,244.8 403.6,244.4 404.5,244.6 405.3,244.4 406.2,245.5 407.0,245.6 407.9,245.6 408.7,245.9 409.6,246.5 410.5,246.2 411.3,246.6 412.2,245.3 413.0,245.9 413.9,246.0 414.7,245.1 415.6,245.4 416.4,245.6 417.3,244.9 418.2,245.2 419.0,245.2 419.9,245.7 420.7,246.4 421.6,246.1 422.4,246.3 423.3,245.7 424.1,246.6 425.0,245.9 425.9,247.2 426.7,247.7 427.6,247.2 428.4,248.0 429.3,248.0 430.1,248.5 431.0,248.4 431.8,250.0 432.7,249.8 433.5,250.4 434.4,250.7 435.3,250.0 436.1,250.5 437.0,250.1 437.8,249.7 438.7,250.4 439.5,249.7 440.4,249.8 441.2,249.8 442.1,250.4" fill="none" stroke="#9467bd" stroke-width="1.05" stroke-linejoin="round" stroke-opacity="0.85" />
<polyline points="262.5,252.6 263.4,251.6 264.2,250.3 265.1,247.5 265.9,248.3 266.8,244.1 267.6,240.6 268.5,241.7 269.3,239.1 270.2,238.6 271.1,238.8 271.9,240.8 272.8,242.4 273.6,240.7 274.5,240.1 275.3,237.4 276.2,237.4 277.0,236.1 277.9,237.1 278.7,236.8 279.6,236.6 280.5,236.9 281.3,236.8 282.2,236.5 283.0,237.5 283.9,237.6 284.7,238.3 285.6,240.3 286.4,241.2 287.3,241.1 288.2,240.6 289.0,240.6 289.9,239.4 290.7,238.8 291.6,239.9 292.4,240.8 293.3,241.1 294.1,240.9 295.0,240.6 295.9,241.6 296.7,242.0 297.6,242.8 298.4,243.2 299.3,244.1 300.1,244.3 301.0,244.5 301.8,243.1 302.7,243.2 303.6,242.9 304.4,242.0 305.3,242.0 306.1,240.8 307.0,241.3 307.8,242.2 308.7,242.1 309.5,242.3 310.4,241.9 311.2,242.6 312.1,242.1 313.0,242.4 313.8,241.7 314.7,240.9 315.5,240.6 316.4,241.7 317.2,241.7 318.1,242.0 318.9,241.4 319.8,242.0 320.7,242.9 321.5,243.3 322.4,242.5 323.2,243.0 324.1,244.5 324.9,243.4 325.8,243.0 326.6,244.1 327.5,244.2 328.4,245.2 329.2,245.6 330.1,245.5 330.9,245.0 331.8,245.2 332.6,246.0 333.5,244.8 334.3,244.7 335.2,244.7 336.1,245.2 336.9,244.6 337.8,244.3 338.6,244.3 339.5,243.2 340.3,243.4 341.2,243.6 342.0,243.4 342.9,242.0 343.7,243.1 344.6,242.3 345.5,242.7 346.3,243.1 347.2,242.7 348.0,243.4 348.9,242.2 349.7,242.3 350.6,242.3 351.4,242.5 352.3,241.9 353.2,242.2 354.0,241.9 354.9,242.2 355.7,241.9 356.6,242.5 357.4,243.1 358.3,242.4 359.1,242.2 360.0,242.4 360.9,243.0 361.7,242.1 362.6,242.3 363.4,242.8 364.3,244.2 365.1,242.7 366.0,242.8 366.8,242.8 367.7,244.0 368.5,243.9 369.4,242.9 370.3,243.2 371.1,242.8 372.0,242.8 372.8,243.6 373.7,242.4 374.5,241.9 375.4,243.3 376.2,243.1 377.1,242.3 378.0,242.5 378.8,243.4 379.7,243.0 380.5,243.5 381.4,243.5 382.2,243.8 383.1,244.7 383.9,244.8 384.8,245.0 385.7,245.2 386.5,244.9 387.4,245.8 388.2,245.9 389.1,246.2 389.9,245.7 390.8,246.1 391.6,245.8 392.5,245.7 393.4,245.8 394.2,245.6 395.1,246.3 395.9,246.2 396.8,246.6 397.6,245.9 398.5,246.6 399.3,246.1 400.2,247.0 401.0,246.3 401.9,247.5 402.8,246.4 403.6,246.8 404.5,246.8 405.3,247.1 406.2,246.9 407.0,247.5 407.9,247.1 408.7,247.1 409.6,247.6 410.5,247.5 411.3,247.2 412.2,247.7 413.0,247.7 413.9,247.5 414.7,247.0 415.6,248.5 416.4,247.7 417.3,248.1 418.2,248.3 419.0,248.5 419.9,247.7 420.7,248.9 421.6,248.0 422.4,248.2 423.3,248.9 424.1,248.3 425.0,248.6 425.9,248.6 426.7,248.0 427.6,249.3 428.4,249.1 429.3,248.4 430.1,249.3 431.0,249.0 431.8,249.0 432.7,248.7 433.5,249.4 434.4,248.6 435.3,249.4 436.1,249.3 437.0,249.0 437.8,248.7 438.7,248.3 439.5,249.1 440.4,249.1 441.2,248.7 442.1,249.2" fill="none" stroke="#8c564b" stroke-width="1.05" stroke-linejoin="round" stroke-opacity="0.85" />
<polyline points="262.5,225.1 263.4,221.5 264.2,225.2 265.1,226.4 265.9,227.0 266.8,231.7 267.6,233.1 268.5,233.5 269.3,233.9 270.2,233.1 271.1,231.4 271.9,230.8 272.8,233.3 273.6,234.2 274.5,233.7 275.3,234.0 276.2,234.7 277.0,237.6 277.9,237.9 278.7,238.8 279.6,239.8 280.5,240.4 281.3,240.7 282.2,240.6 283.0,240.9 283.9,241.9 284.7,241.9 285.6,241.8 286.4,243.7 287.3,244.5 288.2,243.0 289.0,243.0 289.9,244.0 290.7,245.2 291.6,247.5 292.4,248.5 293.3,248.2 294.1,248.5 295.0,249.1 295.9,249.4 296.7,249.3 297.6,250.2 298.4,250.8 299.3,250.8 300.1,250.1 301.0,250.4 301.8,249.3 302.7,249.1 303.6,249.2 304.4,249.6 305.3,249.6 306.1,249.7 307.0,250.3 307.8,249.9 308.7,249.6 309.5,249.5 310.4,250.1 311.2,250.6 312.1,250.6 313.0,251.1 313.8,252.7 314.7,252.0 315.5,252.0 316.4,252.4 317.2,251.3 318.1,252.0 318.9,251.1 319.8,251.6 320.7,252.2 321.5,251.4 322.4,253.2 323.2,253.2 324.1,252.0 324.9,252.2 325.8,252.2 326.6,252.4 327.5,252.4 328.4,252.9 329.2,252.3 330.1,253.4 330.9,252.6 331.8,252.6 332.6,252.1 333.5,253.6 334.3,253.3 335.2,252.7 336.1,253.0 336.9,253.4 337.8,253.3 338.6,253.0 339.5,254.1 340.3,253.5 341.2,253.8 342.0,253.6 342.9,254.1 343.7,253.0 344.6,252.8 345.5,253.1 346.3,252.8 347.2,253.5 348.0,253.6 348.9,253.0 349.7,253.3 350.6,253.1 351.4,252.9 352.3,253.0 353.2,253.0 354.0,252.6 354.9,251.7 355.7,252.7 356.6,252.6 357.4,252.6 358.3,253.2 359.1,253.3 360.0,253.8 360.9,253.8 361.7,254.5 362.6,253.9 363.4,254.1 364.3,253.5 365.1,252.7 366.0,253.8 366.8,253.8 367.7,253.8 368.5,254.6 369.4,253.1 370.3,253.2 371.1,254.5 372.0,253.8 372.8,253.3 373.7,254.4 374.5,253.9 375.4,253.4 376.2,253.2 377.1,253.3 378.0,254.3 378.8,254.0 379.7,254.2 380.5,253.6 381.4,253.8 382.2,254.0 383.1,254.7 383.9,253.6 384.8,254.2 385.7,252.9 386.5,253.8 387.4,254.4 388.2,254.4 389.1,254.2 389.9,254.5 390.8,255.4 391.6,253.9 392.5,254.5 393.4,254.6 394.2,254.7 395.1,254.7 395.9,254.6 396.8,254.6 397.6,255.2 398.5,255.5 399.3,255.2 400.2,254.9 401.0,254.5 401.9,254.5 402.8,254.4 403.6,254.9 404.5,254.0 405.3,253.8 406.2,253.9 407.0,253.7 407.9,254.3 408.7,254.8 409.6,254.8 410.5,254.8 411.3,253.9 412.2,254.7 413.0,254.5 413.9,254.3 414.7,254.4 415.6,254.0 416.4,255.2 417.3,254.7 418.2,254.8 419.0,255.5 419.9,255.0 420.7,255.0 421.6,255.0 422.4,255.6 423.3,255.7 424.1,255.4 425.0,255.5 425.9,255.3 426.7,255.7 427.6,255.3 428.4,255.1 429.3,255.1 430.1,255.6 431.0,254.9 431.8,255.8 432.7,254.9 433.5,254.5 434.4,255.1 435.3,255.1 436.1,255.7 437.0,254.7 437.8,255.1 438.7,255.2 439.5,255.6 440.4,256.1 441.2,255.1 442.1,255.6" fill="none" stroke="#e377c2" stroke-width="1.05" stroke-linejoin="round" stroke-opacity="0.85" />
<polyline points="262.5,233.7 263.4,235.0 264.2,235.7 265.1,237.6 265.9,237.5 266.8,238.8 267.6,239.1 268.5,240.7 269.3,242.0 270.2,241.8 271.1,241.0 271.9,241.9 272.8,242.5 273.6,244.6 274.5,245.1 275.3,242.8 276.2,243.0 277.0,242.6 277.9,245.5 278.7,245.0 279.6,244.3 280.5,244.2 281.3,246.5 282.2,246.9 283.0,247.6 283.9,248.6 284.7,247.0 285.6,247.5 286.4,248.0 287.3,248.2 288.2,248.0 289.0,248.0 289.9,249.0 290.7,250.0 291.6,249.9 292.4,249.1 293.3,250.2 294.1,250.6 295.0,252.2 295.9,251.7 296.7,252.1 297.6,252.2 298.4,252.4 299.3,252.5 300.1,252.0 301.0,250.7 301.8,250.7 302.7,251.0 303.6,252.0 304.4,252.6 305.3,252.9 306.1,253.8 307.0,255.0 307.8,255.6 308.7,256.1 309.5,256.2 310.4,257.4 311.2,256.9 312.1,257.3 313.0,257.1 313.8,257.4 314.7,256.7 315.5,258.0 316.4,257.8 317.2,257.2 318.1,258.1 318.9,257.9 319.8,258.6 320.7,259.1 321.5,259.7 322.4,260.6 323.2,260.1 324.1,259.1 324.9,259.7 325.8,260.0 326.6,259.6 327.5,259.2 328.4,259.1 329.2,259.8 330.1,259.1 330.9,259.2 331.8,259.3 332.6,258.8 333.5,258.8 334.3,259.3 335.2,258.5 336.1,257.4 336.9,257.6 337.8,257.3 338.6,256.9 339.5,256.9 340.3,257.9 341.2,257.6 342.0,256.5 342.9,256.2 343.7,255.9 344.6,256.2 345.5,256.2 346.3,255.8 347.2,255.7 348.0,256.3 348.9,256.0 349.7,255.4 350.6,255.4 351.4,255.0 352.3,255.1 353.2,255.0 354.0,255.2 354.9,254.9 355.7,254.7 356.6,254.5 357.4,255.4 358.3,254.2 359.1,254.9 360.0,254.7 360.9,254.0 361.7,255.1 362.6,254.6 363.4,255.0 364.3,254.0 365.1,253.3 366.0,253.2 366.8,253.5 367.7,252.7 368.5,252.2 369.4,251.7 370.3,252.9 371.1,253.0 372.0,252.7 372.8,253.1 373.7,252.4 374.5,253.0 375.4,253.7 376.2,254.1 377.1,254.0 378.0,254.6 378.8,253.2 379.7,253.8 380.5,253.9 381.4,253.8 382.2,253.2 383.1,253.4 383.9,254.1 384.8,253.6 385.7,254.1 386.5,254.1 387.4,254.5 388.2,254.3 389.1,254.7 389.9,254.0 390.8,253.4 391.6,253.3 392.5,254.0 393.4,254.5 394.2,254.3 395.1,254.4 395.9,254.1 396.8,253.7 397.6,254.0 398.5,254.8 399.3,255.2 400.2,254.1 401.0,254.0 401.9,254.0 402.8,254.5 403.6,254.2 404.5,254.4 405.3,254.8 406.2,253.6 407.0,253.6 407.9,253.3 408.7,253.1 409.6,253.7 410.5,253.4 411.3,253.6 412.2,254.1 413.0,254.6 413.9,254.6 414.7,254.2 415.6,254.0 416.4,254.1 417.3,254.2 418.2,253.4 419.0,253.1 419.9,254.3 420.7,253.3 421.6,254.4 422.4,253.9 423.3,252.8 424.1,253.3 425.0,253.2 425.9,253.4 426.7,253.1 427.6,252.8 428.4,252.6 429.3,252.3 430.1,252.7 431.0,252.7 431.8,252.6 432.7,252.5 433.5,252.6 434.4,252.6 435.3,252.5 436.1,252.3 437.0,252.6 437.8,252.6 438.7,252.0 439.5,252.6 440.4,252.6 441.2,252.4 442.1,253.2" fill="none" stroke="#7f7f7f" stroke-width="1.05" stroke-linejoin="round" stroke-opacity="0.85" />
<polyline points="262.5,230.0 263.4,231.0 264.2,233.3 265.1,232.2 265.9,232.4 266.8,230.4 267.6,230.8 268.5,231.2 269.3,229.3 270.2,231.0 271.1,233.0 271.9,232.1 272.8,232.7 273.6,233.4 274.5,233.9 275.3,233.5 276.2,232.4 277.0,233.7 277.9,232.2 278.7,232.5 279.6,234.3 280.5,235.6 281.3,236.5 282.2,238.8 283.0,237.5 283.9,240.0 284.7,243.5 285.6,242.9 286.4,242.8 287.3,243.5 288.2,243.3 289.0,243.7 289.9,243.1 290.7,244.5 291.6,243.6 292.4,245.2 293.3,246.7 294.1,247.3 295.0,246.4 295.9,247.1 296.7,246.7 297.6,248.1 298.4,248.4 299.3,249.6 300.1,249.1 301.0,248.7 301.8,248.5 302.7,247.9 303.6,250.2 304.4,249.2 305.3,250.1 306.1,249.7 307.0,250.6 307.8,250.5 308.7,251.5 309.5,251.4 310.4,251.9 311.2,252.1 312.1,251.9 313.0,251.8 313.8,251.8 314.7,251.5 315.5,251.0 316.4,250.4 317.2,251.2 318.1,250.0 318.9,249.6 319.8,249.6 320.7,249.3 321.5,250.4 322.4,250.0 323.2,249.8 324.1,250.1 324.9,250.4 325.8,249.9 326.6,250.7 327.5,251.0 328.4,250.7 329.2,251.2 330.1,251.4 330.9,251.1 331.8,251.7 332.6,251.5 333.5,250.7 334.3,250.0 335.2,250.7 336.1,251.0 336.9,250.7 337.8,251.5 338.6,251.2 339.5,250.9 340.3,251.2 341.2,251.2 342.0,250.9 342.9,251.2 343.7,251.0 344.6,252.2 345.5,252.5 346.3,252.2 347.2,252.3 348.0,251.7 348.9,251.3 349.7,252.0 350.6,251.6 351.4,251.4 352.3,251.3 353.2,251.9 354.0,253.0 354.9,253.0 355.7,253.0 356.6,252.7 357.4,252.6 358.3,252.7 359.1,251.9 360.0,252.7 360.9,252.3 361.7,252.5 362.6,252.1 363.4,252.2 364.3,251.9 365.1,252.3 366.0,252.5 366.8,253.0 367.7,253.6 368.5,253.0 369.4,253.0 370.3,253.0 371.1,252.8 372.0,253.0 372.8,252.2 373.7,252.2 374.5,252.5 375.4,252.7 376.2,252.6 377.1,252.4 378.0,252.6 378.8,252.2 379.7,252.8 380.5,252.3 381.4,251.6 382.2,252.5 383.1,252.6 383.9,252.8 384.8,252.9 385.7,252.8 386.5,252.5 387.4,252.4 388.2,252.8 389.1,251.8 389.9,253.3 390.8,253.6 391.6,252.6 392.5,253.4 393.4,253.5 394.2,253.0 395.1,253.9 395.9,252.6 396.8,254.0 397.6,253.1 398.5,252.9 399.3,252.4 400.2,253.0 401.0,252.2 401.9,252.8 402.8,252.8 403.6,252.8 404.5,253.5 405.3,252.4 406.2,252.7 407.0,252.9 407.9,253.4 408.7,253.7 409.6,252.8 410.5,253.8 411.3,253.5 412.2,253.9 413.0,253.3 413.9,253.4 414.7,253.9 415.6,253.0 416.4,253.0 417.3,253.0 418.2,253.7 419.0,252.8 419.9,253.6 420.7,253.2 421.6,253.5 422.4,253.7 423.3,253.9 424.1,253.2 425.0,253.6 425.9,253.8 426.7,253.2 427.6,253.4 428.4,252.9 429.3,253.3 430.1,253.4 431.0,253.3 431.8,253.5 432.7,253.3 433.5,253.8 434.4,253.6 435.3,253.0 436.1,253.8 437.0,253.3 437.8,253.1 438.7,252.6 439.5,253.5 440.4,253.2 441.2,253.7 442.1,253.4" fill="none" stroke="#bcbd22" stroke-width="1.05" stroke-linejoin="round" stroke-opacity="0.85" />
<polyline points="262.5,286.4 263.4,285.4 264.2,291.1 265.1,290.0 265.9,288.8 266.8,286.8 267.6,282.0 268.5,277.9 269.3,277.6 270.2,276.5 271.1,277.4 271.9,277.6 272.8,276.3 273.6,273.2 274.5,274.1 275.3,272.9 276.2,272.0 277.0,268.9 277.9,268.3 278.7,264.3 279.6,262.0 280.5,261.2 281.3,259.9 282.2,260.1 283.0,259.1 283.9,257.4 284.7,256.0 285.6,254.9 286.4,254.0 287.3,254.4 288.2,251.2 289.0,251.3 289.9,250.2 290.7,248.0 291.6,248.3 292.4,249.5 293.3,249.1 294.1,250.6 295.0,250.4 295.9,252.4 296.7,252.4 297.6,253.2 298.4,252.8 299.3,252.4 300.1,253.0 301.0,252.4 301.8,252.7 302.7,254.4 303.6,254.0 304.4,253.7 305.3,253.7 306.1,253.3 307.0,253.2 307.8,254.2 308.7,253.5 309.5,253.8 310.4,254.3 311.2,255.6 312.1,255.7 313.0,255.5 313.8,256.1 314.7,255.9 315.5,256.8 316.4,256.5 317.2,257.3 318.1,256.2 318.9,256.2 319.8,256.1 320.7,255.1 321.5,255.7 322.4,255.8 323.2,256.4 324.1,256.6 324.9,256.6 325.8,256.5 326.6,255.1 327.5,255.6 328.4,256.3 329.2,256.7 330.1,255.7 330.9,256.9 331.8,256.3 332.6,257.0 333.5,256.6 334.3,255.5 335.2,256.7 336.1,256.8 336.9,256.8 337.8,255.7 338.6,257.0 339.5,256.1 340.3,256.5 341.2,256.5 342.0,256.0 342.9,255.8 343.7,256.7 344.6,256.1 345.5,257.0 346.3,256.6 347.2,256.9 348.0,257.5 348.9,256.8 349.7,256.6 350.6,256.7 351.4,256.8 352.3,257.3 353.2,256.0 354.0,256.0 354.9,256.6 355.7,255.7 356.6,256.7 357.4,256.5 358.3,256.3 359.1,255.4 360.0,255.3 360.9,256.5 361.7,255.4 362.6,256.2 363.4,256.5 364.3,256.7 365.1,257.2 366.0,256.7 366.8,256.1 367.7,256.0 368.5,256.6 369.4,256.2 370.3,256.7 371.1,256.6 372.0,256.4 372.8,256.1 373.7,256.2 374.5,255.6 375.4,256.2 376.2,255.9 377.1,257.0 378.0,256.0 378.8,256.1 379.7,256.4 380.5,255.7 381.4,256.1 382.2,256.4 383.1,256.5 383.9,256.5 384.8,257.1 385.7,256.3 386.5,256.5 387.4,257.0 388.2,256.7 389.1,256.6 389.9,257.1 390.8,257.0 391.6,257.7 392.5,257.6 393.4,257.6 394.2,257.6 395.1,257.5 395.9,257.6 396.8,257.6 397.6,257.7 398.5,256.7 399.3,257.4 400.2,256.7 401.0,257.1 401.9,257.4 402.8,257.7 403.6,257.3 404.5,257.6 405.3,256.5 406.2,257.3 407.0,256.9 407.9,257.3 408.7,256.9 409.6,256.8 410.5,256.9 411.3,257.1 412.2,256.7 413.0,256.6 413.9,256.7 414.7,256.6 415.6,256.9 416.4,256.7 417.3,257.0 418.2,257.8 419.0,257.8 419.9,258.0 420.7,258.5 421.6,258.4 422.4,257.2 423.3,257.6 424.1,257.0 425.0,257.5 425.9,257.2 426.7,257.3 427.6,257.0 428.4,257.7 429.3,257.5 430.1,257.4 431.0,257.8 431.8,256.9 432.7,256.9 433.5,256.7 434.4,256.9 435.3,256.4 436.1,256.5 437.0,257.1 437.8,256.9 438.7,256.1 439.5,256.6 440.4,256.8 441.2,256.4 442.1,257.4" fill="none" stroke="#17becf" stroke-width="1.05" stroke-linejoin="round" stroke-opacity="0.85" />
</g>
<polyline points="262.5,252.1 442.1,252.1" fill="none" stroke="#f00" stroke-width="1.8" stroke-linejoin="round" stroke-dasharray="5.8,2.7"/>
<rect x="262.5" y="201.4" width="179.60000000000002" height="115.99999999999997" fill="none" stroke="#555" stroke-width="0.9"/>
<line x1="262.50" y1="317.4" x2="262.50" y2="319.4" stroke="#555" stroke-width="0.8"/>
<text transform="translate(262.50,327.50) scale(1.14,1)" font-size="8.3" text-anchor="middle" fill="#222" >2000</text>
<line x1="288.16" y1="317.4" x2="288.16" y2="319.4" stroke="#555" stroke-width="0.8"/>
<text transform="translate(288.16,327.50) scale(1.14,1)" font-size="8.3" text-anchor="middle" fill="#222" >5000</text>
<line x1="313.81" y1="317.4" x2="313.81" y2="319.4" stroke="#555" stroke-width="0.8"/>
<text transform="translate(313.81,327.50) scale(1.14,1)" font-size="8.3" text-anchor="middle" fill="#222" >8000</text>
<line x1="339.47" y1="317.4" x2="339.47" y2="319.4" stroke="#555" stroke-width="0.8"/>
<text transform="translate(339.47,327.50) scale(1.14,1)" font-size="8.3" text-anchor="middle" fill="#222" >11000</text>
<line x1="365.13" y1="317.4" x2="365.13" y2="319.4" stroke="#555" stroke-width="0.8"/>
<text transform="translate(365.13,327.50) scale(1.14,1)" font-size="8.3" text-anchor="middle" fill="#222" >14000</text>
<line x1="390.79" y1="317.4" x2="390.79" y2="319.4" stroke="#555" stroke-width="0.8"/>
<text transform="translate(390.79,327.50) scale(1.14,1)" font-size="8.3" text-anchor="middle" fill="#222" >17000</text>
<line x1="416.44" y1="317.4" x2="416.44" y2="319.4" stroke="#555" stroke-width="0.8"/>
<text transform="translate(416.44,327.50) scale(1.14,1)" font-size="8.3" text-anchor="middle" fill="#222" >20000</text>
<line x1="442.10" y1="317.4" x2="442.10" y2="319.4" stroke="#555" stroke-width="0.8"/>
<text transform="translate(442.10,327.50) scale(1.14,1)" font-size="8.3" text-anchor="middle" fill="#222" >23000</text>
<line x1="260.5" y1="317.40" x2="262.5" y2="317.40" stroke="#555" stroke-width="0.8"/>
<text transform="translate(258.50,320.40) scale(1.13,1)" font-size="8.4" text-anchor="end" fill="#222" >−0.2</text>
<line x1="260.5" y1="294.20" x2="262.5" y2="294.20" stroke="#555" stroke-width="0.8"/>
<text transform="translate(258.50,297.20) scale(1.13,1)" font-size="8.4" text-anchor="end" fill="#222" >0.0</text>
<line x1="260.5" y1="271.00" x2="262.5" y2="271.00" stroke="#555" stroke-width="0.8"/>
<text transform="translate(258.50,274.00) scale(1.13,1)" font-size="8.4" text-anchor="end" fill="#222" >0.2</text>
<line x1="260.5" y1="247.80" x2="262.5" y2="247.80" stroke="#555" stroke-width="0.8"/>
<text transform="translate(258.50,250.80) scale(1.13,1)" font-size="8.4" text-anchor="end" fill="#222" >0.4</text>
<line x1="260.5" y1="224.60" x2="262.5" y2="224.60" stroke="#555" stroke-width="0.8"/>
<text transform="translate(258.50,227.60) scale(1.13,1)" font-size="8.4" text-anchor="end" fill="#222" >0.6</text>
<line x1="260.5" y1="201.40" x2="262.5" y2="201.40" stroke="#555" stroke-width="0.8"/>
<text transform="translate(258.50,204.40) scale(1.13,1)" font-size="8.4" text-anchor="end" fill="#222" >0.8</text>
<rect x="375.5" y="205.6" width="62.10000000000002" height="14.599999999999994" rx="1.5" fill="#fff" fill-opacity="0.85" stroke="#ddd" stroke-width="0.8"/>
<line x1="378.8" y1="212.6" x2="393.6" y2="212.6" stroke="#f00" stroke-width="1.8" stroke-dasharray="6.07,2.66"/>
<text transform="translate(403.30,215.50) scale(1.17,1)" font-size="8.6" text-anchor="start" fill="#222" >true p3</text>
<text transform="translate(281.20,310.10) scale(1.05,1)" font-size="15.8" text-anchor="middle" fill="#000" >E</text>
<text transform="translate(352.30,341.00) scale(1.0,1)" font-size="13" text-anchor="middle" fill="#000" >N</text>
<line x1="204.3" y1="239.4" x2="262.5" y2="201.4" stroke="#e0464b" stroke-width="1.1"/>
<line x1="204.3" y1="260.5" x2="262.5" y2="317.4" stroke="#e0464b" stroke-width="1.1"/>
<clipPath id="cF"><rect x="516.5" y="197.2" width="164.10000000000002" height="121.40000000000003"/></clipPath>
<polyline points="524.0,250.9 673.1,250.9" fill="none" stroke="#f00" stroke-width="1.5" stroke-linejoin="round" stroke-dasharray="5.1,2.2"/>
<g clip-path="url(#cF)">
<polyline points="524.0,167.2 524.3,277.4 524.5,167.2 524.8,215.6 525.1,189.8 525.3,231.7 525.6,202.9 525.9,253.8 526.1,270.2 526.4,248.6 526.7,253.8 526.9,270.1 527.2,268.5 527.5,252.8 527.7,254.0 528.0,273.2 528.3,271.1 528.6,292.9 528.8,243.2 529.1,268.8 529.4,248.9 529.6,260.6 529.9,242.7 530.2,248.0 530.4,262.2 530.7,249.5 531.0,277.0 531.2,252.6 531.5,282.5 531.8,262.3 532.0,255.3 532.3,263.6 532.6,269.6 532.9,274.0 532.9,269.3 534.6,257.0 536.2,259.0 537.8,267.8 539.5,274.9 541.1,261.6 542.8,275.2 544.4,269.1 546.0,270.1 547.7,262.0 549.3,264.6 551.0,263.6 552.6,264.5 554.2,269.1 555.9,263.5 557.5,259.9 559.2,266.0 560.8,263.3 562.4,266.3 564.1,261.9 565.7,263.3 567.4,262.6 569.0,264.6 570.7,260.2 572.3,267.1 573.9,267.0 575.6,267.9 577.2,263.9 578.9,267.9 580.5,268.0 582.1,263.6 583.8,262.4 585.4,264.1 587.1,274.2 588.7,268.8 590.3,269.1 592.0,269.4 593.6,267.0 595.3,261.0 596.9,266.7 598.5,267.9 600.2,264.0 601.8,265.6 603.5,265.5 605.1,267.7 606.8,265.8 608.4,264.7 610.0,270.8 611.7,270.0 613.3,263.3 615.0,263.9 616.6,267.1 618.2,268.3 619.9,266.2 621.5,268.7 623.2,266.6 624.8,262.2 626.4,265.5 628.1,263.3 629.7,266.3 631.4,265.0 633.0,262.9 634.7,268.8 636.3,266.6 637.9,266.1 639.6,265.2 641.2,262.7 642.9,264.4 644.5,269.0 646.1,266.4 647.8,267.7 649.4,267.7 651.1,262.0 652.7,268.0 654.3,265.4 656.0,267.2 657.6,264.2 659.3,265.1 660.9,265.6 662.5,265.9 664.2,263.8 665.8,267.6 667.5,267.2 669.1,267.9 670.8,263.5 672.4,266.3" fill="none" stroke="#17becf" stroke-width="1.1" stroke-linejoin="round" stroke-opacity="0.85" />
<polyline points="524.0,167.2 524.3,183.0 524.5,167.2 524.8,220.9 525.1,205.0 525.3,229.4 525.6,249.9 525.9,272.3 526.1,265.9 526.4,268.2 526.7,308.0 526.9,216.8 527.2,248.2 527.5,262.6 527.7,268.4 528.0,278.1 528.3,251.8 528.6,268.3 528.8,259.2 529.1,285.4 529.4,260.9 529.6,241.4 529.9,269.5 530.2,256.5 530.4,265.4 530.7,253.7 531.0,254.3 531.2,265.1 531.5,272.1 531.8,262.9 532.0,265.4 532.3,272.3 532.6,261.5 532.9,261.8 532.9,274.8 534.6,266.8 536.2,243.4 537.8,260.0 539.5,265.1 541.1,250.1 542.8,268.8 544.4,281.1 546.0,277.1 547.7,274.4 549.3,264.5 551.0,261.1 552.6,276.8 554.2,260.8 555.9,271.6 557.5,264.7 559.2,263.9 560.8,264.1 562.4,265.8 564.1,265.1 565.7,270.4 567.4,264.8 569.0,262.4 570.7,262.6 572.3,257.0 573.9,262.2 575.6,263.4 577.2,260.5 578.9,265.0 580.5,270.1 582.1,273.2 583.8,262.0 585.4,264.1 587.1,263.4 588.7,266.8 590.3,264.8 592.0,260.6 593.6,264.9 595.3,269.1 596.9,267.0 598.5,262.2 600.2,268.9 601.8,273.0 603.5,272.1 605.1,269.4 606.8,263.8 608.4,265.6 610.0,267.8 611.7,269.1 613.3,266.1 615.0,266.2 616.6,267.2 618.2,266.4 619.9,267.7 621.5,261.8 623.2,271.5 624.8,265.5 626.4,268.2 628.1,264.3 629.7,266.3 631.4,265.0 633.0,264.7 634.7,265.4 636.3,263.8 637.9,268.9 639.6,263.9 641.2,266.3 642.9,265.0 644.5,262.8 646.1,263.6 647.8,262.0 649.4,270.5 651.1,267.8 652.7,264.0 654.3,268.1 656.0,266.2 657.6,262.7 659.3,264.2 660.9,267.7 662.5,265.0 664.2,264.6 665.8,265.7 667.5,266.0 669.1,265.5 670.8,268.6 672.4,265.6" fill="none" stroke="#bcbd22" stroke-width="1.1" stroke-linejoin="round" stroke-opacity="0.85" />
<polyline points="524.0,167.2 524.3,167.2 524.5,176.9 524.8,240.5 525.1,212.7 525.3,232.5 525.6,250.3 525.9,237.6 526.1,265.4 526.4,266.6 526.7,260.5 526.9,264.3 527.2,244.5 527.5,306.8 527.7,270.2 528.0,298.1 528.3,273.6 528.6,262.3 528.8,265.9 529.1,253.5 529.4,262.1 529.6,302.9 529.9,280.8 530.2,248.3 530.4,248.7 530.7,265.2 531.0,284.6 531.2,243.6 531.5,290.1 531.8,263.3 532.0,267.0 532.3,264.1 532.6,278.7 532.9,270.6 532.9,256.5 534.6,271.0 536.2,278.1 537.8,266.5 539.5,265.7 541.1,267.3 542.8,271.5 544.4,263.2 546.0,267.1 547.7,273.0 549.3,265.1 551.0,266.4 552.6,265.5 554.2,274.6 555.9,269.9 557.5,264.2 559.2,262.3 560.8,264.7 562.4,265.5 564.1,263.3 565.7,262.4 567.4,259.7 569.0,264.3 570.7,268.1 572.3,264.3 573.9,273.0 575.6,265.7 577.2,267.5 578.9,266.0 580.5,264.4 582.1,265.7 583.8,270.6 585.4,267.0 587.1,268.4 588.7,265.9 590.3,264.8 592.0,268.7 593.6,263.8 595.3,262.3 596.9,266.6 598.5,263.9 600.2,270.0 601.8,267.3 603.5,263.4 605.1,270.6 606.8,267.2 608.4,268.2 610.0,263.1 611.7,263.1 613.3,267.4 615.0,265.5 616.6,272.3 618.2,263.9 619.9,265.0 621.5,262.9 623.2,271.5 624.8,265.1 626.4,266.6 628.1,271.9 629.7,267.4 631.4,266.0 633.0,264.1 634.7,265.4 636.3,267.0 637.9,264.9 639.6,266.0 641.2,267.2 642.9,268.0 644.5,265.5 646.1,265.5 647.8,262.3 649.4,266.7 651.1,262.8 652.7,265.1 654.3,263.6 656.0,267.6 657.6,267.6 659.3,266.4 660.9,264.2 662.5,265.5 664.2,264.5 665.8,265.2 667.5,264.0 669.1,265.4 670.8,266.8 672.4,264.9" fill="none" stroke="#7f7f7f" stroke-width="1.1" stroke-linejoin="round" stroke-opacity="0.85" />
<polyline points="524.0,167.2 524.3,167.2 524.5,202.7 524.8,214.1 525.1,239.1 525.3,209.7 525.6,221.5 525.9,221.5 526.1,287.6 526.4,293.9 526.7,257.0 526.9,250.2 527.2,238.8 527.5,296.5 527.7,267.8 528.0,292.8 528.3,280.5 528.6,268.8 528.8,252.7 529.1,273.1 529.4,275.6 529.6,270.0 529.9,250.9 530.2,237.9 530.4,284.8 530.7,269.1 531.0,270.8 531.2,253.5 531.5,261.3 531.8,250.3 532.0,276.7 532.3,265.7 532.6,270.5 532.9,277.0 532.9,267.4 534.6,276.7 536.2,249.1 537.8,262.8 539.5,273.2 541.1,270.0 542.8,255.5 544.4,268.8 546.0,262.1 547.7,262.8 549.3,260.4 551.0,262.8 552.6,266.9 554.2,268.7 555.9,274.2 557.5,266.0 559.2,265.2 560.8,267.4 562.4,266.4 564.1,270.8 565.7,257.8 567.4,267.8 569.0,269.8 570.7,268.0 572.3,266.4 573.9,263.3 575.6,274.4 577.2,264.2 578.9,267.9 580.5,266.4 582.1,262.7 583.8,263.5 585.4,268.0 587.1,266.1 588.7,260.5 590.3,262.0 592.0,263.4 593.6,265.8 595.3,263.2 596.9,264.7 598.5,267.3 600.2,268.6 601.8,264.5 603.5,264.8 605.1,262.8 606.8,267.1 608.4,262.4 610.0,266.7 611.7,262.8 613.3,264.5 615.0,267.2 616.6,268.2 618.2,266.1 619.9,266.4 621.5,263.7 623.2,267.4 624.8,269.3 626.4,265.8 628.1,261.7 629.7,262.3 631.4,267.2 633.0,266.4 634.7,265.1 636.3,267.3 637.9,266.3 639.6,266.4 641.2,268.1 642.9,267.1 644.5,266.8 646.1,265.3 647.8,268.3 649.4,265.6 651.1,267.8 652.7,267.4 654.3,268.1 656.0,258.4 657.6,263.5 659.3,263.3 660.9,264.3 662.5,266.2 664.2,265.7 665.8,265.3 667.5,265.0 669.1,264.8 670.8,263.1 672.4,271.4" fill="none" stroke="#e377c2" stroke-width="1.1" stroke-linejoin="round" stroke-opacity="0.85" />
<polyline points="524.0,324.7 524.3,324.7 524.5,324.7 524.8,324.7 525.1,184.1 525.3,237.1 525.6,204.0 525.9,255.6 526.1,252.8 526.4,283.9 526.7,303.3 526.9,271.3 527.2,262.9 527.5,270.6 527.7,287.8 528.0,255.4 528.3,264.3 528.6,265.3 528.8,277.0 529.1,244.3 529.4,247.2 529.6,262.0 529.9,267.2 530.2,262.8 530.4,246.7 530.7,234.9 531.0,265.6 531.2,270.7 531.5,286.2 531.8,237.7 532.0,277.7 532.3,257.4 532.6,261.0 532.9,253.4 532.9,274.5 534.6,280.7 536.2,264.6 537.8,262.9 539.5,258.1 541.1,277.4 542.8,268.7 544.4,267.4 546.0,273.8 547.7,266.7 549.3,261.8 551.0,266.0 552.6,273.1 554.2,264.2 555.9,262.1 557.5,263.5 559.2,262.6 560.8,273.0 562.4,264.0 564.1,263.5 565.7,267.3 567.4,266.0 569.0,268.8 570.7,261.5 572.3,266.9 573.9,269.2 575.6,265.2 577.2,265.4 578.9,263.7 580.5,268.6 582.1,268.0 583.8,264.6 585.4,259.3 587.1,264.4 588.7,270.0 590.3,265.3 592.0,268.1 593.6,271.3 595.3,267.8 596.9,267.4 598.5,264.7 600.2,262.4 601.8,262.9 603.5,263.8 605.1,267.0 606.8,265.4 608.4,265.9 610.0,262.4 611.7,267.5 613.3,267.2 615.0,262.3 616.6,264.5 618.2,266.9 619.9,265.4 621.5,265.5 623.2,265.4 624.8,264.0 626.4,265.0 628.1,266.2 629.7,267.0 631.4,269.7 633.0,266.8 634.7,263.4 636.3,265.3 637.9,267.2 639.6,266.3 641.2,267.6 642.9,265.2 644.5,261.9 646.1,262.3 647.8,263.5 649.4,264.3 651.1,266.2 652.7,268.3 654.3,265.8 656.0,266.7 657.6,264.3 659.3,265.5 660.9,266.9 662.5,265.0 664.2,260.6 665.8,267.5 667.5,263.8 669.1,264.7 670.8,266.0 672.4,267.2" fill="none" stroke="#8c564b" stroke-width="1.1" stroke-linejoin="round" stroke-opacity="0.85" />
<polyline points="524.0,167.2 524.3,167.2 524.5,167.2 524.8,190.6 525.1,221.7 525.3,255.0 525.6,241.5 525.9,266.2 526.1,282.4 526.4,241.9 526.7,275.5 526.9,286.4 527.2,262.3 527.5,298.7 527.7,265.8 528.0,258.3 528.3,271.8 528.6,262.1 528.8,236.7 529.1,247.1 529.4,253.9 529.6,258.3 529.9,272.4 530.2,267.4 530.4,269.2 530.7,265.4 531.0,264.5 531.2,275.1 531.5,249.2 531.8,277.2 532.0,262.2 532.3,255.8 532.6,266.1 532.9,272.6 532.9,265.5 534.6,249.5 536.2,261.0 537.8,268.1 539.5,261.9 541.1,267.1 542.8,278.0 544.4,264.4 546.0,260.2 547.7,259.8 549.3,266.1 551.0,273.2 552.6,260.3 554.2,266.5 555.9,262.6 557.5,261.1 559.2,264.4 560.8,266.1 562.4,268.5 564.1,267.6 565.7,265.7 567.4,267.6 569.0,264.5 570.7,273.2 572.3,269.6 573.9,265.9 575.6,268.3 577.2,267.7 578.9,269.7 580.5,263.8 582.1,260.9 583.8,269.1 585.4,262.5 587.1,270.4 588.7,265.4 590.3,272.0 592.0,264.5 593.6,265.8 595.3,265.5 596.9,262.6 598.5,264.3 600.2,265.9 601.8,268.1 603.5,265.7 605.1,267.7 606.8,267.0 608.4,262.3 610.0,263.8 611.7,265.2 613.3,264.4 615.0,269.5 616.6,265.6 618.2,270.1 619.9,267.5 621.5,265.0 623.2,265.0 624.8,264.4 626.4,265.5 628.1,265.8 629.7,265.9 631.4,263.0 633.0,263.2 634.7,269.2 636.3,265.6 637.9,263.3 639.6,266.5 641.2,265.5 642.9,267.2 644.5,268.5 646.1,265.7 647.8,266.8 649.4,266.3 651.1,269.0 652.7,268.4 654.3,266.3 656.0,266.9 657.6,265.0 659.3,268.1 660.9,264.7 662.5,265.0 664.2,265.9 665.8,264.9 667.5,266.2 669.1,266.4 670.8,266.1 672.4,268.5" fill="none" stroke="#9467bd" stroke-width="1.1" stroke-linejoin="round" stroke-opacity="0.85" />
<polyline points="524.0,324.7 524.3,324.7 524.5,324.7 524.8,324.7 525.1,249.4 525.3,252.2 525.6,250.9 525.9,252.6 526.1,232.1 526.4,267.2 526.7,232.7 526.9,265.5 527.2,258.4 527.5,256.2 527.7,278.9 528.0,285.9 528.3,266.0 528.6,257.9 528.8,256.0 529.1,272.7 529.4,245.3 529.6,269.0 529.9,276.1 530.2,253.6 530.4,253.1 530.7,278.2 531.0,257.7 531.2,281.1 531.5,265.9 531.8,243.5 532.0,253.4 532.3,259.2 532.6,259.8 532.9,274.3 532.9,262.7 534.6,262.0 536.2,274.4 537.8,264.2 539.5,262.0 541.1,264.3 542.8,263.1 544.4,267.0 546.0,272.2 547.7,265.5 549.3,276.1 551.0,269.3 552.6,260.6 554.2,257.7 555.9,263.9 557.5,276.7 559.2,260.2 560.8,263.5 562.4,266.4 564.1,262.8 565.7,263.6 567.4,270.3 569.0,270.6 570.7,262.0 572.3,274.1 573.9,263.6 575.6,264.6 577.2,262.5 578.9,260.2 580.5,261.5 582.1,260.9 583.8,263.2 585.4,264.1 587.1,262.5 588.7,265.6 590.3,268.4 592.0,265.8 593.6,270.3 595.3,267.2 596.9,260.2 598.5,264.3 600.2,266.1 601.8,267.3 603.5,270.5 605.1,267.1 606.8,267.7 608.4,265.6 610.0,265.5 611.7,265.8 613.3,270.5 615.0,262.3 616.6,264.7 618.2,265.7 619.9,266.5 621.5,264.7 623.2,263.0 624.8,264.4 626.4,268.4 628.1,268.6 629.7,271.2 631.4,265.5 633.0,264.3 634.7,263.3 636.3,265.5 637.9,264.1 639.6,267.8 641.2,264.7 642.9,266.0 644.5,267.2 646.1,269.3 647.8,263.6 649.4,270.5 651.1,264.6 652.7,267.4 654.3,264.7 656.0,266.9 657.6,264.4 659.3,266.2 660.9,267.9 662.5,266.8 664.2,268.9 665.8,265.3 667.5,264.0 669.1,265.1 670.8,265.6 672.4,263.6" fill="none" stroke="#d62728" stroke-width="1.1" stroke-linejoin="round" stroke-opacity="0.85" />
<polyline points="524.0,167.4 524.3,167.2 524.5,197.4 524.8,230.1 525.1,214.9 525.3,263.9 525.6,251.9 525.9,246.7 526.1,285.7 526.4,265.6 526.7,252.1 526.9,246.2 527.2,281.6 527.5,250.0 527.7,270.0 528.0,263.8 528.3,274.0 528.6,254.8 528.8,276.0 529.1,262.0 529.4,261.0 529.6,256.6 529.9,279.3 530.2,256.9 530.4,265.4 530.7,249.9 531.0,269.9 531.2,272.4 531.5,266.5 531.8,269.3 532.0,267.7 532.3,279.3 532.6,287.5 532.9,280.9 532.9,271.9 534.6,262.3 536.2,268.5 537.8,273.4 539.5,267.0 541.1,265.5 542.8,249.5 544.4,258.6 546.0,264.8 547.7,274.1 549.3,266.8 551.0,267.4 552.6,263.3 554.2,256.4 555.9,266.1 557.5,274.9 559.2,266.3 560.8,273.1 562.4,262.6 564.1,261.7 565.7,264.6 567.4,271.7 569.0,266.5 570.7,261.6 572.3,269.5 573.9,268.0 575.6,265.0 577.2,264.2 578.9,265.6 580.5,264.8 582.1,265.2 583.8,267.7 585.4,266.1 587.1,265.0 588.7,269.2 590.3,265.3 592.0,265.5 593.6,264.5 595.3,264.9 596.9,268.8 598.5,269.4 600.2,265.2 601.8,266.2 603.5,265.5 605.1,267.3 606.8,269.2 608.4,265.1 610.0,266.1 611.7,264.3 613.3,263.3 615.0,263.3 616.6,263.5 618.2,268.2 619.9,271.0 621.5,267.3 623.2,268.7 624.8,268.9 626.4,264.4 628.1,269.6 629.7,263.9 631.4,263.5 633.0,260.3 634.7,263.7 636.3,261.6 637.9,267.2 639.6,267.3 641.2,263.9 642.9,268.6 644.5,263.6 646.1,266.4 647.8,269.9 649.4,262.3 651.1,268.1 652.7,261.1 654.3,268.8 656.0,267.5 657.6,265.4 659.3,265.8 660.9,268.9 662.5,265.6 664.2,265.5 665.8,265.0 667.5,268.9 669.1,267.0 670.8,266.0 672.4,264.4" fill="none" stroke="#2ca02c" stroke-width="1.1" stroke-linejoin="round" stroke-opacity="0.85" />
<polyline points="524.0,167.2 524.3,180.7 524.5,211.2 524.8,167.2 525.1,250.0 525.3,234.3 525.6,300.4 525.9,300.4 526.1,248.2 526.4,299.4 526.7,250.6 526.9,238.4 527.2,250.1 527.5,263.4 527.7,251.9 528.0,277.4 528.3,269.4 528.6,271.0 528.8,264.6 529.1,280.5 529.4,248.5 529.6,267.5 529.9,279.8 530.2,268.6 530.4,261.7 530.7,265.3 531.0,254.1 531.2,270.0 531.5,274.5 531.8,260.8 532.0,253.3 532.3,276.1 532.6,282.4 532.9,272.4 532.9,266.6 534.6,275.3 536.2,264.6 537.8,272.6 539.5,259.9 541.1,274.0 542.8,271.8 544.4,265.4 546.0,262.2 547.7,261.1 549.3,269.6 551.0,265.8 552.6,263.4 554.2,259.5 555.9,270.1 557.5,271.6 559.2,263.9 560.8,267.0 562.4,260.7 564.1,265.8 565.7,264.7 567.4,269.0 569.0,264.9 570.7,261.6 572.3,266.8 573.9,270.2 575.6,263.0 577.2,266.9 578.9,265.7 580.5,268.3 582.1,263.0 583.8,268.3 585.4,267.4 587.1,265.8 588.7,266.5 590.3,272.7 592.0,264.6 593.6,269.3 595.3,265.2 596.9,267.0 598.5,266.2 600.2,267.9 601.8,268.8 603.5,265.5 605.1,265.3 606.8,263.4 608.4,264.6 610.0,267.7 611.7,263.1 613.3,260.7 615.0,264.2 616.6,266.3 618.2,268.2 619.9,265.6 621.5,269.3 623.2,264.1 624.8,266.8 626.4,267.2 628.1,265.3 629.7,268.7 631.4,269.8 633.0,266.8 634.7,263.4 636.3,267.7 637.9,264.1 639.6,269.9 641.2,266.0 642.9,264.8 644.5,262.4 646.1,269.6 647.8,266.0 649.4,267.7 651.1,265.3 652.7,267.0 654.3,265.7 656.0,267.4 657.6,267.0 659.3,265.1 660.9,263.2 662.5,265.5 664.2,265.6 665.8,266.8 667.5,263.1 669.1,269.6 670.8,269.6 672.4,267.3" fill="none" stroke="#ff7f0e" stroke-width="1.1" stroke-linejoin="round" stroke-opacity="0.85" />
<polyline points="524.0,167.2 524.3,167.2 524.5,171.8 524.8,190.7 525.1,228.4 525.3,251.9 525.6,267.8 525.9,244.9 526.1,281.2 526.4,252.5 526.7,248.6 526.9,275.9 527.2,272.9 527.5,274.8 527.7,254.8 528.0,263.3 528.3,276.3 528.6,262.3 528.8,246.0 529.1,262.4 529.4,264.5 529.6,271.5 529.9,278.2 530.2,266.1 530.4,265.4 530.7,269.9 531.0,253.5 531.2,268.8 531.5,267.9 531.8,264.2 532.0,260.9 532.3,285.0 532.6,263.6 532.9,254.5 532.9,277.4 534.6,262.8 536.2,270.3 537.8,273.7 539.5,264.2 541.1,266.7 542.8,279.4 544.4,269.6 546.0,261.6 547.7,269.3 549.3,270.0 551.0,267.9 552.6,268.2 554.2,262.6 555.9,269.9 557.5,271.2 559.2,264.2 560.8,262.0 562.4,263.2 564.1,262.8 565.7,268.5 567.4,271.6 569.0,268.6 570.7,266.0 572.3,272.1 573.9,267.0 575.6,264.0 577.2,268.3 578.9,259.7 580.5,263.6 582.1,269.8 583.8,269.5 585.4,268.1 587.1,263.8 588.7,264.5 590.3,267.5 592.0,265.4 593.6,263.7 595.3,264.5 596.9,270.4 598.5,268.9 600.2,268.4 601.8,270.6 603.5,263.7 605.1,267.6 606.8,267.6 608.4,268.0 610.0,265.1 611.7,264.5 613.3,264.3 615.0,263.0 616.6,268.1 618.2,262.2 619.9,260.4 621.5,267.1 623.2,266.7 624.8,264.5 626.4,263.2 628.1,266.4 629.7,267.7 631.4,261.5 633.0,267.0 634.7,271.9 636.3,264.7 637.9,263.8 639.6,262.4 641.2,262.3 642.9,259.8 644.5,267.0 646.1,267.9 647.8,268.8 649.4,262.6 651.1,266.7 652.7,269.2 654.3,270.0 656.0,265.6 657.6,266.7 659.3,265.2 660.9,267.5 662.5,267.2 664.2,265.0 665.8,266.2 667.5,264.8 669.1,266.1 670.8,266.3 672.4,265.2" fill="none" stroke="#1f77b4" stroke-width="1.1" stroke-linejoin="round" stroke-opacity="0.85" />
</g>
<rect x="516.5" y="197.2" width="164.10000000000002" height="121.40000000000003" fill="none" stroke="#555" stroke-width="0.9"/>
<line x1="523.96" y1="318.6" x2="523.96" y2="320.6" stroke="#555" stroke-width="0.8"/>
<text transform="translate(523.96,329.20) scale(1.13,1)" font-size="9.2" text-anchor="middle" fill="#222" >0</text>
<line x1="553.80" y1="318.6" x2="553.80" y2="320.6" stroke="#555" stroke-width="0.8"/>
<text transform="translate(553.80,329.20) scale(1.13,1)" font-size="9.2" text-anchor="middle" fill="#222" >1000</text>
<line x1="583.63" y1="318.6" x2="583.63" y2="320.6" stroke="#555" stroke-width="0.8"/>
<text transform="translate(583.63,329.20) scale(1.13,1)" font-size="9.2" text-anchor="middle" fill="#222" >2000</text>
<line x1="613.47" y1="318.6" x2="613.47" y2="320.6" stroke="#555" stroke-width="0.8"/>
<text transform="translate(613.47,329.20) scale(1.13,1)" font-size="9.2" text-anchor="middle" fill="#222" >3000</text>
<line x1="643.30" y1="318.6" x2="643.30" y2="320.6" stroke="#555" stroke-width="0.8"/>
<text transform="translate(643.30,329.20) scale(1.13,1)" font-size="9.2" text-anchor="middle" fill="#222" >4000</text>
<line x1="673.14" y1="318.6" x2="673.14" y2="320.6" stroke="#555" stroke-width="0.8"/>
<text transform="translate(673.14,329.20) scale(1.13,1)" font-size="9.2" text-anchor="middle" fill="#222" >5000</text>
<line x1="514.5" y1="318.60" x2="516.5" y2="318.60" stroke="#555" stroke-width="0.8"/>
<text transform="translate(513.10,321.20) scale(1.13,1)" font-size="7.2" text-anchor="end" fill="#222" >−0.2</text>
<line x1="514.5" y1="294.32" x2="516.5" y2="294.32" stroke="#555" stroke-width="0.8"/>
<text transform="translate(513.10,296.92) scale(1.13,1)" font-size="7.2" text-anchor="end" fill="#222" >0</text>
<line x1="514.5" y1="270.04" x2="516.5" y2="270.04" stroke="#555" stroke-width="0.8"/>
<text transform="translate(513.10,272.64) scale(1.13,1)" font-size="7.2" text-anchor="end" fill="#222" >0.2</text>
<line x1="514.5" y1="245.76" x2="516.5" y2="245.76" stroke="#555" stroke-width="0.8"/>
<text transform="translate(513.10,248.36) scale(1.13,1)" font-size="7.2" text-anchor="end" fill="#222" >0.4</text>
<line x1="514.5" y1="221.48" x2="516.5" y2="221.48" stroke="#555" stroke-width="0.8"/>
<text transform="translate(513.10,224.08) scale(1.13,1)" font-size="7.2" text-anchor="end" fill="#222" >0.6</text>
<line x1="514.5" y1="197.20" x2="516.5" y2="197.20" stroke="#555" stroke-width="0.8"/>
<text transform="translate(513.10,199.80) scale(1.13,1)" font-size="7.2" text-anchor="end" fill="#222" >0.8</text>
<rect x="623.5" y="200.6" width="52.700000000000045" height="12.900000000000006" rx="1.5" fill="#fff" fill-opacity="0.85" stroke="#ddd" stroke-width="0.8"/>
<line x1="626.3" y1="206.4" x2="639.1" y2="206.4" stroke="#f00" stroke-width="1.5" stroke-dasharray="5.25,2.30"/>
<text transform="translate(647.00,209.20) scale(1.21,1)" font-size="7.0" text-anchor="start" fill="#222" >ture p3</text>
<text transform="translate(546.70,309.80) scale(1.05,1)" font-size="15.8" text-anchor="middle" fill="#000" >F</text>
<text transform="translate(598.40,342.90) scale(1.0,1)" font-size="13.8" text-anchor="middle" fill="#000" >N</text>
<text transform="translate(492,267.1) rotate(-90) scale(1.1,1)" font-size="18.5" fill="#000" font-style="italic">p</text>
<text transform="translate(495.2,255.4) rotate(-90)" font-size="13" fill="#000">3</text>
</svg>
</body></html>
